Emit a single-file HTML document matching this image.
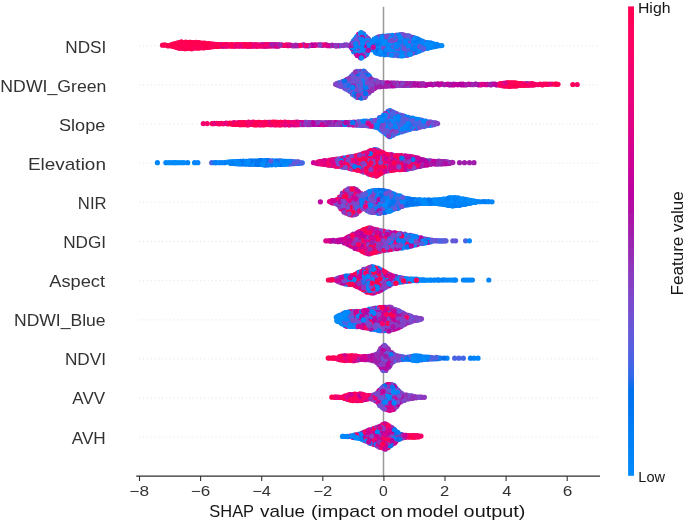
<!DOCTYPE html>
<html><head><meta charset="utf-8"><title>SHAP summary</title>
<style>
html,body{margin:0;padding:0;background:#fff;}
svg{display:block;will-change:transform;}
text{font-family:"Liberation Sans",sans-serif;}
circle{r:2.6px;}
.c0{fill:#008bfb}.c1{fill:#0086fa}.c2{fill:#0084f9}.c3{fill:#007ff7}.c4{fill:#007cf5}.c5{fill:#0077f2}.c6{fill:#0074f0}.c7{fill:#006fed}.c8{fill:#266cea}.c9{fill:#4066e6}.c10{fill:#4c63e3}.c11{fill:#5b5ddd}.c12{fill:#6459da}.c13{fill:#6f52d4}.c14{fill:#794cce}.c15{fill:#7f47c9}.c16{fill:#883fc2}.c17{fill:#8d39be}.c18{fill:#9430b6}.c19{fill:#9829b1}.c20{fill:#a01fab}.c21{fill:#a71aa9}.c22{fill:#b00fa5}.c23{fill:#b604a2}.c24{fill:#bf009d}.c25{fill:#c5009a}.c26{fill:#cd0095}.c27{fill:#d40090}.c28{fill:#d9008c}.c29{fill:#df0086}.c30{fill:#e30082}.c31{fill:#e9007c}.c32{fill:#ec0078}.c33{fill:#f10072}.c34{fill:#f4006e}.c35{fill:#f80067}.c36{fill:#fb0063}.c37{fill:#fe005c}.c38{fill:#ff0058}.c39{fill:#ff0051}
</style></head><body>
<svg width="685" height="523" viewBox="0 0 685 523">
<rect width="685" height="523" fill="#fff"/>
<defs><linearGradient id="cb" x1="0" y1="1" x2="0" y2="0"><stop offset="0.000" stop-color="#008bfb"/><stop offset="0.030" stop-color="#0086fa"/><stop offset="0.061" stop-color="#0082f8"/><stop offset="0.091" stop-color="#007ef6"/><stop offset="0.121" stop-color="#0079f3"/><stop offset="0.152" stop-color="#0074f0"/><stop offset="0.182" stop-color="#006fed"/><stop offset="0.212" stop-color="#306ae9"/><stop offset="0.242" stop-color="#4664e4"/><stop offset="0.273" stop-color="#575fdf"/><stop offset="0.303" stop-color="#6459da"/><stop offset="0.333" stop-color="#6f52d4"/><stop offset="0.364" stop-color="#794cce"/><stop offset="0.394" stop-color="#8244c7"/><stop offset="0.424" stop-color="#8a3cc0"/><stop offset="0.455" stop-color="#9233b9"/><stop offset="0.485" stop-color="#9829b1"/><stop offset="0.515" stop-color="#a01fab"/><stop offset="0.545" stop-color="#aa17a7"/><stop offset="0.576" stop-color="#b30aa3"/><stop offset="0.606" stop-color="#bc009f"/><stop offset="0.636" stop-color="#c5009a"/><stop offset="0.667" stop-color="#cd0095"/><stop offset="0.697" stop-color="#d40090"/><stop offset="0.727" stop-color="#db008a"/><stop offset="0.758" stop-color="#e10084"/><stop offset="0.788" stop-color="#e7007e"/><stop offset="0.818" stop-color="#ec0078"/><stop offset="0.848" stop-color="#f10072"/><stop offset="0.879" stop-color="#f6006c"/><stop offset="0.909" stop-color="#fa0065"/><stop offset="0.939" stop-color="#fd005f"/><stop offset="0.970" stop-color="#ff0058"/><stop offset="1.000" stop-color="#ff0051"/><stop offset="1" stop-color="#ff0051"/></linearGradient><filter id="soft" x="0" y="0" width="100%" height="100%" filterUnits="userSpaceOnUse"><feGaussianBlur stdDeviation="0.42"/></filter></defs>
<g filter="url(#soft)">
<line x1="136.5" x2="599.7" y1="45.9" y2="45.9" stroke="#ebebeb" stroke-width="1.3" stroke-dasharray="1.2 2.61" stroke-dashoffset="1.1"/>
<line x1="136.5" x2="599.7" y1="85.0" y2="85.0" stroke="#ebebeb" stroke-width="1.3" stroke-dasharray="1.2 2.61" stroke-dashoffset="1.1"/>
<line x1="136.5" x2="599.7" y1="124.1" y2="124.1" stroke="#ebebeb" stroke-width="1.3" stroke-dasharray="1.2 2.61" stroke-dashoffset="1.1"/>
<line x1="136.5" x2="599.7" y1="163.2" y2="163.2" stroke="#ebebeb" stroke-width="1.3" stroke-dasharray="1.2 2.61" stroke-dashoffset="1.1"/>
<line x1="136.5" x2="599.7" y1="202.4" y2="202.4" stroke="#ebebeb" stroke-width="1.3" stroke-dasharray="1.2 2.61" stroke-dashoffset="1.1"/>
<line x1="136.5" x2="599.7" y1="241.5" y2="241.5" stroke="#ebebeb" stroke-width="1.3" stroke-dasharray="1.2 2.61" stroke-dashoffset="1.1"/>
<line x1="136.5" x2="599.7" y1="280.6" y2="280.6" stroke="#ebebeb" stroke-width="1.3" stroke-dasharray="1.2 2.61" stroke-dashoffset="1.1"/>
<line x1="136.5" x2="599.7" y1="319.8" y2="319.8" stroke="#ebebeb" stroke-width="1.3" stroke-dasharray="1.2 2.61" stroke-dashoffset="1.1"/>
<line x1="136.5" x2="599.7" y1="358.9" y2="358.9" stroke="#ebebeb" stroke-width="1.3" stroke-dasharray="1.2 2.61" stroke-dashoffset="1.1"/>
<line x1="136.5" x2="599.7" y1="398.0" y2="398.0" stroke="#ebebeb" stroke-width="1.3" stroke-dasharray="1.2 2.61" stroke-dashoffset="1.1"/>
<line x1="136.5" x2="599.7" y1="437.2" y2="437.2" stroke="#ebebeb" stroke-width="1.3" stroke-dasharray="1.2 2.61" stroke-dashoffset="1.1"/>
<line x1="383.5" x2="383.5" y1="6.7" y2="476.0" stroke="#999999" stroke-width="1.5"/>
<g>
<circle class="c0" cx="401.6" cy="37.3" r="2.6"/><circle class="c1" cx="395.0" cy="44.1" r="2.6"/><circle class="c39" cx="200.0" cy="42.8" r="2.6"/><circle class="c0" cx="419.4" cy="41.8" r="2.6"/><circle class="c0" cx="375.5" cy="52.3" r="2.6"/><circle class="c1" cx="433.7" cy="46.6" r="2.6"/>
<circle class="c4" cx="393.0" cy="35.9" r="2.6"/><circle class="c2" cx="405.5" cy="51.0" r="2.6"/><circle class="c24" cx="354.9" cy="41.6" r="2.6"/><circle class="c0" cx="416.9" cy="38.5" r="2.6"/><circle class="c3" cx="427.3" cy="42.5" r="2.6"/><circle class="c14" cx="348.9" cy="45.6" r="2.6"/>
<circle class="c39" cx="189.7" cy="42.3" r="2.6"/><circle class="c0" cx="354.3" cy="48.9" r="2.6"/><circle class="c35" cx="208.4" cy="45.4" r="2.6"/><circle class="c12" cx="360.7" cy="43.9" r="2.6"/><circle class="c11" cx="409.5" cy="49.5" r="2.6"/><circle class="c13" cx="377.6" cy="46.4" r="2.6"/>
<circle class="c2" cx="420.7" cy="45.7" r="2.6"/><circle class="c1" cx="360.0" cy="35.4" r="2.6"/><circle class="c14" cx="403.3" cy="55.4" r="2.6"/><circle class="c38" cx="192.0" cy="44.4" r="2.6"/><circle class="c39" cx="198.7" cy="42.7" r="2.6"/><circle class="c32" cx="237.3" cy="44.8" r="2.6"/>
<circle class="c32" cx="232.1" cy="44.8" r="2.6"/><circle class="c4" cx="387.5" cy="43.2" r="2.6"/><circle class="c28" cx="316.8" cy="45.0" r="2.6"/><circle class="c21" cx="263.9" cy="46.2" r="2.6"/><circle class="c30" cx="274.2" cy="44.7" r="2.6"/><circle class="c0" cx="376.9" cy="39.7" r="2.6"/>
<circle class="c18" cx="330.1" cy="45.7" r="2.6"/><circle class="c24" cx="356.9" cy="46.4" r="2.6"/><circle class="c7" cx="391.5" cy="52.3" r="2.6"/><circle class="c39" cx="202.5" cy="47.3" r="2.6"/><circle class="c17" cx="327.0" cy="45.0" r="2.6"/><circle class="c8" cx="394.7" cy="41.7" r="2.6"/>
<circle class="c1" cx="415.5" cy="49.9" r="2.6"/><circle class="c0" cx="405.8" cy="35.6" r="2.6"/><circle class="c39" cx="199.0" cy="48.1" r="2.6"/><circle class="c39" cx="181.3" cy="48.1" r="2.6"/><circle class="c26" cx="374.3" cy="49.3" r="2.6"/><circle class="c5" cx="438.0" cy="45.6" r="2.6"/>
<circle class="c39" cx="219.5" cy="45.9" r="2.6"/><circle class="c1" cx="392.2" cy="48.0" r="2.6"/><circle class="c1" cx="405.2" cy="49.0" r="2.6"/><circle class="c0" cx="441.8" cy="45.5" r="2.6"/><circle class="c13" cx="383.3" cy="49.8" r="2.6"/><circle class="c11" cx="423.4" cy="47.0" r="2.6"/>
<circle class="c23" cx="315.0" cy="44.8" r="2.6"/><circle class="c0" cx="375.2" cy="40.9" r="2.6"/><circle class="c1" cx="431.1" cy="43.2" r="2.6"/><circle class="c29" cx="314.4" cy="45.4" r="2.6"/><circle class="c3" cx="424.8" cy="48.5" r="2.6"/><circle class="c17" cx="363.9" cy="49.0" r="2.6"/>
<circle class="c37" cx="185.8" cy="42.1" r="2.6"/><circle class="c39" cx="182.6" cy="44.4" r="2.6"/><circle class="c39" cx="208.5" cy="47.2" r="2.6"/><circle class="c2" cx="403.8" cy="44.4" r="2.6"/><circle class="c32" cx="236.1" cy="44.6" r="2.6"/><circle class="c10" cx="404.2" cy="39.3" r="2.6"/>
<circle class="c36" cx="232.2" cy="46.2" r="2.6"/><circle class="c35" cx="257.6" cy="46.1" r="2.6"/><circle class="c3" cx="408.6" cy="45.1" r="2.6"/><circle class="c39" cx="198.2" cy="45.5" r="2.6"/><circle class="c1" cx="406.0" cy="44.5" r="2.6"/><circle class="c0" cx="411.9" cy="50.8" r="2.6"/>
<circle class="c1" cx="401.2" cy="53.1" r="2.6"/><circle class="c13" cx="414.0" cy="37.8" r="2.6"/><circle class="c2" cx="361.4" cy="53.7" r="2.6"/><circle class="c39" cx="196.0" cy="42.3" r="2.6"/><circle class="c2" cx="413.6" cy="50.6" r="2.6"/><circle class="c6" cx="381.0" cy="39.2" r="2.6"/>
<circle class="c0" cx="408.5" cy="47.9" r="2.6"/><circle class="c8" cx="398.1" cy="50.6" r="2.6"/><circle class="c33" cx="209.6" cy="47.0" r="2.6"/><circle class="c2" cx="401.1" cy="46.3" r="2.6"/><circle class="c1" cx="354.8" cy="39.3" r="2.6"/><circle class="c7" cx="419.4" cy="44.3" r="2.6"/>
<circle class="c0" cx="425.1" cy="42.3" r="2.6"/><circle class="c1" cx="412.6" cy="41.7" r="2.6"/><circle class="c39" cx="238.1" cy="44.7" r="2.6"/><circle class="c0" cx="413.7" cy="48.7" r="2.6"/><circle class="c35" cx="251.3" cy="45.9" r="2.6"/><circle class="c12" cx="402.5" cy="53.8" r="2.6"/>
<circle class="c38" cx="190.6" cy="42.3" r="2.6"/><circle class="c13" cx="353.3" cy="45.3" r="2.6"/><circle class="c39" cx="185.4" cy="48.7" r="2.6"/><circle class="c1" cx="403.5" cy="37.4" r="2.6"/><circle class="c6" cx="435.6" cy="46.3" r="2.6"/><circle class="c1" cx="359.2" cy="51.8" r="2.6"/>
<circle class="c2" cx="357.7" cy="35.8" r="2.6"/><circle class="c31" cx="271.8" cy="45.9" r="2.6"/><circle class="c13" cx="362.9" cy="47.8" r="2.6"/><circle class="c2" cx="406.8" cy="42.1" r="2.6"/><circle class="c39" cx="200.7" cy="45.1" r="2.6"/><circle class="c25" cx="339.1" cy="45.6" r="2.6"/>
<circle class="c37" cx="201.9" cy="45.3" r="2.6"/><circle class="c9" cx="399.2" cy="48.5" r="2.6"/><circle class="c11" cx="345.0" cy="45.0" r="2.6"/><circle class="c36" cx="270.4" cy="45.9" r="2.6"/><circle class="c2" cx="386.8" cy="38.9" r="2.6"/><circle class="c23" cx="311.6" cy="45.5" r="2.6"/>
<circle class="c2" cx="385.0" cy="38.3" r="2.6"/><circle class="c2" cx="365.0" cy="44.4" r="2.6"/><circle class="c15" cx="363.3" cy="38.7" r="2.6"/><circle class="c11" cx="413.3" cy="44.2" r="2.6"/><circle class="c1" cx="420.2" cy="48.5" r="2.6"/><circle class="c33" cx="220.5" cy="46.2" r="2.6"/>
<circle class="c8" cx="413.8" cy="46.6" r="2.6"/><circle class="c16" cx="395.4" cy="35.5" r="2.6"/><circle class="c38" cx="195.6" cy="47.8" r="2.6"/><circle class="c38" cx="202.8" cy="43.2" r="2.6"/><circle class="c0" cx="365.7" cy="47.8" r="2.6"/><circle class="c13" cx="400.6" cy="34.7" r="2.6"/>
<circle class="c8" cx="386.0" cy="42.8" r="2.6"/><circle class="c0" cx="359.1" cy="54.0" r="2.6"/><circle class="c39" cx="180.8" cy="44.7" r="2.6"/><circle class="c35" cx="238.7" cy="46.1" r="2.6"/><circle class="c9" cx="398.1" cy="44.4" r="2.6"/><circle class="c15" cx="410.2" cy="47.2" r="2.6"/>
<circle class="c37" cx="248.4" cy="46.1" r="2.6"/><circle class="c0" cx="379.2" cy="48.6" r="2.6"/><circle class="c39" cx="210.2" cy="46.9" r="2.6"/><circle class="c1" cx="409.8" cy="38.4" r="2.6"/><circle class="c2" cx="405.7" cy="37.9" r="2.6"/><circle class="c39" cx="193.7" cy="44.0" r="2.6"/>
<circle class="c39" cx="179.5" cy="44.3" r="2.6"/><circle class="c39" cx="174.1" cy="43.9" r="2.6"/><circle class="c0" cx="387.1" cy="40.4" r="2.6"/><circle class="c1" cx="357.7" cy="39.8" r="2.6"/><circle class="c2" cx="353.7" cy="51.7" r="2.6"/><circle class="c8" cx="375.6" cy="47.4" r="2.6"/>
<circle class="c28" cx="260.1" cy="45.8" r="2.6"/><circle class="c5" cx="411.3" cy="37.2" r="2.6"/><circle class="c38" cx="175.8" cy="43.5" r="2.6"/><circle class="c37" cx="228.0" cy="44.7" r="2.6"/><circle class="c35" cx="243.8" cy="44.7" r="2.6"/><circle class="c17" cx="412.5" cy="37.5" r="2.6"/>
<circle class="c35" cx="262.6" cy="44.8" r="2.6"/><circle class="c39" cx="180.3" cy="46.3" r="2.6"/><circle class="c36" cx="269.0" cy="44.6" r="2.6"/><circle class="c13" cx="412.4" cy="39.9" r="2.6"/><circle class="c14" cx="359.4" cy="56.3" r="2.6"/><circle class="c26" cx="358.6" cy="34.4" r="2.6"/>
<circle class="c13" cx="354.8" cy="46.2" r="2.6"/><circle class="c3" cx="405.9" cy="50.5" r="2.6"/><circle class="c3" cx="413.4" cy="52.5" r="2.6"/><circle class="c25" cx="366.5" cy="50.1" r="2.6"/><circle class="c0" cx="383.3" cy="52.0" r="2.6"/><circle class="c38" cx="234.5" cy="44.8" r="2.6"/>
<circle class="c2" cx="422.5" cy="49.7" r="2.6"/><circle class="c3" cx="360.6" cy="50.8" r="2.6"/><circle class="c38" cx="252.3" cy="44.8" r="2.6"/><circle class="c13" cx="386.5" cy="54.3" r="2.6"/><circle class="c2" cx="408.0" cy="40.4" r="2.6"/><circle class="c39" cx="215.2" cy="46.4" r="2.6"/>
<circle class="c38" cx="187.2" cy="44.0" r="2.6"/><circle class="c11" cx="344.4" cy="45.0" r="2.6"/><circle class="c38" cx="176.7" cy="45.6" r="2.6"/><circle class="c39" cx="246.5" cy="44.5" r="2.6"/><circle class="c13" cx="385.2" cy="45.7" r="2.6"/><circle class="c10" cx="381.6" cy="40.8" r="2.6"/>
<circle class="c30" cx="258.1" cy="45.9" r="2.6"/><circle class="c17" cx="407.2" cy="54.9" r="2.6"/><circle class="c25" cx="303.7" cy="44.9" r="2.6"/><circle class="c0" cx="433.6" cy="44.1" r="2.6"/><circle class="c39" cx="222.3" cy="46.0" r="2.6"/><circle class="c7" cx="430.3" cy="43.0" r="2.6"/>
<circle class="c18" cx="332.0" cy="45.1" r="2.6"/><circle class="c2" cx="357.5" cy="50.7" r="2.6"/><circle class="c39" cx="179.9" cy="48.2" r="2.6"/><circle class="c21" cx="351.4" cy="47.6" r="2.6"/><circle class="c27" cx="284.9" cy="45.3" r="2.6"/><circle class="c0" cx="427.8" cy="42.5" r="2.6"/>
<circle class="c1" cx="403.7" cy="50.7" r="2.6"/><circle class="c4" cx="427.4" cy="48.2" r="2.6"/><circle class="c0" cx="440.3" cy="45.7" r="2.6"/><circle class="c0" cx="415.5" cy="45.3" r="2.6"/><circle class="c38" cx="260.8" cy="44.9" r="2.6"/><circle class="c8" cx="390.1" cy="40.9" r="2.6"/>
<circle class="c1" cx="361.3" cy="32.7" r="2.6"/><circle class="c13" cx="402.0" cy="34.6" r="2.6"/><circle class="c29" cx="256.8" cy="44.9" r="2.6"/><circle class="c8" cx="417.2" cy="43.2" r="2.6"/><circle class="c39" cx="203.5" cy="45.2" r="2.6"/><circle class="c10" cx="406.4" cy="53.0" r="2.6"/>
<circle class="c3" cx="377.0" cy="37.6" r="2.6"/><circle class="c25" cx="247.6" cy="46.2" r="2.6"/><circle class="c37" cx="190.6" cy="46.5" r="2.6"/><circle class="c0" cx="357.6" cy="48.9" r="2.6"/><circle class="c0" cx="437.2" cy="44.6" r="2.6"/><circle class="c0" cx="384.8" cy="36.3" r="2.6"/>
<circle class="c39" cx="165.3" cy="45.0" r="2.6"/><circle class="c26" cx="352.5" cy="49.0" r="2.6"/><circle class="c16" cx="363.9" cy="36.9" r="2.6"/><circle class="c1" cx="397.8" cy="37.4" r="2.6"/><circle class="c0" cx="421.2" cy="41.0" r="2.6"/><circle class="c20" cx="276.1" cy="45.8" r="2.6"/>
<circle class="c0" cx="401.4" cy="39.3" r="2.6"/><circle class="c1" cx="361.2" cy="35.0" r="2.6"/><circle class="c39" cx="168.0" cy="45.5" r="2.6"/><circle class="c14" cx="388.6" cy="42.9" r="2.6"/><circle class="c14" cx="406.3" cy="38.0" r="2.6"/><circle class="c3" cx="366.5" cy="52.3" r="2.6"/>
<circle class="c37" cx="186.6" cy="48.1" r="2.6"/><circle class="c34" cx="212.1" cy="46.7" r="2.6"/><circle class="c3" cx="394.0" cy="38.0" r="2.6"/><circle class="c36" cx="278.2" cy="44.9" r="2.6"/><circle class="c35" cx="290.0" cy="45.4" r="2.6"/><circle class="c4" cx="365.1" cy="39.2" r="2.6"/>
<circle class="c0" cx="392.4" cy="35.4" r="2.6"/><circle class="c20" cx="305.2" cy="45.8" r="2.6"/><circle class="c2" cx="367.5" cy="52.4" r="2.6"/><circle class="c10" cx="373.0" cy="49.6" r="2.6"/><circle class="c0" cx="388.9" cy="41.1" r="2.6"/><circle class="c39" cx="170.7" cy="45.1" r="2.6"/>
<circle class="c25" cx="360.8" cy="55.7" r="2.6"/><circle class="c24" cx="325.8" cy="44.9" r="2.6"/><circle class="c10" cx="411.5" cy="49.7" r="2.6"/><circle class="c6" cx="377.9" cy="48.6" r="2.6"/><circle class="c15" cx="358.6" cy="47.2" r="2.6"/><circle class="c35" cx="235.1" cy="46.2" r="2.6"/>
<circle class="c38" cx="194.8" cy="46.3" r="2.6"/><circle class="c1" cx="388.7" cy="38.1" r="2.6"/><circle class="c3" cx="361.1" cy="42.3" r="2.6"/><circle class="c16" cx="401.6" cy="41.7" r="2.6"/><circle class="c2" cx="374.4" cy="43.0" r="2.6"/><circle class="c15" cx="357.2" cy="44.6" r="2.6"/>
<circle class="c1" cx="393.2" cy="48.6" r="2.6"/><circle class="c14" cx="406.1" cy="48.3" r="2.6"/><circle class="c14" cx="396.6" cy="35.2" r="2.6"/><circle class="c36" cx="297.4" cy="45.6" r="2.6"/><circle class="c14" cx="403.5" cy="34.8" r="2.6"/><circle class="c8" cx="390.9" cy="47.6" r="2.6"/>
<circle class="c5" cx="416.4" cy="47.2" r="2.6"/><circle class="c8" cx="379.9" cy="43.3" r="2.6"/><circle class="c18" cx="331.2" cy="45.6" r="2.6"/><circle class="c25" cx="362.3" cy="44.3" r="2.6"/><circle class="c39" cx="209.2" cy="43.6" r="2.6"/><circle class="c11" cx="399.1" cy="50.8" r="2.6"/>
<circle class="c24" cx="321.3" cy="44.8" r="2.6"/><circle class="c39" cx="181.4" cy="44.4" r="2.6"/><circle class="c39" cx="206.5" cy="43.5" r="2.6"/><circle class="c1" cx="403.4" cy="42.0" r="2.6"/><circle class="c10" cx="408.6" cy="38.2" r="2.6"/><circle class="c37" cx="224.7" cy="46.2" r="2.6"/>
<circle class="c17" cx="273.8" cy="45.8" r="2.6"/><circle class="c13" cx="410.7" cy="45.3" r="2.6"/><circle class="c9" cx="405.0" cy="43.9" r="2.6"/><circle class="c1" cx="395.8" cy="50.5" r="2.6"/><circle class="c36" cx="220.1" cy="44.5" r="2.6"/><circle class="c10" cx="396.9" cy="53.3" r="2.6"/>
<circle class="c35" cx="268.6" cy="45.8" r="2.6"/><circle class="c38" cx="188.1" cy="46.1" r="2.6"/><circle class="c19" cx="278.6" cy="44.9" r="2.6"/><circle class="c2" cx="395.1" cy="49.0" r="2.6"/><circle class="c38" cx="190.6" cy="48.1" r="2.6"/><circle class="c1" cx="390.1" cy="35.9" r="2.6"/>
<circle class="c2" cx="355.4" cy="51.1" r="2.6"/><circle class="c3" cx="394.6" cy="50.7" r="2.6"/><circle class="c39" cx="203.7" cy="47.9" r="2.6"/><circle class="c10" cx="420.6" cy="50.2" r="2.6"/><circle class="c1" cx="363.2" cy="54.9" r="2.6"/><circle class="c2" cx="390.0" cy="49.9" r="2.6"/>
<circle class="c23" cx="311.9" cy="44.8" r="2.6"/><circle class="c39" cx="218.2" cy="44.5" r="2.6"/><circle class="c10" cx="398.6" cy="42.3" r="2.6"/><circle class="c1" cx="423.8" cy="43.9" r="2.6"/><circle class="c0" cx="358.9" cy="40.9" r="2.6"/><circle class="c0" cx="370.2" cy="45.5" r="2.6"/>
<circle class="c22" cx="251.4" cy="44.5" r="2.6"/><circle class="c8" cx="410.3" cy="38.8" r="2.6"/><circle class="c9" cx="389.0" cy="47.8" r="2.6"/><circle class="c39" cx="213.5" cy="46.6" r="2.6"/><circle class="c38" cx="215.5" cy="44.4" r="2.6"/><circle class="c27" cx="327.8" cy="45.7" r="2.6"/>
<circle class="c39" cx="172.9" cy="44.3" r="2.6"/><circle class="c10" cx="371.0" cy="43.1" r="2.6"/><circle class="c2" cx="393.0" cy="44.6" r="2.6"/><circle class="c36" cx="213.2" cy="44.2" r="2.6"/><circle class="c15" cx="396.0" cy="48.8" r="2.6"/><circle class="c7" cx="385.9" cy="52.3" r="2.6"/>
<circle class="c3" cx="391.0" cy="52.1" r="2.6"/><circle class="c0" cx="362.2" cy="48.7" r="2.6"/><circle class="c15" cx="393.3" cy="55.3" r="2.6"/><circle class="c14" cx="396.8" cy="37.4" r="2.6"/><circle class="c34" cx="211.9" cy="44.1" r="2.6"/><circle class="c4" cx="360.4" cy="41.9" r="2.6"/>
<circle class="c10" cx="339.7" cy="45.8" r="2.6"/><circle class="c18" cx="322.4" cy="45.5" r="2.6"/><circle class="c7" cx="381.6" cy="47.4" r="2.6"/><circle class="c3" cx="353.3" cy="41.1" r="2.6"/><circle class="c2" cx="369.7" cy="41.7" r="2.6"/><circle class="c32" cx="234.3" cy="45.9" r="2.6"/>
<circle class="c32" cx="263.6" cy="45.9" r="2.6"/><circle class="c15" cx="383.6" cy="40.8" r="2.6"/><circle class="c27" cx="278.6" cy="46.1" r="2.6"/><circle class="c37" cx="181.3" cy="46.3" r="2.6"/><circle class="c30" cx="225.9" cy="44.7" r="2.6"/><circle class="c11" cx="396.2" cy="40.1" r="2.6"/>
<circle class="c25" cx="356.2" cy="53.8" r="2.6"/><circle class="c26" cx="291.4" cy="45.4" r="2.6"/><circle class="c8" cx="391.0" cy="42.8" r="2.6"/><circle class="c0" cx="430.9" cy="45.4" r="2.6"/><circle class="c1" cx="418.6" cy="49.2" r="2.6"/><circle class="c39" cx="187.0" cy="48.1" r="2.6"/>
<circle class="c13" cx="381.9" cy="51.9" r="2.6"/><circle class="c39" cx="183.6" cy="46.7" r="2.6"/><circle class="c14" cx="399.4" cy="53.6" r="2.6"/><circle class="c28" cx="318.8" cy="44.9" r="2.6"/><circle class="c31" cx="240.9" cy="44.5" r="2.6"/><circle class="c2" cx="436.3" cy="44.4" r="2.6"/>
<circle class="c39" cx="176.3" cy="47.2" r="2.6"/><circle class="c39" cx="207.0" cy="45.5" r="2.6"/><circle class="c15" cx="365.9" cy="36.6" r="2.6"/><circle class="c38" cx="177.7" cy="42.8" r="2.6"/><circle class="c0" cx="394.7" cy="39.6" r="2.6"/><circle class="c7" cx="384.8" cy="54.7" r="2.6"/>
<circle class="c12" cx="377.7" cy="44.1" r="2.6"/><circle class="c2" cx="410.6" cy="51.6" r="2.6"/><circle class="c0" cx="366.6" cy="54.4" r="2.6"/><circle class="c27" cx="368.8" cy="46.6" r="2.6"/><circle class="c35" cx="226.2" cy="44.5" r="2.6"/><circle class="c26" cx="372.1" cy="42.9" r="2.6"/>
<circle class="c2" cx="392.4" cy="50.1" r="2.6"/><circle class="c31" cx="264.1" cy="44.7" r="2.6"/><circle class="c12" cx="388.3" cy="47.3" r="2.6"/><circle class="c1" cx="369.1" cy="39.8" r="2.6"/><circle class="c33" cx="249.6" cy="46.2" r="2.6"/><circle class="c15" cx="373.9" cy="45.1" r="2.6"/>
<circle class="c0" cx="403.8" cy="46.8" r="2.6"/><circle class="c1" cx="387.3" cy="35.8" r="2.6"/><circle class="c4" cx="350.6" cy="44.9" r="2.6"/><circle class="c13" cx="358.9" cy="38.3" r="2.6"/><circle class="c38" cx="178.6" cy="46.0" r="2.6"/><circle class="c2" cx="422.7" cy="47.3" r="2.6"/>
<circle class="c14" cx="408.9" cy="41.0" r="2.6"/><circle class="c15" cx="402.6" cy="48.9" r="2.6"/><circle class="c13" cx="408.6" cy="52.5" r="2.6"/><circle class="c0" cx="388.4" cy="54.6" r="2.6"/><circle class="c38" cx="182.8" cy="42.6" r="2.6"/><circle class="c1" cx="403.4" cy="53.0" r="2.6"/>
<circle class="c0" cx="393.2" cy="52.6" r="2.6"/><circle class="c23" cx="334.6" cy="45.6" r="2.6"/><circle class="c39" cx="197.6" cy="47.9" r="2.6"/><circle class="c0" cx="420.7" cy="42.8" r="2.6"/><circle class="c16" cx="343.3" cy="45.6" r="2.6"/><circle class="c0" cx="412.6" cy="44.2" r="2.6"/>
<circle class="c10" cx="399.0" cy="35.2" r="2.6"/><circle class="c0" cx="401.2" cy="48.9" r="2.6"/><circle class="c2" cx="391.7" cy="38.4" r="2.6"/><circle class="c39" cx="184.4" cy="46.0" r="2.6"/><circle class="c1" cx="357.5" cy="37.4" r="2.6"/><circle class="c39" cx="174.8" cy="46.8" r="2.6"/>
<circle class="c1" cx="372.2" cy="48.1" r="2.6"/><circle class="c39" cx="186.4" cy="46.0" r="2.6"/><circle class="c1" cx="359.9" cy="48.9" r="2.6"/><circle class="c5" cx="368.7" cy="42.3" r="2.6"/><circle class="c18" cx="408.8" cy="36.2" r="2.6"/><circle class="c38" cx="189.0" cy="46.2" r="2.6"/>
<circle class="c36" cx="256.4" cy="46.2" r="2.6"/><circle class="c25" cx="223.5" cy="46.1" r="2.6"/><circle class="c0" cx="379.7" cy="53.6" r="2.6"/><circle class="c0" cx="363.3" cy="40.8" r="2.6"/><circle class="c38" cx="243.3" cy="44.7" r="2.6"/><circle class="c1" cx="356.3" cy="49.0" r="2.6"/>
<circle class="c0" cx="362.8" cy="35.7" r="2.6"/><circle class="c0" cx="388.3" cy="52.1" r="2.6"/><circle class="c10" cx="380.2" cy="54.2" r="2.6"/><circle class="c1" cx="383.7" cy="45.6" r="2.6"/><circle class="c0" cx="378.5" cy="46.4" r="2.6"/><circle class="c24" cx="362.5" cy="45.1" r="2.6"/>
<circle class="c34" cx="288.1" cy="45.7" r="2.6"/><circle class="c25" cx="375.6" cy="45.4" r="2.6"/><circle class="c11" cx="410.3" cy="41.0" r="2.6"/><circle class="c15" cx="402.3" cy="46.3" r="2.6"/><circle class="c3" cx="426.7" cy="46.2" r="2.6"/><circle class="c2" cx="381.7" cy="49.3" r="2.6"/>
<circle class="c36" cx="286.4" cy="44.8" r="2.6"/><circle class="c0" cx="366.5" cy="43.5" r="2.6"/><circle class="c39" cx="178.0" cy="47.8" r="2.6"/><circle class="c38" cx="246.3" cy="46.1" r="2.6"/><circle class="c15" cx="400.3" cy="51.0" r="2.6"/><circle class="c14" cx="396.7" cy="44.5" r="2.6"/>
<circle class="c37" cx="229.1" cy="45.9" r="2.6"/><circle class="c1" cx="393.1" cy="50.6" r="2.6"/><circle class="c1" cx="423.2" cy="45.6" r="2.6"/><circle class="c17" cx="394.3" cy="46.1" r="2.6"/><circle class="c39" cx="196.9" cy="45.3" r="2.6"/><circle class="c15" cx="387.1" cy="49.8" r="2.6"/>
<circle class="c7" cx="393.5" cy="42.2" r="2.6"/><circle class="c0" cx="376.1" cy="42.7" r="2.6"/><circle class="c1" cx="414.7" cy="42.9" r="2.6"/><circle class="c3" cx="382.0" cy="45.3" r="2.6"/><circle class="c0" cx="396.9" cy="41.9" r="2.6"/><circle class="c3" cx="415.1" cy="52.6" r="2.6"/>
<circle class="c26" cx="360.5" cy="57.8" r="2.6"/><circle class="c31" cx="227.8" cy="45.9" r="2.6"/><circle class="c25" cx="367.1" cy="45.6" r="2.6"/><circle class="c12" cx="360.7" cy="53.0" r="2.6"/><circle class="c39" cx="164.5" cy="45.0" r="2.6"/><circle class="c15" cx="356.3" cy="41.6" r="2.6"/>
<circle class="c39" cx="185.4" cy="42.5" r="2.6"/><circle class="c3" cx="381.3" cy="53.8" r="2.6"/><circle class="c0" cx="418.1" cy="46.5" r="2.6"/><circle class="c0" cx="368.3" cy="48.3" r="2.6"/><circle class="c34" cx="267.8" cy="44.6" r="2.6"/><circle class="c35" cx="221.5" cy="44.5" r="2.6"/>
<circle class="c39" cx="196.9" cy="47.8" r="2.6"/><circle class="c1" cx="391.9" cy="45.2" r="2.6"/><circle class="c2" cx="367.5" cy="48.0" r="2.6"/><circle class="c3" cx="387.5" cy="45.4" r="2.6"/><circle class="c15" cx="398.0" cy="55.7" r="2.6"/><circle class="c9" cx="375.7" cy="50.0" r="2.6"/>
<circle class="c14" cx="390.1" cy="45.3" r="2.6"/><circle class="c39" cx="198.8" cy="45.0" r="2.6"/><circle class="c12" cx="387.3" cy="38.1" r="2.6"/><circle class="c38" cx="211.2" cy="44.0" r="2.6"/><circle class="c1" cx="433.0" cy="43.9" r="2.6"/><circle class="c29" cx="266.1" cy="46.2" r="2.6"/>
<circle class="c9" cx="399.5" cy="37.2" r="2.6"/><circle class="c0" cx="356.4" cy="37.2" r="2.6"/><circle class="c2" cx="418.0" cy="51.2" r="2.6"/><circle class="c20" cx="298.8" cy="45.7" r="2.6"/><circle class="c10" cx="401.2" cy="43.9" r="2.6"/><circle class="c15" cx="386.6" cy="41.1" r="2.6"/>
<circle class="c1" cx="428.3" cy="45.0" r="2.6"/><circle class="c17" cx="295.6" cy="45.0" r="2.6"/><circle class="c18" cx="302.8" cy="45.0" r="2.6"/><circle class="c0" cx="381.1" cy="41.5" r="2.6"/><circle class="c39" cx="193.8" cy="46.1" r="2.6"/><circle class="c1" cx="371.0" cy="47.7" r="2.6"/>
<circle class="c25" cx="377.3" cy="42.2" r="2.6"/><circle class="c24" cx="364.8" cy="46.6" r="2.6"/><circle class="c2" cx="397.8" cy="53.2" r="2.6"/><circle class="c8" cx="418.3" cy="39.4" r="2.6"/><circle class="c5" cx="366.4" cy="39.0" r="2.6"/><circle class="c37" cx="204.8" cy="43.2" r="2.6"/>
<circle class="c31" cx="255.1" cy="44.9" r="2.6"/><circle class="c38" cx="192.0" cy="46.3" r="2.6"/><circle class="c1" cx="374.2" cy="39.2" r="2.6"/><circle class="c2" cx="383.7" cy="39.1" r="2.6"/><circle class="c10" cx="385.5" cy="49.7" r="2.6"/><circle class="c30" cx="308.8" cy="45.6" r="2.6"/>
<circle class="c0" cx="385.4" cy="43.0" r="2.6"/><circle class="c9" cx="425.4" cy="46.3" r="2.6"/><circle class="c9" cx="388.7" cy="52.6" r="2.6"/><circle class="c10" cx="394.0" cy="46.6" r="2.6"/><circle class="c10" cx="402.0" cy="39.5" r="2.6"/><circle class="c15" cx="358.4" cy="49.7" r="2.6"/>
<circle class="c15" cx="398.8" cy="39.6" r="2.6"/><circle class="c10" cx="404.6" cy="53.3" r="2.6"/><circle class="c38" cx="231.2" cy="46.0" r="2.6"/><circle class="c37" cx="239.5" cy="44.6" r="2.6"/><circle class="c27" cx="275.2" cy="46.0" r="2.6"/><circle class="c15" cx="363.5" cy="33.9" r="2.6"/>
<circle class="c32" cx="272.8" cy="44.7" r="2.6"/><circle class="c34" cx="254.0" cy="45.9" r="2.6"/><circle class="c5" cx="360.7" cy="46.2" r="2.6"/><circle class="c1" cx="372.4" cy="45.6" r="2.6"/><circle class="c1" cx="385.3" cy="41.1" r="2.6"/><circle class="c17" cx="407.6" cy="55.1" r="2.6"/>
<circle class="c38" cx="178.8" cy="47.8" r="2.6"/><circle class="c39" cx="171.5" cy="44.8" r="2.6"/><circle class="c15" cx="380.3" cy="36.7" r="2.6"/><circle class="c14" cx="423.5" cy="41.8" r="2.6"/><circle class="c32" cx="237.0" cy="46.0" r="2.6"/><circle class="c38" cx="195.4" cy="42.9" r="2.6"/>
<circle class="c3" cx="364.2" cy="42.0" r="2.6"/><circle class="c18" cx="385.7" cy="47.7" r="2.6"/><circle class="c3" cx="405.3" cy="40.1" r="2.6"/><circle class="c2" cx="427.1" cy="44.0" r="2.6"/><circle class="c0" cx="357.0" cy="53.2" r="2.6"/><circle class="c1" cx="399.8" cy="43.9" r="2.6"/>
<circle class="c9" cx="405.3" cy="55.3" r="2.6"/><circle class="c27" cx="375.3" cy="45.2" r="2.6"/><circle class="c21" cx="275.8" cy="44.6" r="2.6"/><circle class="c19" cx="293.0" cy="45.9" r="2.6"/><circle class="c1" cx="405.1" cy="46.3" r="2.6"/><circle class="c37" cx="186.2" cy="44.6" r="2.6"/>
<circle class="c3" cx="409.8" cy="51.8" r="2.6"/><circle class="c16" cx="308.1" cy="45.9" r="2.6"/><circle class="c12" cx="418.2" cy="41.7" r="2.6"/><circle class="c6" cx="385.9" cy="45.1" r="2.6"/><circle class="c3" cx="359.9" cy="37.3" r="2.6"/><circle class="c15" cx="367.9" cy="38.3" r="2.6"/>
<circle class="c22" cx="350.7" cy="46.1" r="2.6"/><circle class="c15" cx="358.8" cy="36.0" r="2.6"/><circle class="c12" cx="378.6" cy="39.6" r="2.6"/><circle class="c31" cx="243.8" cy="46.2" r="2.6"/><circle class="c12" cx="408.8" cy="43.5" r="2.6"/><circle class="c39" cx="180.7" cy="42.7" r="2.6"/>
<circle class="c33" cx="258.1" cy="44.8" r="2.6"/><circle class="c13" cx="389.8" cy="54.6" r="2.6"/><circle class="c10" cx="380.0" cy="45.0" r="2.6"/><circle class="c39" cx="203.8" cy="43.5" r="2.6"/><circle class="c0" cx="426.1" cy="44.1" r="2.6"/><circle class="c32" cx="306.4" cy="45.5" r="2.6"/>
<circle class="c2" cx="422.2" cy="41.0" r="2.6"/><circle class="c14" cx="411.0" cy="43.3" r="2.6"/><circle class="c24" cx="336.6" cy="45.9" r="2.6"/><circle class="c1" cx="407.2" cy="40.0" r="2.6"/><circle class="c1" cx="410.8" cy="47.4" r="2.6"/><circle class="c15" cx="391.7" cy="54.5" r="2.6"/>
<circle class="c39" cx="217.3" cy="46.4" r="2.6"/><circle class="c36" cx="191.7" cy="48.8" r="2.6"/><circle class="c33" cx="239.8" cy="46.0" r="2.6"/><circle class="c14" cx="351.9" cy="43.3" r="2.6"/><circle class="c0" cx="395.6" cy="53.0" r="2.6"/><circle class="c9" cx="382.1" cy="43.5" r="2.6"/>
<circle class="c28" cx="289.1" cy="44.9" r="2.6"/><circle class="c4" cx="363.9" cy="53.5" r="2.6"/><circle class="c2" cx="413.5" cy="41.8" r="2.6"/><circle class="c10" cx="408.3" cy="49.8" r="2.6"/><circle class="c0" cx="357.2" cy="42.2" r="2.6"/><circle class="c31" cx="222.3" cy="44.6" r="2.6"/>
<circle class="c9" cx="383.2" cy="36.1" r="2.6"/><circle class="c12" cx="388.8" cy="36.2" r="2.6"/><circle class="c12" cx="364.8" cy="55.8" r="2.6"/><circle class="c2" cx="432.6" cy="47.0" r="2.6"/><circle class="c2" cx="422.1" cy="43.3" r="2.6"/><circle class="c2" cx="363.7" cy="52.4" r="2.6"/>
<circle class="c1" cx="359.4" cy="45.0" r="2.6"/><circle class="c3" cx="416.2" cy="49.3" r="2.6"/><circle class="c2" cx="402.4" cy="51.2" r="2.6"/><circle class="c2" cx="379.7" cy="51.5" r="2.6"/><circle class="c0" cx="362.0" cy="51.1" r="2.6"/><circle class="c39" cx="192.0" cy="42.5" r="2.6"/>
<circle class="c1" cx="364.0" cy="34.8" r="2.6"/><circle class="c29" cx="267.6" cy="46.0" r="2.6"/><circle class="c1" cx="414.3" cy="39.9" r="2.6"/><circle class="c9" cx="412.5" cy="46.6" r="2.6"/><circle class="c39" cx="194.6" cy="44.2" r="2.6"/><circle class="c10" cx="400.7" cy="41.7" r="2.6"/>
<circle class="c36" cx="300.5" cy="45.4" r="2.6"/><circle class="c39" cx="245.2" cy="44.7" r="2.6"/><circle class="c2" cx="370.9" cy="49.7" r="2.6"/><circle class="c39" cx="189.7" cy="48.5" r="2.6"/><circle class="c15" cx="397.8" cy="39.6" r="2.6"/><circle class="c21" cx="261.8" cy="44.8" r="2.6"/>
<circle class="c3" cx="366.5" cy="41.1" r="2.6"/><circle class="c0" cx="360.6" cy="33.2" r="2.6"/><circle class="c0" cx="375.3" cy="47.1" r="2.6"/><circle class="c0" cx="430.2" cy="47.2" r="2.6"/><circle class="c7" cx="378.5" cy="43.8" r="2.6"/><circle class="c39" cx="204.9" cy="47.0" r="2.6"/>
<circle class="c1" cx="416.1" cy="45.3" r="2.6"/><circle class="c15" cx="386.1" cy="36.6" r="2.6"/><circle class="c39" cx="181.4" cy="41.9" r="2.6"/><circle class="c22" cx="362.2" cy="37.3" r="2.6"/><circle class="c11" cx="416.6" cy="41.3" r="2.6"/><circle class="c1" cx="359.8" cy="39.5" r="2.6"/>
<circle class="c36" cx="270.4" cy="44.8" r="2.6"/><circle class="c1" cx="428.2" cy="47.9" r="2.6"/><circle class="c38" cx="188.8" cy="44.1" r="2.6"/><circle class="c1" cx="399.4" cy="46.8" r="2.6"/><circle class="c35" cx="282.0" cy="44.8" r="2.6"/><circle class="c37" cx="249.2" cy="44.5" r="2.6"/>
<circle class="c3" cx="437.4" cy="45.8" r="2.6"/><circle class="c39" cx="171.6" cy="46.1" r="2.6"/><circle class="c38" cx="242.6" cy="46.0" r="2.6"/><circle class="c9" cx="394.5" cy="54.9" r="2.6"/><circle class="c25" cx="366.3" cy="45.3" r="2.6"/><circle class="c37" cx="184.8" cy="44.1" r="2.6"/>
<circle class="c0" cx="391.5" cy="42.6" r="2.6"/><circle class="c33" cx="254.5" cy="44.9" r="2.6"/><circle class="c14" cx="399.7" cy="55.3" r="2.6"/><circle class="c26" cx="362.9" cy="56.5" r="2.6"/><circle class="c0" cx="390.8" cy="38.6" r="2.6"/><circle class="c15" cx="378.5" cy="36.8" r="2.6"/>
<circle class="c2" cx="406.6" cy="46.1" r="2.6"/><circle class="c37" cx="230.4" cy="44.8" r="2.6"/><circle class="c39" cx="192.9" cy="42.7" r="2.6"/><circle class="c39" cx="179.5" cy="42.6" r="2.6"/><circle class="c2" cx="375.9" cy="40.8" r="2.6"/><circle class="c2" cx="398.4" cy="35.4" r="2.6"/>
<circle class="c0" cx="397.9" cy="46.8" r="2.6"/><circle class="c37" cx="194.1" cy="48.1" r="2.6"/><circle class="c2" cx="400.3" cy="55.7" r="2.6"/><circle class="c3" cx="415.4" cy="47.6" r="2.6"/><circle class="c12" cx="423.5" cy="48.8" r="2.6"/><circle class="c2" cx="375.3" cy="52.0" r="2.6"/>
<circle class="c1" cx="361.6" cy="46.5" r="2.6"/><circle class="c25" cx="357.2" cy="55.4" r="2.6"/><circle class="c0" cx="388.9" cy="49.7" r="2.6"/><circle class="c1" cx="367.7" cy="40.7" r="2.6"/><circle class="c2" cx="409.5" cy="54.2" r="2.6"/><circle class="c38" cx="201.2" cy="47.7" r="2.6"/>
<circle class="c0" cx="384.9" cy="47.6" r="2.6"/><circle class="c2" cx="355.5" cy="46.8" r="2.6"/><circle class="c31" cx="240.6" cy="46.0" r="2.6"/><circle class="c1" cx="376.9" cy="53.3" r="2.6"/><circle class="c0" cx="400.2" cy="37.5" r="2.6"/><circle class="c14" cx="406.3" cy="35.9" r="2.6"/>
<circle class="c37" cx="217.3" cy="44.7" r="2.6"/><circle class="c4" cx="372.6" cy="43.4" r="2.6"/><circle class="c13" cx="356.2" cy="39.6" r="2.6"/><circle class="c15" cx="408.2" cy="43.2" r="2.6"/><circle class="c0" cx="391.2" cy="55.1" r="2.6"/><circle class="c2" cx="354.4" cy="44.3" r="2.6"/>
<circle class="c39" cx="217.6" cy="46.3" r="2.6"/><circle class="c21" cx="271.4" cy="44.7" r="2.6"/><circle class="c38" cx="162.5" cy="45.2" r="2.6"/><circle class="c39" cx="173.7" cy="46.4" r="2.6"/><circle class="c10" cx="401.9" cy="44.3" r="2.6"/><circle class="c0" cx="380.2" cy="49.7" r="2.6"/>
<circle class="c34" cx="261.1" cy="46.1" r="2.6"/><circle class="c35" cx="283.4" cy="45.5" r="2.6"/><circle class="c3" cx="399.7" cy="42.0" r="2.6"/><circle class="c15" cx="364.0" cy="51.4" r="2.6"/><circle class="c12" cx="397.5" cy="48.3" r="2.6"/><circle class="c1" cx="363.0" cy="49.8" r="2.6"/>
<circle class="c3" cx="419.5" cy="40.1" r="2.6"/><circle class="c2" cx="372.8" cy="41.1" r="2.6"/><circle class="c17" cx="335.6" cy="45.7" r="2.6"/><circle class="c33" cx="265.7" cy="44.5" r="2.6"/><circle class="c1" cx="375.9" cy="38.3" r="2.6"/><circle class="c31" cx="252.6" cy="46.2" r="2.6"/>
<circle class="c14" cx="367.8" cy="42.8" r="2.6"/><circle class="c8" cx="416.7" cy="52.0" r="2.6"/><circle class="c0" cx="381.0" cy="47.7" r="2.6"/><circle class="c28" cx="277.4" cy="46.1" r="2.6"/><circle class="c7" cx="378.1" cy="50.7" r="2.6"/><circle class="c39" cx="187.5" cy="42.7" r="2.6"/>
<circle class="c32" cx="324.0" cy="44.8" r="2.6"/><circle class="c38" cx="231.7" cy="44.7" r="2.6"/><circle class="c1" cx="352.4" cy="47.7" r="2.6"/><circle class="c13" cx="404.1" cy="48.6" r="2.6"/><circle class="c14" cx="383.5" cy="47.8" r="2.6"/><circle class="c1" cx="388.8" cy="45.2" r="2.6"/>
<circle class="c19" cx="280.1" cy="44.9" r="2.6"/><circle class="c15" cx="359.0" cy="42.9" r="2.6"/><circle class="c39" cx="208.1" cy="43.9" r="2.6"/><circle class="c1" cx="419.1" cy="50.9" r="2.6"/><circle class="c2" cx="362.1" cy="39.7" r="2.6"/><circle class="c39" cx="183.7" cy="48.4" r="2.6"/>
<circle class="c2" cx="417.9" cy="44.0" r="2.6"/><circle class="c14" cx="393.8" cy="40.3" r="2.6"/><circle class="c2" cx="382.0" cy="37.0" r="2.6"/><circle class="c26" cx="373.2" cy="47.2" r="2.6"/><circle class="c39" cx="205.1" cy="45.1" r="2.6"/><circle class="c16" cx="319.8" cy="44.9" r="2.6"/>
<circle class="c1" cx="405.5" cy="41.9" r="2.6"/><circle class="c2" cx="367.7" cy="49.8" r="2.6"/><circle class="c37" cx="249.8" cy="44.6" r="2.6"/><circle class="c1" cx="430.6" cy="47.3" r="2.6"/><circle class="c23" cx="361.3" cy="55.7" r="2.6"/><circle class="c6" cx="415.2" cy="40.4" r="2.6"/>
<circle class="c2" cx="383.5" cy="54.1" r="2.6"/><circle class="c6" cx="384.7" cy="51.8" r="2.6"/><circle class="c10" cx="395.2" cy="37.5" r="2.6"/><circle class="c39" cx="224.5" cy="44.5" r="2.6"/><circle class="c39" cx="177.0" cy="45.1" r="2.6"/><circle class="c0" cx="414.9" cy="38.2" r="2.6"/>
<circle class="c1" cx="396.4" cy="46.4" r="2.6"/><circle class="c0" cx="361.4" cy="57.9" r="2.6"/><circle class="c39" cx="168.2" cy="45.9" r="2.6"/><circle class="c1" cx="362.7" cy="43.2" r="2.6"/><circle class="c2" cx="386.6" cy="49.8" r="2.6"/><circle class="c15" cx="412.0" cy="53.6" r="2.6"/>
<circle class="c2" cx="368.9" cy="44.6" r="2.6"/><circle class="c16" cx="342.0" cy="45.5" r="2.6"/><circle class="c39" cx="206.7" cy="47.4" r="2.6"/><circle class="c0" cx="383.7" cy="43.3" r="2.6"/><circle class="c3" cx="379.1" cy="41.9" r="2.6"/><circle class="c22" cx="368.3" cy="50.3" r="2.6"/>
<circle class="c15" cx="419.8" cy="46.6" r="2.6"/><circle class="c1" cx="381.5" cy="38.9" r="2.6"/><circle class="c0" cx="380.2" cy="51.8" r="2.6"/><circle class="c39" cx="191.0" cy="43.9" r="2.6"/><circle class="c1" cx="408.9" cy="45.5" r="2.6"/><circle class="c9" cx="396.7" cy="55.1" r="2.6"/>
<circle class="c21" cx="351.2" cy="45.5" r="2.6"/><circle class="c11" cx="408.6" cy="35.8" r="2.6"/><circle class="c14" cx="391.7" cy="40.7" r="2.6"/><circle class="c0" cx="410.3" cy="54.2" r="2.6"/><circle class="c21" cx="295.9" cy="45.8" r="2.6"/><circle class="c15" cx="353.1" cy="43.6" r="2.6"/>
<circle class="c16" cx="346.5" cy="44.8" r="2.6"/><circle class="c2" cx="355.8" cy="43.9" r="2.6"/><circle class="c39" cx="197.7" cy="42.9" r="2.6"/><circle class="c33" cx="226.6" cy="46.1" r="2.6"/><circle class="c10" cx="421.3" cy="47.6" r="2.6"/><circle class="c0" cx="430.4" cy="45.0" r="2.6"/>
<circle class="c0" cx="402.3" cy="55.9" r="2.6"/><circle class="c4" cx="412.7" cy="48.8" r="2.6"/><circle class="c14" cx="362.7" cy="91.0" r="2.6"/><circle class="c8" cx="354.3" cy="80.3" r="2.6"/><circle class="c14" cx="368.8" cy="93.1" r="2.6"/><circle class="c7" cx="363.4" cy="73.5" r="2.6"/>
<circle class="c12" cx="364.3" cy="76.6" r="2.6"/><circle class="c4" cx="358.8" cy="80.5" r="2.6"/><circle class="c16" cx="341.9" cy="84.3" r="2.6"/><circle class="c37" cx="500.1" cy="83.7" r="2.6"/><circle class="c38" cx="509.5" cy="86.0" r="2.6"/><circle class="c12" cx="356.7" cy="85.9" r="2.6"/>
<circle class="c10" cx="352.6" cy="94.2" r="2.6"/><circle class="c11" cx="351.8" cy="88.4" r="2.6"/><circle class="c6" cx="356.8" cy="83.0" r="2.6"/><circle class="c19" cx="381.7" cy="86.5" r="2.6"/><circle class="c23" cx="455.5" cy="84.4" r="2.6"/><circle class="c20" cx="368.6" cy="88.1" r="2.6"/>
<circle class="c39" cx="507.2" cy="82.8" r="2.6"/><circle class="c2" cx="359.3" cy="73.9" r="2.6"/><circle class="c18" cx="391.7" cy="83.1" r="2.6"/><circle class="c19" cx="377.0" cy="86.8" r="2.6"/><circle class="c28" cx="480.8" cy="84.9" r="2.6"/><circle class="c1" cx="354.5" cy="95.3" r="2.6"/>
<circle class="c32" cx="525.9" cy="83.7" r="2.6"/><circle class="c8" cx="363.6" cy="97.1" r="2.6"/><circle class="c21" cx="490.8" cy="85.0" r="2.6"/><circle class="c13" cx="365.0" cy="90.3" r="2.6"/><circle class="c18" cx="369.1" cy="85.4" r="2.6"/><circle class="c3" cx="376.7" cy="85.5" r="2.6"/>
<circle class="c38" cx="516.5" cy="83.0" r="2.6"/><circle class="c18" cx="368.9" cy="90.4" r="2.6"/><circle class="c21" cx="351.8" cy="90.4" r="2.6"/><circle class="c21" cx="491.9" cy="84.1" r="2.6"/><circle class="c13" cx="362.2" cy="71.5" r="2.6"/><circle class="c39" cx="522.2" cy="83.8" r="2.6"/>
<circle class="c2" cx="364.5" cy="83.3" r="2.6"/><circle class="c35" cx="507.8" cy="84.8" r="2.6"/><circle class="c15" cx="376.5" cy="80.9" r="2.6"/><circle class="c23" cx="412.1" cy="84.9" r="2.6"/><circle class="c24" cx="450.9" cy="84.9" r="2.6"/><circle class="c38" cx="542.4" cy="85.0" r="2.6"/>
<circle class="c38" cx="500.8" cy="85.2" r="2.6"/><circle class="c21" cx="357.0" cy="94.5" r="2.6"/><circle class="c22" cx="385.2" cy="85.9" r="2.6"/><circle class="c0" cx="357.0" cy="97.2" r="2.6"/><circle class="c21" cx="387.4" cy="82.9" r="2.6"/><circle class="c27" cx="531.3" cy="84.9" r="2.6"/>
<circle class="c20" cx="363.6" cy="89.1" r="2.6"/><circle class="c11" cx="361.7" cy="91.1" r="2.6"/><circle class="c12" cx="361.7" cy="95.8" r="2.6"/><circle class="c15" cx="355.3" cy="74.7" r="2.6"/><circle class="c39" cx="532.4" cy="84.0" r="2.6"/><circle class="c13" cx="364.4" cy="71.7" r="2.6"/>
<circle class="c14" cx="351.8" cy="83.6" r="2.6"/><circle class="c8" cx="363.7" cy="71.2" r="2.6"/><circle class="c23" cx="448.8" cy="84.8" r="2.6"/><circle class="c18" cx="408.8" cy="85.1" r="2.6"/><circle class="c13" cx="359.5" cy="77.4" r="2.6"/><circle class="c22" cx="386.2" cy="83.0" r="2.6"/>
<circle class="c19" cx="399.0" cy="83.6" r="2.6"/><circle class="c23" cx="410.7" cy="85.2" r="2.6"/><circle class="c24" cx="483.9" cy="84.4" r="2.6"/><circle class="c36" cx="552.1" cy="84.2" r="2.6"/><circle class="c25" cx="478.1" cy="84.6" r="2.6"/><circle class="c39" cx="511.7" cy="85.9" r="2.6"/>
<circle class="c19" cx="352.3" cy="79.0" r="2.6"/><circle class="c13" cx="370.8" cy="82.1" r="2.6"/><circle class="c12" cx="352.9" cy="91.9" r="2.6"/><circle class="c11" cx="353.7" cy="75.7" r="2.6"/><circle class="c33" cx="526.1" cy="85.2" r="2.6"/><circle class="c20" cx="370.0" cy="77.6" r="2.6"/>
<circle class="c10" cx="355.2" cy="89.8" r="2.6"/><circle class="c39" cx="519.7" cy="85.2" r="2.6"/><circle class="c39" cx="528.1" cy="83.8" r="2.6"/><circle class="c32" cx="532.7" cy="84.9" r="2.6"/><circle class="c11" cx="362.7" cy="95.4" r="2.6"/><circle class="c17" cx="342.8" cy="84.1" r="2.6"/>
<circle class="c13" cx="372.9" cy="84.8" r="2.6"/><circle class="c23" cx="417.7" cy="83.9" r="2.6"/><circle class="c13" cx="358.7" cy="86.8" r="2.6"/><circle class="c21" cx="395.2" cy="85.7" r="2.6"/><circle class="c39" cx="505.6" cy="85.9" r="2.6"/><circle class="c30" cx="530.3" cy="83.9" r="2.6"/>
<circle class="c21" cx="390.9" cy="83.2" r="2.6"/><circle class="c35" cx="577.2" cy="84.5" r="2.6"/><circle class="c19" cx="414.0" cy="84.9" r="2.6"/><circle class="c15" cx="350.3" cy="84.6" r="2.6"/><circle class="c15" cx="338.0" cy="83.2" r="2.6"/><circle class="c12" cx="360.2" cy="71.4" r="2.6"/>
<circle class="c15" cx="337.4" cy="85.1" r="2.6"/><circle class="c39" cx="512.5" cy="82.8" r="2.6"/><circle class="c3" cx="362.4" cy="84.4" r="2.6"/><circle class="c13" cx="366.4" cy="77.6" r="2.6"/><circle class="c36" cx="503.7" cy="85.9" r="2.6"/><circle class="c11" cx="365.6" cy="72.9" r="2.6"/>
<circle class="c36" cx="518.7" cy="85.3" r="2.6"/><circle class="c37" cx="572.8" cy="84.5" r="2.6"/><circle class="c9" cx="361.7" cy="84.8" r="2.6"/><circle class="c37" cx="508.4" cy="86.3" r="2.6"/><circle class="c23" cx="388.7" cy="83.1" r="2.6"/><circle class="c3" cx="361.9" cy="98.1" r="2.6"/>
<circle class="c19" cx="355.0" cy="73.2" r="2.6"/><circle class="c15" cx="370.4" cy="79.5" r="2.6"/><circle class="c23" cx="424.6" cy="85.2" r="2.6"/><circle class="c21" cx="414.6" cy="83.7" r="2.6"/><circle class="c20" cx="363.6" cy="80.1" r="2.6"/><circle class="c24" cx="496.1" cy="84.8" r="2.6"/>
<circle class="c6" cx="351.1" cy="76.5" r="2.6"/><circle class="c34" cx="547.6" cy="84.4" r="2.6"/><circle class="c18" cx="453.4" cy="84.1" r="2.6"/><circle class="c35" cx="531.8" cy="83.7" r="2.6"/><circle class="c17" cx="342.6" cy="81.6" r="2.6"/><circle class="c15" cx="359.1" cy="75.8" r="2.6"/>
<circle class="c8" cx="366.4" cy="79.8" r="2.6"/><circle class="c13" cx="357.7" cy="74.1" r="2.6"/><circle class="c19" cx="355.1" cy="79.0" r="2.6"/><circle class="c24" cx="453.7" cy="84.9" r="2.6"/><circle class="c15" cx="372.8" cy="87.2" r="2.6"/><circle class="c7" cx="361.4" cy="80.0" r="2.6"/>
<circle class="c12" cx="351.2" cy="85.6" r="2.6"/><circle class="c24" cx="438.7" cy="84.1" r="2.6"/><circle class="c39" cx="521.7" cy="85.0" r="2.6"/><circle class="c7" cx="360.6" cy="73.4" r="2.6"/><circle class="c23" cx="383.3" cy="85.8" r="2.6"/><circle class="c34" cx="513.7" cy="86.1" r="2.6"/>
<circle class="c32" cx="549.5" cy="84.1" r="2.6"/><circle class="c22" cx="403.1" cy="85.4" r="2.6"/><circle class="c20" cx="399.2" cy="85.4" r="2.6"/><circle class="c38" cx="510.5" cy="86.3" r="2.6"/><circle class="c18" cx="497.5" cy="84.9" r="2.6"/><circle class="c2" cx="361.2" cy="93.7" r="2.6"/>
<circle class="c39" cx="509.5" cy="82.8" r="2.6"/><circle class="c23" cx="484.8" cy="84.6" r="2.6"/><circle class="c18" cx="416.4" cy="84.9" r="2.6"/><circle class="c21" cx="400.7" cy="83.4" r="2.6"/><circle class="c23" cx="439.3" cy="84.8" r="2.6"/><circle class="c20" cx="354.4" cy="91.0" r="2.6"/>
<circle class="c12" cx="359.5" cy="79.6" r="2.6"/><circle class="c20" cx="428.9" cy="84.4" r="2.6"/><circle class="c15" cx="344.4" cy="87.4" r="2.6"/><circle class="c29" cx="538.3" cy="84.6" r="2.6"/><circle class="c33" cx="556.2" cy="84.2" r="2.6"/><circle class="c10" cx="346.6" cy="82.4" r="2.6"/>
<circle class="c2" cx="358.9" cy="82.6" r="2.6"/><circle class="c4" cx="355.8" cy="92.0" r="2.6"/><circle class="c12" cx="362.1" cy="82.1" r="2.6"/><circle class="c34" cx="533.6" cy="84.0" r="2.6"/><circle class="c6" cx="364.8" cy="92.6" r="2.6"/><circle class="c37" cx="517.9" cy="83.5" r="2.6"/>
<circle class="c19" cx="392.3" cy="85.8" r="2.6"/><circle class="c12" cx="365.5" cy="88.8" r="2.6"/><circle class="c0" cx="353.0" cy="90.0" r="2.6"/><circle class="c25" cx="457.4" cy="84.6" r="2.6"/><circle class="c23" cx="413.3" cy="83.7" r="2.6"/><circle class="c4" cx="372.9" cy="80.0" r="2.6"/>
<circle class="c1" cx="360.6" cy="75.8" r="2.6"/><circle class="c26" cx="470.7" cy="84.6" r="2.6"/><circle class="c15" cx="345.4" cy="80.7" r="2.6"/><circle class="c22" cx="359.0" cy="84.2" r="2.6"/><circle class="c23" cx="409.9" cy="83.8" r="2.6"/><circle class="c18" cx="358.6" cy="71.5" r="2.6"/>
<circle class="c13" cx="362.7" cy="82.4" r="2.6"/><circle class="c12" cx="366.8" cy="94.0" r="2.6"/><circle class="c13" cx="357.0" cy="90.3" r="2.6"/><circle class="c1" cx="360.8" cy="84.3" r="2.6"/><circle class="c15" cx="364.3" cy="85.4" r="2.6"/><circle class="c24" cx="410.8" cy="83.8" r="2.6"/>
<circle class="c39" cx="515.1" cy="83.1" r="2.6"/><circle class="c15" cx="357.5" cy="88.1" r="2.6"/><circle class="c14" cx="358.5" cy="91.1" r="2.6"/><circle class="c21" cx="461.7" cy="85.0" r="2.6"/><circle class="c37" cx="558.0" cy="84.3" r="2.6"/><circle class="c20" cx="471.3" cy="84.3" r="2.6"/>
<circle class="c2" cx="365.6" cy="81.8" r="2.6"/><circle class="c21" cx="358.3" cy="97.4" r="2.6"/><circle class="c24" cx="421.8" cy="85.0" r="2.6"/><circle class="c22" cx="487.2" cy="84.4" r="2.6"/><circle class="c10" cx="359.9" cy="95.3" r="2.6"/><circle class="c13" cx="354.5" cy="87.1" r="2.6"/>
<circle class="c39" cx="506.9" cy="84.4" r="2.6"/><circle class="c19" cx="346.6" cy="79.5" r="2.6"/><circle class="c19" cx="370.1" cy="84.4" r="2.6"/><circle class="c16" cx="367.2" cy="80.9" r="2.6"/><circle class="c19" cx="370.3" cy="89.0" r="2.6"/><circle class="c21" cx="420.1" cy="83.9" r="2.6"/>
<circle class="c15" cx="346.1" cy="83.1" r="2.6"/><circle class="c38" cx="516.8" cy="85.9" r="2.6"/><circle class="c13" cx="351.4" cy="80.8" r="2.6"/><circle class="c23" cx="379.9" cy="82.3" r="2.6"/><circle class="c8" cx="358.1" cy="93.2" r="2.6"/><circle class="c23" cx="429.2" cy="84.5" r="2.6"/>
<circle class="c25" cx="464.4" cy="84.9" r="2.6"/><circle class="c12" cx="347.9" cy="80.9" r="2.6"/><circle class="c37" cx="540.2" cy="84.0" r="2.6"/><circle class="c14" cx="351.2" cy="78.4" r="2.6"/><circle class="c19" cx="381.1" cy="84.4" r="2.6"/><circle class="c10" cx="361.4" cy="73.5" r="2.6"/>
<circle class="c24" cx="384.4" cy="83.0" r="2.6"/><circle class="c20" cx="395.8" cy="85.5" r="2.6"/><circle class="c21" cx="442.3" cy="84.0" r="2.6"/><circle class="c23" cx="426.4" cy="84.9" r="2.6"/><circle class="c14" cx="347.1" cy="89.1" r="2.6"/><circle class="c6" cx="357.9" cy="75.9" r="2.6"/>
<circle class="c5" cx="374.1" cy="84.5" r="2.6"/><circle class="c32" cx="503.3" cy="83.3" r="2.6"/><circle class="c16" cx="398.3" cy="85.4" r="2.6"/><circle class="c19" cx="406.6" cy="85.3" r="2.6"/><circle class="c17" cx="372.9" cy="81.9" r="2.6"/><circle class="c25" cx="441.4" cy="83.9" r="2.6"/>
<circle class="c13" cx="348.0" cy="90.1" r="2.6"/><circle class="c16" cx="367.6" cy="85.2" r="2.6"/><circle class="c6" cx="339.5" cy="82.9" r="2.6"/><circle class="c14" cx="369.5" cy="78.7" r="2.6"/><circle class="c20" cx="434.8" cy="84.3" r="2.6"/><circle class="c20" cx="493.2" cy="84.2" r="2.6"/>
<circle class="c13" cx="350.3" cy="91.5" r="2.6"/><circle class="c9" cx="359.3" cy="77.6" r="2.6"/><circle class="c18" cx="406.5" cy="83.7" r="2.6"/><circle class="c19" cx="349.7" cy="82.1" r="2.6"/><circle class="c24" cx="468.8" cy="84.0" r="2.6"/><circle class="c24" cx="423.5" cy="83.9" r="2.6"/>
<circle class="c22" cx="364.0" cy="95.0" r="2.6"/><circle class="c0" cx="354.9" cy="88.9" r="2.6"/><circle class="c19" cx="393.6" cy="83.1" r="2.6"/><circle class="c7" cx="356.2" cy="76.9" r="2.6"/><circle class="c13" cx="360.2" cy="90.9" r="2.6"/><circle class="c15" cx="364.8" cy="73.9" r="2.6"/>
<circle class="c0" cx="367.6" cy="87.8" r="2.6"/><circle class="c19" cx="379.7" cy="86.7" r="2.6"/><circle class="c4" cx="349.4" cy="88.9" r="2.6"/><circle class="c14" cx="367.6" cy="91.7" r="2.6"/><circle class="c11" cx="358.8" cy="89.1" r="2.6"/><circle class="c5" cx="367.8" cy="90.3" r="2.6"/>
<circle class="c9" cx="369.5" cy="83.3" r="2.6"/><circle class="c10" cx="356.8" cy="71.3" r="2.6"/><circle class="c12" cx="353.0" cy="74.6" r="2.6"/><circle class="c35" cx="520.9" cy="83.7" r="2.6"/><circle class="c38" cx="498.8" cy="84.8" r="2.6"/><circle class="c20" cx="421.6" cy="84.0" r="2.6"/>
<circle class="c17" cx="374.4" cy="86.3" r="2.6"/><circle class="c15" cx="377.9" cy="84.6" r="2.6"/><circle class="c37" cx="522.0" cy="85.2" r="2.6"/><circle class="c3" cx="366.5" cy="86.4" r="2.6"/><circle class="c9" cx="360.5" cy="86.9" r="2.6"/><circle class="c24" cx="478.5" cy="84.8" r="2.6"/>
<circle class="c12" cx="351.9" cy="92.4" r="2.6"/><circle class="c39" cx="523.9" cy="85.3" r="2.6"/><circle class="c22" cx="431.0" cy="84.1" r="2.6"/><circle class="c12" cx="346.8" cy="87.2" r="2.6"/><circle class="c2" cx="354.8" cy="93.3" r="2.6"/><circle class="c19" cx="375.7" cy="87.5" r="2.6"/>
<circle class="c22" cx="389.3" cy="86.0" r="2.6"/><circle class="c18" cx="381.9" cy="84.4" r="2.6"/><circle class="c39" cx="534.0" cy="85.0" r="2.6"/><circle class="c23" cx="419.5" cy="84.9" r="2.6"/><circle class="c19" cx="387.1" cy="86.0" r="2.6"/><circle class="c7" cx="360.7" cy="97.8" r="2.6"/>
<circle class="c28" cx="486.8" cy="84.7" r="2.6"/><circle class="c23" cx="432.8" cy="84.8" r="2.6"/><circle class="c12" cx="360.7" cy="82.1" r="2.6"/><circle class="c13" cx="354.4" cy="82.6" r="2.6"/><circle class="c18" cx="401.2" cy="85.3" r="2.6"/><circle class="c11" cx="355.1" cy="83.1" r="2.6"/>
<circle class="c16" cx="407.9" cy="85.3" r="2.6"/><circle class="c19" cx="475.3" cy="84.1" r="2.6"/><circle class="c38" cx="519.8" cy="83.7" r="2.6"/><circle class="c12" cx="345.4" cy="88.7" r="2.6"/><circle class="c25" cx="466.9" cy="84.5" r="2.6"/><circle class="c18" cx="355.4" cy="72.1" r="2.6"/>
<circle class="c14" cx="372.3" cy="83.6" r="2.6"/><circle class="c13" cx="355.5" cy="96.1" r="2.6"/><circle class="c11" cx="350.2" cy="87.0" r="2.6"/><circle class="c14" cx="367.1" cy="76.5" r="2.6"/><circle class="c14" cx="367.6" cy="74.5" r="2.6"/><circle class="c17" cx="350.4" cy="77.9" r="2.6"/>
<circle class="c14" cx="374.3" cy="80.3" r="2.6"/><circle class="c17" cx="335.6" cy="84.3" r="2.6"/><circle class="c13" cx="357.3" cy="78.6" r="2.6"/><circle class="c12" cx="354.2" cy="84.6" r="2.6"/><circle class="c21" cx="489.7" cy="84.4" r="2.6"/><circle class="c35" cx="529.4" cy="85.2" r="2.6"/>
<circle class="c4" cx="362.7" cy="86.7" r="2.6"/><circle class="c20" cx="446.0" cy="84.5" r="2.6"/><circle class="c12" cx="341.6" cy="86.5" r="2.6"/><circle class="c15" cx="370.7" cy="86.5" r="2.6"/><circle class="c12" cx="364.6" cy="78.3" r="2.6"/><circle class="c14" cx="356.8" cy="92.4" r="2.6"/>
<circle class="c21" cx="385.9" cy="86.1" r="2.6"/><circle class="c7" cx="356.2" cy="94.7" r="2.6"/><circle class="c4" cx="369.1" cy="75.9" r="2.6"/><circle class="c18" cx="372.0" cy="90.4" r="2.6"/><circle class="c19" cx="411.9" cy="83.9" r="2.6"/><circle class="c18" cx="382.8" cy="82.8" r="2.6"/>
<circle class="c34" cx="502.7" cy="83.5" r="2.6"/><circle class="c16" cx="352.3" cy="83.5" r="2.6"/><circle class="c15" cx="355.4" cy="80.8" r="2.6"/><circle class="c11" cx="365.5" cy="96.3" r="2.6"/><circle class="c21" cx="417.4" cy="84.0" r="2.6"/><circle class="c9" cx="360.4" cy="93.5" r="2.6"/>
<circle class="c14" cx="372.2" cy="85.2" r="2.6"/><circle class="c12" cx="362.1" cy="77.4" r="2.6"/><circle class="c2" cx="363.6" cy="78.0" r="2.6"/><circle class="c13" cx="356.6" cy="80.7" r="2.6"/><circle class="c15" cx="343.6" cy="85.7" r="2.6"/><circle class="c13" cx="362.2" cy="86.3" r="2.6"/>
<circle class="c12" cx="347.9" cy="87.8" r="2.6"/><circle class="c16" cx="365.6" cy="91.3" r="2.6"/><circle class="c15" cx="355.6" cy="88.0" r="2.6"/><circle class="c12" cx="341.9" cy="82.2" r="2.6"/><circle class="c1" cx="365.0" cy="80.9" r="2.6"/><circle class="c38" cx="506.0" cy="85.8" r="2.6"/>
<circle class="c24" cx="418.6" cy="85.2" r="2.6"/><circle class="c39" cx="507.6" cy="82.9" r="2.6"/><circle class="c22" cx="397.4" cy="83.1" r="2.6"/><circle class="c12" cx="355.8" cy="85.3" r="2.6"/><circle class="c17" cx="527.1" cy="83.7" r="2.6"/><circle class="c23" cx="425.9" cy="85.0" r="2.6"/>
<circle class="c19" cx="390.6" cy="85.6" r="2.6"/><circle class="c35" cx="543.8" cy="84.1" r="2.6"/><circle class="c14" cx="344.7" cy="83.7" r="2.6"/><circle class="c20" cx="434.9" cy="84.1" r="2.6"/><circle class="c1" cx="375.2" cy="82.3" r="2.6"/><circle class="c23" cx="437.7" cy="83.9" r="2.6"/>
<circle class="c12" cx="362.2" cy="75.9" r="2.6"/><circle class="c18" cx="422.5" cy="83.9" r="2.6"/><circle class="c7" cx="365.4" cy="75.0" r="2.6"/><circle class="c13" cx="366.9" cy="79.1" r="2.6"/><circle class="c16" cx="348.5" cy="78.7" r="2.6"/><circle class="c19" cx="473.1" cy="84.7" r="2.6"/>
<circle class="c23" cx="462.8" cy="84.2" r="2.6"/><circle class="c34" cx="523.3" cy="83.9" r="2.6"/><circle class="c3" cx="364.8" cy="87.8" r="2.6"/><circle class="c39" cx="514.3" cy="82.9" r="2.6"/><circle class="c39" cx="526.8" cy="85.0" r="2.6"/><circle class="c23" cx="392.9" cy="85.7" r="2.6"/>
<circle class="c20" cx="444.5" cy="84.7" r="2.6"/><circle class="c13" cx="369.1" cy="80.8" r="2.6"/><circle class="c7" cx="362.2" cy="88.9" r="2.6"/><circle class="c16" cx="396.5" cy="83.4" r="2.6"/><circle class="c15" cx="336.7" cy="83.5" r="2.6"/><circle class="c15" cx="363.4" cy="93.6" r="2.6"/>
<circle class="c24" cx="458.1" cy="84.7" r="2.6"/><circle class="c28" cx="505.1" cy="83.0" r="2.6"/><circle class="c3" cx="378.4" cy="82.6" r="2.6"/><circle class="c37" cx="546.0" cy="84.2" r="2.6"/><circle class="c14" cx="347.5" cy="84.8" r="2.6"/><circle class="c13" cx="364.7" cy="97.4" r="2.6"/>
<circle class="c19" cx="394.4" cy="83.0" r="2.6"/><circle class="c38" cx="511.0" cy="82.8" r="2.6"/><circle class="c11" cx="354.1" cy="77.7" r="2.6"/><circle class="c14" cx="343.3" cy="87.0" r="2.6"/><circle class="c23" cx="460.5" cy="84.2" r="2.6"/><circle class="c39" cx="555.2" cy="84.1" r="2.6"/>
<circle class="c14" cx="381.2" cy="83.0" r="2.6"/><circle class="c20" cx="405.3" cy="83.8" r="2.6"/><circle class="c20" cx="353.5" cy="85.9" r="2.6"/><circle class="c34" cx="501.9" cy="85.6" r="2.6"/><circle class="c22" cx="374.3" cy="88.4" r="2.6"/><circle class="c35" cx="528.4" cy="84.9" r="2.6"/>
<circle class="c17" cx="402.3" cy="85.5" r="2.6"/><circle class="c3" cx="352.7" cy="87.3" r="2.6"/><circle class="c19" cx="371.1" cy="79.2" r="2.6"/><circle class="c22" cx="414.9" cy="84.9" r="2.6"/><circle class="c21" cx="420.9" cy="85.1" r="2.6"/><circle class="c19" cx="404.5" cy="85.3" r="2.6"/>
<circle class="c17" cx="350.4" cy="79.6" r="2.6"/><circle class="c20" cx="475.9" cy="84.2" r="2.6"/><circle class="c19" cx="376.5" cy="83.3" r="2.6"/><circle class="c12" cx="363.6" cy="76.0" r="2.6"/><circle class="c29" cx="481.9" cy="84.4" r="2.6"/><circle class="c15" cx="372.3" cy="87.9" r="2.6"/>
<circle class="c36" cx="535.2" cy="84.4" r="2.6"/><circle class="c2" cx="365.3" cy="84.7" r="2.6"/><circle class="c25" cx="447.8" cy="84.1" r="2.6"/><circle class="c16" cx="372.1" cy="81.4" r="2.6"/><circle class="c22" cx="450.1" cy="84.4" r="2.6"/><circle class="c13" cx="353.0" cy="81.0" r="2.6"/>
<circle class="c19" cx="370.0" cy="91.3" r="2.6"/><circle class="c21" cx="404.0" cy="83.7" r="2.6"/><circle class="c39" cx="515.7" cy="86.0" r="2.6"/><circle class="c16" cx="402.7" cy="83.3" r="2.6"/><circle class="c19" cx="379.0" cy="84.6" r="2.6"/><circle class="c12" cx="348.2" cy="83.3" r="2.6"/>
<circle class="c13" cx="353.6" cy="77.2" r="2.6"/><circle class="c7" cx="344.5" cy="81.2" r="2.6"/><circle class="c13" cx="339.8" cy="86.1" r="2.6"/><circle class="c15" cx="367.3" cy="83.2" r="2.6"/><circle class="c11" cx="360.7" cy="88.5" r="2.6"/><circle class="c18" cx="358.3" cy="95.1" r="2.6"/>
<circle class="c20" cx="380.3" cy="86.6" r="2.6"/><circle class="c21" cx="466.5" cy="84.8" r="2.6"/><circle class="c9" cx="345.4" cy="85.4" r="2.6"/><circle class="c7" cx="365.5" cy="93.4" r="2.6"/><circle class="c14" cx="339.0" cy="85.5" r="2.6"/><circle class="c21" cx="407.7" cy="83.5" r="2.6"/>
<circle class="c24" cx="495.1" cy="84.0" r="2.6"/><circle class="c8" cx="348.7" cy="85.4" r="2.6"/><circle class="c18" cx="372.6" cy="89.0" r="2.6"/><circle class="c16" cx="377.7" cy="82.1" r="2.6"/><circle class="c1" cx="391.0" cy="113.5" r="2.6"/><circle class="c13" cx="375.4" cy="124.5" r="2.6"/>
<circle class="c24" cx="350.4" cy="122.5" r="2.6"/><circle class="c8" cx="403.7" cy="129.1" r="2.6"/><circle class="c2" cx="384.7" cy="116.8" r="2.6"/><circle class="c2" cx="404.8" cy="130.8" r="2.6"/><circle class="c37" cx="232.3" cy="123.0" r="2.6"/><circle class="c1" cx="404.6" cy="116.3" r="2.6"/>
<circle class="c9" cx="391.5" cy="133.3" r="2.6"/><circle class="c16" cx="329.6" cy="124.5" r="2.6"/><circle class="c15" cx="388.5" cy="133.4" r="2.6"/><circle class="c35" cx="303.2" cy="122.6" r="2.6"/><circle class="c25" cx="307.4" cy="124.6" r="2.6"/><circle class="c10" cx="416.8" cy="128.1" r="2.6"/>
<circle class="c27" cx="325.5" cy="124.5" r="2.6"/><circle class="c10" cx="415.8" cy="125.8" r="2.6"/><circle class="c28" cx="268.1" cy="122.4" r="2.6"/><circle class="c10" cx="379.5" cy="117.7" r="2.6"/><circle class="c36" cx="281.0" cy="124.7" r="2.6"/><circle class="c11" cx="395.0" cy="130.3" r="2.6"/>
<circle class="c2" cx="400.3" cy="115.1" r="2.6"/><circle class="c21" cx="315.9" cy="124.2" r="2.6"/><circle class="c16" cx="389.5" cy="119.6" r="2.6"/><circle class="c16" cx="385.5" cy="127.0" r="2.6"/><circle class="c15" cx="415.2" cy="125.8" r="2.6"/><circle class="c37" cx="240.3" cy="122.5" r="2.6"/>
<circle class="c1" cx="422.1" cy="122.9" r="2.6"/><circle class="c15" cx="411.0" cy="127.0" r="2.6"/><circle class="c3" cx="363.3" cy="123.2" r="2.6"/><circle class="c1" cx="409.4" cy="125.0" r="2.6"/><circle class="c38" cx="231.8" cy="124.0" r="2.6"/><circle class="c39" cx="235.8" cy="123.0" r="2.6"/>
<circle class="c30" cx="287.4" cy="124.5" r="2.6"/><circle class="c39" cx="240.1" cy="124.7" r="2.6"/><circle class="c34" cx="226.4" cy="123.1" r="2.6"/><circle class="c13" cx="404.5" cy="121.6" r="2.6"/><circle class="c0" cx="389.0" cy="120.0" r="2.6"/><circle class="c21" cx="299.1" cy="124.5" r="2.6"/>
<circle class="c14" cx="370.2" cy="121.4" r="2.6"/><circle class="c27" cx="295.4" cy="122.3" r="2.6"/><circle class="c9" cx="417.2" cy="125.8" r="2.6"/><circle class="c0" cx="431.8" cy="122.4" r="2.6"/><circle class="c10" cx="421.8" cy="126.3" r="2.6"/><circle class="c28" cx="366.5" cy="125.6" r="2.6"/>
<circle class="c13" cx="341.5" cy="124.4" r="2.6"/><circle class="c10" cx="391.3" cy="118.4" r="2.6"/><circle class="c20" cx="310.5" cy="122.7" r="2.6"/><circle class="c11" cx="419.9" cy="122.7" r="2.6"/><circle class="c2" cx="348.4" cy="124.6" r="2.6"/><circle class="c23" cx="337.9" cy="122.8" r="2.6"/>
<circle class="c11" cx="394.0" cy="112.7" r="2.6"/><circle class="c39" cx="257.3" cy="124.6" r="2.6"/><circle class="c39" cx="238.5" cy="122.5" r="2.6"/><circle class="c22" cx="317.9" cy="124.5" r="2.6"/><circle class="c37" cx="270.5" cy="124.7" r="2.6"/><circle class="c12" cx="383.8" cy="118.7" r="2.6"/>
<circle class="c1" cx="381.5" cy="123.5" r="2.6"/><circle class="c35" cx="285.1" cy="122.2" r="2.6"/><circle class="c3" cx="406.4" cy="121.1" r="2.6"/><circle class="c13" cx="359.1" cy="121.8" r="2.6"/><circle class="c37" cx="268.6" cy="124.6" r="2.6"/><circle class="c0" cx="411.5" cy="128.3" r="2.6"/>
<circle class="c25" cx="335.2" cy="122.7" r="2.6"/><circle class="c1" cx="360.2" cy="125.3" r="2.6"/><circle class="c0" cx="419.3" cy="125.2" r="2.6"/><circle class="c39" cx="280.3" cy="122.4" r="2.6"/><circle class="c3" cx="397.8" cy="121.5" r="2.6"/><circle class="c2" cx="390.2" cy="110.7" r="2.6"/>
<circle class="c38" cx="258.9" cy="124.7" r="2.6"/><circle class="c10" cx="397.7" cy="133.0" r="2.6"/><circle class="c13" cx="366.0" cy="123.8" r="2.6"/><circle class="c0" cx="366.4" cy="123.9" r="2.6"/><circle class="c22" cx="297.1" cy="122.2" r="2.6"/><circle class="c26" cx="374.5" cy="120.5" r="2.6"/>
<circle class="c0" cx="393.4" cy="125.5" r="2.6"/><circle class="c39" cx="263.2" cy="122.5" r="2.6"/><circle class="c23" cx="332.4" cy="124.2" r="2.6"/><circle class="c26" cx="334.1" cy="122.9" r="2.6"/><circle class="c1" cx="399.1" cy="127.7" r="2.6"/><circle class="c9" cx="378.9" cy="123.5" r="2.6"/>
<circle class="c1" cx="415.2" cy="119.2" r="2.6"/><circle class="c36" cx="258.1" cy="122.3" r="2.6"/><circle class="c14" cx="397.8" cy="126.1" r="2.6"/><circle class="c13" cx="417.5" cy="127.8" r="2.6"/><circle class="c10" cx="418.3" cy="119.7" r="2.6"/><circle class="c19" cx="328.5" cy="124.2" r="2.6"/>
<circle class="c15" cx="392.0" cy="111.7" r="2.6"/><circle class="c3" cx="415.2" cy="128.2" r="2.6"/><circle class="c16" cx="381.1" cy="119.1" r="2.6"/><circle class="c14" cx="390.8" cy="132.4" r="2.6"/><circle class="c37" cx="212.0" cy="123.6" r="2.6"/><circle class="c19" cx="325.5" cy="122.6" r="2.6"/>
<circle class="c7" cx="379.1" cy="125.5" r="2.6"/><circle class="c2" cx="371.4" cy="120.6" r="2.6"/><circle class="c15" cx="396.8" cy="123.2" r="2.6"/><circle class="c17" cx="413.5" cy="128.1" r="2.6"/><circle class="c20" cx="300.0" cy="122.6" r="2.6"/><circle class="c15" cx="360.9" cy="124.9" r="2.6"/>
<circle class="c26" cx="352.5" cy="124.8" r="2.6"/><circle class="c0" cx="410.8" cy="120.3" r="2.6"/><circle class="c14" cx="390.2" cy="116.7" r="2.6"/><circle class="c10" cx="393.7" cy="123.4" r="2.6"/><circle class="c16" cx="434.3" cy="122.8" r="2.6"/><circle class="c15" cx="430.4" cy="122.0" r="2.6"/>
<circle class="c25" cx="299.8" cy="124.6" r="2.6"/><circle class="c24" cx="350.5" cy="124.5" r="2.6"/><circle class="c17" cx="349.6" cy="124.7" r="2.6"/><circle class="c3" cx="386.4" cy="131.5" r="2.6"/><circle class="c13" cx="398.5" cy="130.1" r="2.6"/><circle class="c31" cx="235.1" cy="124.3" r="2.6"/>
<circle class="c3" cx="383.7" cy="128.3" r="2.6"/><circle class="c3" cx="420.8" cy="120.4" r="2.6"/><circle class="c39" cx="233.9" cy="122.9" r="2.6"/><circle class="c11" cx="388.2" cy="111.2" r="2.6"/><circle class="c13" cx="396.6" cy="113.6" r="2.6"/><circle class="c1" cx="416.7" cy="121.2" r="2.6"/>
<circle class="c0" cx="386.7" cy="128.2" r="2.6"/><circle class="c2" cx="372.4" cy="126.3" r="2.6"/><circle class="c1" cx="391.1" cy="122.8" r="2.6"/><circle class="c10" cx="413.2" cy="118.8" r="2.6"/><circle class="c9" cx="384.8" cy="130.4" r="2.6"/><circle class="c39" cx="254.6" cy="122.6" r="2.6"/>
<circle class="c15" cx="421.4" cy="124.5" r="2.6"/><circle class="c34" cx="260.6" cy="124.8" r="2.6"/><circle class="c24" cx="356.0" cy="122.4" r="2.6"/><circle class="c2" cx="363.8" cy="123.3" r="2.6"/><circle class="c39" cx="266.1" cy="124.6" r="2.6"/><circle class="c0" cx="379.4" cy="124.7" r="2.6"/>
<circle class="c11" cx="423.9" cy="126.6" r="2.6"/><circle class="c15" cx="408.4" cy="117.4" r="2.6"/><circle class="c2" cx="414.2" cy="121.3" r="2.6"/><circle class="c28" cx="369.3" cy="123.3" r="2.6"/><circle class="c11" cx="421.7" cy="120.2" r="2.6"/><circle class="c0" cx="394.6" cy="117.3" r="2.6"/>
<circle class="c2" cx="382.6" cy="131.2" r="2.6"/><circle class="c11" cx="373.1" cy="121.1" r="2.6"/><circle class="c38" cx="253.0" cy="124.5" r="2.6"/><circle class="c21" cx="291.6" cy="122.5" r="2.6"/><circle class="c11" cx="392.6" cy="127.9" r="2.6"/><circle class="c38" cx="288.3" cy="124.8" r="2.6"/>
<circle class="c1" cx="408.1" cy="121.6" r="2.6"/><circle class="c2" cx="400.7" cy="122.1" r="2.6"/><circle class="c2" cx="394.1" cy="121.7" r="2.6"/><circle class="c4" cx="408.4" cy="122.1" r="2.6"/><circle class="c39" cx="227.8" cy="123.9" r="2.6"/><circle class="c1" cx="385.4" cy="129.1" r="2.6"/>
<circle class="c14" cx="330.8" cy="124.3" r="2.6"/><circle class="c15" cx="408.1" cy="125.9" r="2.6"/><circle class="c0" cx="389.0" cy="117.7" r="2.6"/><circle class="c12" cx="391.9" cy="135.6" r="2.6"/><circle class="c15" cx="357.7" cy="125.1" r="2.6"/><circle class="c38" cx="275.7" cy="124.5" r="2.6"/>
<circle class="c39" cx="231.0" cy="123.7" r="2.6"/><circle class="c33" cx="282.9" cy="122.5" r="2.6"/><circle class="c15" cx="403.7" cy="120.7" r="2.6"/><circle class="c14" cx="386.6" cy="120.9" r="2.6"/><circle class="c16" cx="343.1" cy="124.3" r="2.6"/><circle class="c7" cx="384.5" cy="114.5" r="2.6"/>
<circle class="c34" cx="289.7" cy="124.9" r="2.6"/><circle class="c8" cx="387.2" cy="125.5" r="2.6"/><circle class="c0" cx="387.5" cy="117.1" r="2.6"/><circle class="c1" cx="388.4" cy="113.2" r="2.6"/><circle class="c19" cx="305.0" cy="122.4" r="2.6"/><circle class="c35" cx="253.0" cy="122.2" r="2.6"/>
<circle class="c10" cx="407.4" cy="119.5" r="2.6"/><circle class="c7" cx="396.6" cy="122.6" r="2.6"/><circle class="c19" cx="390.4" cy="112.5" r="2.6"/><circle class="c1" cx="362.7" cy="121.8" r="2.6"/><circle class="c28" cx="311.2" cy="124.5" r="2.6"/><circle class="c1" cx="375.0" cy="127.0" r="2.6"/>
<circle class="c0" cx="431.6" cy="124.8" r="2.6"/><circle class="c11" cx="397.3" cy="118.9" r="2.6"/><circle class="c35" cx="207.2" cy="123.6" r="2.6"/><circle class="c14" cx="368.6" cy="125.7" r="2.6"/><circle class="c10" cx="390.3" cy="129.8" r="2.6"/><circle class="c18" cx="386.8" cy="114.6" r="2.6"/>
<circle class="c1" cx="380.0" cy="120.3" r="2.6"/><circle class="c16" cx="390.0" cy="128.2" r="2.6"/><circle class="c32" cx="298.2" cy="122.3" r="2.6"/><circle class="c0" cx="413.4" cy="126.1" r="2.6"/><circle class="c1" cx="386.1" cy="118.2" r="2.6"/><circle class="c25" cx="336.9" cy="124.2" r="2.6"/>
<circle class="c1" cx="412.3" cy="122.8" r="2.6"/><circle class="c12" cx="428.0" cy="122.0" r="2.6"/><circle class="c20" cx="317.9" cy="122.6" r="2.6"/><circle class="c2" cx="366.1" cy="121.2" r="2.6"/><circle class="c15" cx="377.3" cy="122.8" r="2.6"/><circle class="c0" cx="382.4" cy="127.0" r="2.6"/>
<circle class="c16" cx="325.7" cy="122.9" r="2.6"/><circle class="c17" cx="404.7" cy="128.1" r="2.6"/><circle class="c35" cx="247.1" cy="122.6" r="2.6"/><circle class="c11" cx="404.3" cy="126.1" r="2.6"/><circle class="c11" cx="373.1" cy="123.9" r="2.6"/><circle class="c39" cx="254.5" cy="122.3" r="2.6"/>
<circle class="c38" cx="247.9" cy="124.8" r="2.6"/><circle class="c1" cx="399.7" cy="124.6" r="2.6"/><circle class="c10" cx="386.8" cy="119.0" r="2.6"/><circle class="c1" cx="400.4" cy="129.9" r="2.6"/><circle class="c11" cx="393.2" cy="135.0" r="2.6"/><circle class="c38" cx="233.1" cy="124.3" r="2.6"/>
<circle class="c37" cx="221.6" cy="123.4" r="2.6"/><circle class="c3" cx="387.7" cy="112.3" r="2.6"/><circle class="c0" cx="391.5" cy="126.8" r="2.6"/><circle class="c1" cx="388.0" cy="124.7" r="2.6"/><circle class="c3" cx="424.8" cy="123.6" r="2.6"/><circle class="c33" cx="275.5" cy="122.2" r="2.6"/>
<circle class="c35" cx="237.5" cy="124.2" r="2.6"/><circle class="c12" cx="382.1" cy="125.6" r="2.6"/><circle class="c18" cx="339.4" cy="122.8" r="2.6"/><circle class="c16" cx="412.7" cy="121.0" r="2.6"/><circle class="c14" cx="403.8" cy="125.0" r="2.6"/><circle class="c10" cx="419.4" cy="126.9" r="2.6"/>
<circle class="c9" cx="403.7" cy="118.5" r="2.6"/><circle class="c39" cx="249.3" cy="122.6" r="2.6"/><circle class="c0" cx="412.3" cy="127.0" r="2.6"/><circle class="c34" cx="239.1" cy="122.6" r="2.6"/><circle class="c16" cx="314.5" cy="122.8" r="2.6"/><circle class="c32" cx="264.6" cy="122.4" r="2.6"/>
<circle class="c2" cx="406.8" cy="123.6" r="2.6"/><circle class="c38" cx="248.8" cy="124.7" r="2.6"/><circle class="c25" cx="309.3" cy="122.9" r="2.6"/><circle class="c0" cx="342.5" cy="122.7" r="2.6"/><circle class="c15" cx="334.7" cy="124.2" r="2.6"/><circle class="c15" cx="375.1" cy="122.4" r="2.6"/>
<circle class="c2" cx="407.6" cy="127.5" r="2.6"/><circle class="c0" cx="409.9" cy="129.2" r="2.6"/><circle class="c3" cx="361.0" cy="121.9" r="2.6"/><circle class="c31" cx="271.8" cy="124.7" r="2.6"/><circle class="c14" cx="362.1" cy="125.5" r="2.6"/><circle class="c1" cx="404.0" cy="123.2" r="2.6"/>
<circle class="c14" cx="403.4" cy="116.1" r="2.6"/><circle class="c16" cx="310.7" cy="124.6" r="2.6"/><circle class="c12" cx="384.2" cy="123.8" r="2.6"/><circle class="c9" cx="393.0" cy="121.4" r="2.6"/><circle class="c33" cx="251.2" cy="124.5" r="2.6"/><circle class="c34" cx="289.5" cy="122.6" r="2.6"/>
<circle class="c38" cx="216.6" cy="123.4" r="2.6"/><circle class="c16" cx="400.5" cy="131.7" r="2.6"/><circle class="c1" cx="395.4" cy="133.6" r="2.6"/><circle class="c16" cx="393.2" cy="119.2" r="2.6"/><circle class="c37" cx="277.6" cy="122.4" r="2.6"/><circle class="c0" cx="417.8" cy="121.2" r="2.6"/>
<circle class="c37" cx="280.0" cy="124.9" r="2.6"/><circle class="c12" cx="358.0" cy="122.2" r="2.6"/><circle class="c17" cx="431.3" cy="124.9" r="2.6"/><circle class="c13" cx="402.2" cy="115.7" r="2.6"/><circle class="c0" cx="403.2" cy="126.7" r="2.6"/><circle class="c35" cx="284.6" cy="124.8" r="2.6"/>
<circle class="c15" cx="398.6" cy="115.1" r="2.6"/><circle class="c1" cx="391.1" cy="124.8" r="2.6"/><circle class="c17" cx="393.7" cy="130.4" r="2.6"/><circle class="c22" cx="326.0" cy="124.4" r="2.6"/><circle class="c11" cx="357.5" cy="122.0" r="2.6"/><circle class="c10" cx="393.4" cy="112.3" r="2.6"/>
<circle class="c37" cx="280.9" cy="122.3" r="2.6"/><circle class="c38" cx="242.1" cy="124.7" r="2.6"/><circle class="c10" cx="394.6" cy="125.6" r="2.6"/><circle class="c39" cx="242.7" cy="122.5" r="2.6"/><circle class="c14" cx="363.4" cy="125.4" r="2.6"/><circle class="c13" cx="369.3" cy="126.1" r="2.6"/>
<circle class="c25" cx="320.3" cy="124.3" r="2.6"/><circle class="c15" cx="339.5" cy="124.3" r="2.6"/><circle class="c14" cx="420.1" cy="127.1" r="2.6"/><circle class="c38" cx="278.0" cy="122.6" r="2.6"/><circle class="c0" cx="418.6" cy="119.7" r="2.6"/><circle class="c0" cx="391.2" cy="129.4" r="2.6"/>
<circle class="c32" cx="274.8" cy="124.9" r="2.6"/><circle class="c22" cx="307.5" cy="122.5" r="2.6"/><circle class="c9" cx="427.3" cy="125.1" r="2.6"/><circle class="c10" cx="384.1" cy="121.3" r="2.6"/><circle class="c3" cx="366.8" cy="121.4" r="2.6"/><circle class="c34" cx="247.0" cy="124.8" r="2.6"/>
<circle class="c14" cx="399.2" cy="125.6" r="2.6"/><circle class="c29" cx="234.7" cy="122.9" r="2.6"/><circle class="c13" cx="434.6" cy="124.3" r="2.6"/><circle class="c38" cx="213.4" cy="123.7" r="2.6"/><circle class="c17" cx="382.1" cy="117.3" r="2.6"/><circle class="c9" cx="388.9" cy="129.3" r="2.6"/>
<circle class="c15" cx="306.3" cy="122.4" r="2.6"/><circle class="c36" cx="283.9" cy="122.3" r="2.6"/><circle class="c0" cx="429.5" cy="125.3" r="2.6"/><circle class="c20" cx="321.8" cy="122.9" r="2.6"/><circle class="c22" cx="313.4" cy="124.5" r="2.6"/><circle class="c9" cx="409.5" cy="129.1" r="2.6"/>
<circle class="c0" cx="390.2" cy="114.7" r="2.6"/><circle class="c38" cx="274.1" cy="122.3" r="2.6"/><circle class="c36" cx="223.2" cy="123.8" r="2.6"/><circle class="c17" cx="401.3" cy="126.7" r="2.6"/><circle class="c13" cx="365.7" cy="125.5" r="2.6"/><circle class="c39" cx="255.8" cy="124.9" r="2.6"/>
<circle class="c5" cx="387.8" cy="132.5" r="2.6"/><circle class="c16" cx="394.1" cy="132.1" r="2.6"/><circle class="c0" cx="425.7" cy="123.6" r="2.6"/><circle class="c24" cx="330.8" cy="122.7" r="2.6"/><circle class="c18" cx="385.6" cy="113.4" r="2.6"/><circle class="c9" cx="386.2" cy="120.0" r="2.6"/>
<circle class="c0" cx="394.8" cy="123.2" r="2.6"/><circle class="c0" cx="385.4" cy="122.1" r="2.6"/><circle class="c12" cx="360.7" cy="123.9" r="2.6"/><circle class="c0" cx="396.4" cy="129.4" r="2.6"/><circle class="c14" cx="373.9" cy="126.6" r="2.6"/><circle class="c15" cx="402.5" cy="131.1" r="2.6"/>
<circle class="c14" cx="430.0" cy="122.0" r="2.6"/><circle class="c1" cx="399.4" cy="121.2" r="2.6"/><circle class="c3" cx="424.2" cy="123.4" r="2.6"/><circle class="c3" cx="396.3" cy="124.9" r="2.6"/><circle class="c14" cx="378.2" cy="128.0" r="2.6"/><circle class="c9" cx="410.8" cy="118.4" r="2.6"/>
<circle class="c39" cx="278.9" cy="124.7" r="2.6"/><circle class="c26" cx="323.5" cy="124.6" r="2.6"/><circle class="c27" cx="285.7" cy="124.7" r="2.6"/><circle class="c14" cx="392.5" cy="132.2" r="2.6"/><circle class="c21" cx="296.0" cy="124.7" r="2.6"/><circle class="c26" cx="301.5" cy="122.6" r="2.6"/>
<circle class="c18" cx="331.7" cy="122.7" r="2.6"/><circle class="c3" cx="363.7" cy="121.2" r="2.6"/><circle class="c36" cx="244.1" cy="124.6" r="2.6"/><circle class="c10" cx="410.5" cy="122.1" r="2.6"/><circle class="c1" cx="393.6" cy="116.6" r="2.6"/><circle class="c10" cx="425.6" cy="121.1" r="2.6"/>
<circle class="c14" cx="374.0" cy="124.5" r="2.6"/><circle class="c2" cx="394.2" cy="115.3" r="2.6"/><circle class="c17" cx="401.2" cy="120.2" r="2.6"/><circle class="c14" cx="413.6" cy="123.4" r="2.6"/><circle class="c0" cx="387.4" cy="123.2" r="2.6"/><circle class="c0" cx="398.5" cy="118.8" r="2.6"/>
<circle class="c9" cx="397.2" cy="128.0" r="2.6"/><circle class="c2" cx="396.6" cy="127.2" r="2.6"/><circle class="c21" cx="318.5" cy="122.6" r="2.6"/><circle class="c2" cx="376.9" cy="127.2" r="2.6"/><circle class="c23" cx="319.6" cy="124.5" r="2.6"/><circle class="c35" cx="262.8" cy="124.8" r="2.6"/>
<circle class="c0" cx="387.5" cy="134.9" r="2.6"/><circle class="c32" cx="217.7" cy="123.5" r="2.6"/><circle class="c39" cx="267.4" cy="124.5" r="2.6"/><circle class="c8" cx="379.5" cy="126.6" r="2.6"/><circle class="c1" cx="379.1" cy="118.9" r="2.6"/><circle class="c18" cx="329.9" cy="122.9" r="2.6"/>
<circle class="c14" cx="388.7" cy="115.5" r="2.6"/><circle class="c32" cx="251.2" cy="122.5" r="2.6"/><circle class="c14" cx="435.7" cy="122.9" r="2.6"/><circle class="c19" cx="302.6" cy="124.5" r="2.6"/><circle class="c28" cx="354.0" cy="124.9" r="2.6"/><circle class="c2" cx="390.7" cy="123.6" r="2.6"/>
<circle class="c9" cx="395.5" cy="120.4" r="2.6"/><circle class="c9" cx="409.2" cy="127.2" r="2.6"/><circle class="c15" cx="390.5" cy="134.7" r="2.6"/><circle class="c9" cx="384.5" cy="126.2" r="2.6"/><circle class="c2" cx="394.5" cy="119.3" r="2.6"/><circle class="c2" cx="397.2" cy="130.9" r="2.6"/>
<circle class="c2" cx="386.0" cy="133.8" r="2.6"/><circle class="c31" cx="244.6" cy="122.5" r="2.6"/><circle class="c17" cx="426.9" cy="125.3" r="2.6"/><circle class="c17" cx="323.8" cy="122.8" r="2.6"/><circle class="c1" cx="407.8" cy="129.7" r="2.6"/><circle class="c15" cx="350.0" cy="122.4" r="2.6"/>
<circle class="c24" cx="347.1" cy="124.5" r="2.6"/><circle class="c16" cx="383.1" cy="122.2" r="2.6"/><circle class="c13" cx="400.8" cy="127.5" r="2.6"/><circle class="c10" cx="389.2" cy="131.1" r="2.6"/><circle class="c20" cx="292.5" cy="124.6" r="2.6"/><circle class="c23" cx="314.2" cy="124.2" r="2.6"/>
<circle class="c0" cx="398.5" cy="132.6" r="2.6"/><circle class="c39" cx="243.1" cy="122.5" r="2.6"/><circle class="c33" cx="203.3" cy="123.6" r="2.6"/><circle class="c10" cx="374.6" cy="123.0" r="2.6"/><circle class="c9" cx="411.8" cy="124.8" r="2.6"/><circle class="c14" cx="391.1" cy="120.0" r="2.6"/>
<circle class="c32" cx="272.3" cy="124.5" r="2.6"/><circle class="c36" cx="260.8" cy="122.5" r="2.6"/><circle class="c0" cx="380.8" cy="129.9" r="2.6"/><circle class="c0" cx="400.8" cy="117.4" r="2.6"/><circle class="c31" cx="214.3" cy="123.4" r="2.6"/><circle class="c1" cx="395.0" cy="127.5" r="2.6"/>
<circle class="c8" cx="410.5" cy="124.4" r="2.6"/><circle class="c10" cx="406.6" cy="130.1" r="2.6"/><circle class="c0" cx="385.9" cy="125.0" r="2.6"/><circle class="c28" cx="294.3" cy="124.8" r="2.6"/><circle class="c15" cx="415.2" cy="123.9" r="2.6"/><circle class="c0" cx="390.8" cy="121.0" r="2.6"/>
<circle class="c12" cx="380.3" cy="122.8" r="2.6"/><circle class="c17" cx="391.8" cy="130.9" r="2.6"/><circle class="c18" cx="333.4" cy="124.4" r="2.6"/><circle class="c27" cx="291.6" cy="124.6" r="2.6"/><circle class="c17" cx="316.9" cy="122.7" r="2.6"/><circle class="c2" cx="416.6" cy="119.3" r="2.6"/>
<circle class="c32" cx="297.8" cy="124.7" r="2.6"/><circle class="c1" cx="377.1" cy="125.1" r="2.6"/><circle class="c37" cx="276.6" cy="124.8" r="2.6"/><circle class="c39" cx="229.6" cy="123.0" r="2.6"/><circle class="c2" cx="380.3" cy="128.7" r="2.6"/><circle class="c10" cx="402.1" cy="124.7" r="2.6"/>
<circle class="c9" cx="399.1" cy="123.6" r="2.6"/><circle class="c39" cx="245.0" cy="124.6" r="2.6"/><circle class="c39" cx="270.6" cy="122.3" r="2.6"/><circle class="c20" cx="328.4" cy="122.6" r="2.6"/><circle class="c37" cx="256.7" cy="122.5" r="2.6"/><circle class="c28" cx="269.4" cy="122.4" r="2.6"/>
<circle class="c16" cx="437.6" cy="123.6" r="2.6"/><circle class="c2" cx="389.3" cy="127.3" r="2.6"/><circle class="c3" cx="399.7" cy="120.3" r="2.6"/><circle class="c10" cx="421.1" cy="124.8" r="2.6"/><circle class="c13" cx="311.6" cy="122.6" r="2.6"/><circle class="c11" cx="377.8" cy="120.0" r="2.6"/>
<circle class="c32" cx="266.8" cy="122.5" r="2.6"/><circle class="c10" cx="425.6" cy="125.8" r="2.6"/><circle class="c17" cx="302.0" cy="124.6" r="2.6"/><circle class="c12" cx="433.7" cy="124.7" r="2.6"/><circle class="c17" cx="382.0" cy="127.9" r="2.6"/><circle class="c10" cx="401.9" cy="131.8" r="2.6"/>
<circle class="c38" cx="239.8" cy="124.6" r="2.6"/><circle class="c3" cx="406.6" cy="128.1" r="2.6"/><circle class="c0" cx="407.9" cy="117.6" r="2.6"/><circle class="c23" cx="313.1" cy="122.7" r="2.6"/><circle class="c17" cx="403.2" cy="122.6" r="2.6"/><circle class="c8" cx="388.8" cy="122.7" r="2.6"/>
<circle class="c11" cx="393.8" cy="133.9" r="2.6"/><circle class="c28" cx="294.2" cy="122.3" r="2.6"/><circle class="c39" cx="259.4" cy="122.3" r="2.6"/><circle class="c22" cx="342.0" cy="124.2" r="2.6"/><circle class="c15" cx="396.5" cy="115.7" r="2.6"/><circle class="c22" cx="336.2" cy="122.7" r="2.6"/>
<circle class="c39" cx="254.0" cy="124.8" r="2.6"/><circle class="c19" cx="308.8" cy="124.6" r="2.6"/><circle class="c31" cx="225.5" cy="123.4" r="2.6"/><circle class="c2" cx="344.4" cy="122.8" r="2.6"/><circle class="c11" cx="417.3" cy="123.5" r="2.6"/><circle class="c17" cx="346.4" cy="122.6" r="2.6"/>
<circle class="c16" cx="337.4" cy="124.3" r="2.6"/><circle class="c0" cx="426.2" cy="121.6" r="2.6"/><circle class="c1" cx="405.1" cy="119.1" r="2.6"/><circle class="c16" cx="320.2" cy="122.6" r="2.6"/><circle class="c2" cx="406.2" cy="117.2" r="2.6"/><circle class="c39" cx="272.8" cy="122.2" r="2.6"/>
<circle class="c27" cx="287.0" cy="122.5" r="2.6"/><circle class="c13" cx="356.7" cy="124.9" r="2.6"/><circle class="c15" cx="381.5" cy="121.1" r="2.6"/><circle class="c26" cx="322.1" cy="124.5" r="2.6"/><circle class="c16" cx="428.2" cy="123.2" r="2.6"/><circle class="c14" cx="375.4" cy="120.3" r="2.6"/>
<circle class="c39" cx="235.8" cy="124.4" r="2.6"/><circle class="c8" cx="392.1" cy="115.7" r="2.6"/><circle class="c33" cx="282.4" cy="124.6" r="2.6"/><circle class="c0" cx="389.7" cy="136.7" r="2.6"/><circle class="c11" cx="384.4" cy="132.6" r="2.6"/><circle class="c22" cx="353.7" cy="122.2" r="2.6"/>
<circle class="c10" cx="402.1" cy="122.5" r="2.6"/><circle class="c14" cx="397.0" cy="114.4" r="2.6"/><circle class="c15" cx="436.0" cy="123.4" r="2.6"/><circle class="c34" cx="248.7" cy="122.2" r="2.6"/><circle class="c15" cx="383.3" cy="124.9" r="2.6"/><circle class="c12" cx="387.2" cy="130.6" r="2.6"/>
<circle class="c12" cx="368.1" cy="121.6" r="2.6"/><circle class="c10" cx="402.0" cy="117.7" r="2.6"/><circle class="c10" cx="390.5" cy="125.3" r="2.6"/><circle class="c10" cx="392.6" cy="114.2" r="2.6"/><circle class="c2" cx="379.2" cy="121.3" r="2.6"/><circle class="c38" cx="264.1" cy="124.8" r="2.6"/>
<circle class="c1" cx="423.4" cy="121.0" r="2.6"/><circle class="c0" cx="395.6" cy="117.9" r="2.6"/><circle class="c34" cx="219.8" cy="123.8" r="2.6"/><circle class="c9" cx="409.4" cy="119.7" r="2.6"/><circle class="c25" cx="304.0" cy="124.6" r="2.6"/><circle class="c12" cx="370.9" cy="123.8" r="2.6"/>
<circle class="c37" cx="265.4" cy="122.4" r="2.6"/><circle class="c10" cx="419.4" cy="122.6" r="2.6"/><circle class="c2" cx="412.6" cy="118.2" r="2.6"/><circle class="c14" cx="382.2" cy="129.4" r="2.6"/><circle class="c17" cx="356.0" cy="124.8" r="2.6"/><circle class="c3" cx="382.4" cy="120.4" r="2.6"/>
<circle class="c18" cx="340.6" cy="122.8" r="2.6"/><circle class="c12" cx="405.4" cy="119.1" r="2.6"/><circle class="c17" cx="305.4" cy="124.3" r="2.6"/><circle class="c2" cx="408.1" cy="123.8" r="2.6"/><circle class="c35" cx="288.1" cy="122.3" r="2.6"/><circle class="c11" cx="412.5" cy="120.6" r="2.6"/>
<circle class="c15" cx="396.2" cy="131.6" r="2.6"/><circle class="c19" cx="348.1" cy="122.6" r="2.6"/><circle class="c9" cx="415.9" cy="123.5" r="2.6"/><circle class="c33" cx="293.6" cy="122.5" r="2.6"/><circle class="c3" cx="344.9" cy="124.4" r="2.6"/><circle class="c0" cx="382.3" cy="118.0" r="2.6"/>
<circle class="c0" cx="385.2" cy="115.4" r="2.6"/><circle class="c28" cx="368.2" cy="123.3" r="2.6"/><circle class="c4" cx="352.9" cy="122.5" r="2.6"/><circle class="c8" cx="397.5" cy="116.6" r="2.6"/><circle class="c36" cx="218.5" cy="123.7" r="2.6"/><circle class="c23" cx="345.7" cy="122.6" r="2.6"/>
<circle class="c30" cx="371.2" cy="126.1" r="2.6"/><circle class="c1" cx="402.3" cy="129.1" r="2.6"/><circle class="c4" cx="383.2" cy="115.6" r="2.6"/><circle class="c35" cx="260.2" cy="124.7" r="2.6"/><circle class="c17" cx="388.7" cy="135.9" r="2.6"/><circle class="c1" cx="405.8" cy="126.1" r="2.6"/>
<circle class="c2" cx="398.2" cy="116.7" r="2.6"/><circle class="c39" cx="369.1" cy="151.4" r="2.6"/><circle class="c26" cx="387.3" cy="163.6" r="2.6"/><circle class="c21" cx="430.3" cy="164.2" r="2.6"/><circle class="c36" cx="402.6" cy="164.6" r="2.6"/><circle class="c17" cx="366.4" cy="161.3" r="2.6"/>
<circle class="c39" cx="375.9" cy="151.3" r="2.6"/><circle class="c26" cx="387.2" cy="166.4" r="2.6"/><circle class="c28" cx="382.8" cy="164.9" r="2.6"/><circle class="c39" cx="390.0" cy="157.2" r="2.6"/><circle class="c36" cx="326.2" cy="161.1" r="2.6"/><circle class="c8" cx="289.6" cy="163.9" r="2.6"/>
<circle class="c36" cx="336.4" cy="166.1" r="2.6"/><circle class="c36" cx="384.4" cy="169.1" r="2.6"/><circle class="c37" cx="342.8" cy="158.2" r="2.6"/><circle class="c27" cx="349.5" cy="163.7" r="2.6"/><circle class="c39" cx="375.8" cy="171.6" r="2.6"/><circle class="c4" cx="234.7" cy="163.6" r="2.6"/>
<circle class="c16" cx="410.5" cy="168.5" r="2.6"/><circle class="c26" cx="388.7" cy="159.0" r="2.6"/><circle class="c31" cx="364.4" cy="169.8" r="2.6"/><circle class="c3" cx="287.7" cy="161.5" r="2.6"/><circle class="c3" cx="244.6" cy="161.5" r="2.6"/><circle class="c17" cx="409.4" cy="156.4" r="2.6"/>
<circle class="c16" cx="377.4" cy="173.1" r="2.6"/><circle class="c5" cx="340.4" cy="163.5" r="2.6"/><circle class="c39" cx="390.9" cy="164.1" r="2.6"/><circle class="c39" cx="375.6" cy="160.5" r="2.6"/><circle class="c25" cx="410.2" cy="161.4" r="2.6"/><circle class="c13" cx="250.4" cy="164.3" r="2.6"/>
<circle class="c36" cx="400.8" cy="160.4" r="2.6"/><circle class="c37" cx="352.1" cy="159.1" r="2.6"/><circle class="c0" cx="260.2" cy="164.5" r="2.6"/><circle class="c14" cx="379.5" cy="155.4" r="2.6"/><circle class="c37" cx="383.8" cy="160.5" r="2.6"/><circle class="c28" cx="357.9" cy="160.4" r="2.6"/>
<circle class="c16" cx="444.0" cy="163.7" r="2.6"/><circle class="c18" cx="412.5" cy="163.4" r="2.6"/><circle class="c3" cx="344.8" cy="160.8" r="2.6"/><circle class="c38" cx="371.7" cy="172.7" r="2.6"/><circle class="c36" cx="336.6" cy="161.7" r="2.6"/><circle class="c14" cx="326.4" cy="162.5" r="2.6"/>
<circle class="c1" cx="266.1" cy="162.6" r="2.6"/><circle class="c6" cx="273.8" cy="161.0" r="2.6"/><circle class="c37" cx="418.2" cy="158.1" r="2.6"/><circle class="c18" cx="409.7" cy="159.3" r="2.6"/><circle class="c35" cx="385.7" cy="168.5" r="2.6"/><circle class="c38" cx="365.4" cy="157.2" r="2.6"/>
<circle class="c39" cx="372.7" cy="168.5" r="2.6"/><circle class="c27" cx="388.6" cy="168.1" r="2.6"/><circle class="c17" cx="389.7" cy="163.8" r="2.6"/><circle class="c34" cx="403.6" cy="167.0" r="2.6"/><circle class="c16" cx="389.2" cy="170.6" r="2.6"/><circle class="c39" cx="316.4" cy="163.2" r="2.6"/>
<circle class="c37" cx="385.9" cy="166.6" r="2.6"/><circle class="c25" cx="395.2" cy="162.6" r="2.6"/><circle class="c1" cx="268.0" cy="162.4" r="2.6"/><circle class="c37" cx="359.1" cy="161.5" r="2.6"/><circle class="c19" cx="402.3" cy="160.4" r="2.6"/><circle class="c26" cx="402.4" cy="167.0" r="2.6"/>
<circle class="c37" cx="406.9" cy="168.7" r="2.6"/><circle class="c1" cx="171.5" cy="162.7" r="2.6"/><circle class="c3" cx="347.5" cy="167.7" r="2.6"/><circle class="c39" cx="361.4" cy="168.8" r="2.6"/><circle class="c28" cx="400.0" cy="169.7" r="2.6"/><circle class="c37" cx="357.0" cy="165.2" r="2.6"/>
<circle class="c7" cx="246.4" cy="161.3" r="2.6"/><circle class="c27" cx="381.4" cy="158.9" r="2.6"/><circle class="c13" cx="350.4" cy="166.1" r="2.6"/><circle class="c15" cx="363.0" cy="153.7" r="2.6"/><circle class="c26" cx="408.4" cy="166.7" r="2.6"/><circle class="c26" cx="385.7" cy="170.9" r="2.6"/>
<circle class="c0" cx="268.2" cy="160.5" r="2.6"/><circle class="c16" cx="416.5" cy="166.9" r="2.6"/><circle class="c9" cx="264.6" cy="162.8" r="2.6"/><circle class="c2" cx="259.8" cy="164.5" r="2.6"/><circle class="c16" cx="399.9" cy="155.7" r="2.6"/><circle class="c0" cx="174.2" cy="162.7" r="2.6"/>
<circle class="c23" cx="449.2" cy="163.4" r="2.6"/><circle class="c5" cx="235.7" cy="163.6" r="2.6"/><circle class="c36" cx="412.5" cy="156.9" r="2.6"/><circle class="c18" cx="422.3" cy="165.6" r="2.6"/><circle class="c39" cx="391.7" cy="157.2" r="2.6"/><circle class="c1" cx="165.9" cy="162.7" r="2.6"/>
<circle class="c1" cx="194.6" cy="162.7" r="2.6"/><circle class="c28" cx="414.6" cy="160.0" r="2.6"/><circle class="c39" cx="375.6" cy="162.7" r="2.6"/><circle class="c26" cx="384.4" cy="162.7" r="2.6"/><circle class="c39" cx="355.4" cy="157.9" r="2.6"/><circle class="c36" cx="344.0" cy="163.0" r="2.6"/>
<circle class="c14" cx="382.8" cy="172.4" r="2.6"/><circle class="c14" cx="346.8" cy="162.5" r="2.6"/><circle class="c0" cx="298.6" cy="163.3" r="2.6"/><circle class="c1" cx="294.1" cy="161.8" r="2.6"/><circle class="c25" cx="421.6" cy="164.0" r="2.6"/><circle class="c2" cx="248.8" cy="164.1" r="2.6"/>
<circle class="c16" cx="412.0" cy="168.2" r="2.6"/><circle class="c27" cx="339.7" cy="166.3" r="2.6"/><circle class="c23" cx="413.6" cy="164.0" r="2.6"/><circle class="c22" cx="430.3" cy="161.1" r="2.6"/><circle class="c37" cx="352.3" cy="169.2" r="2.6"/><circle class="c7" cx="401.8" cy="156.0" r="2.6"/>
<circle class="c39" cx="378.0" cy="163.7" r="2.6"/><circle class="c26" cx="342.9" cy="162.5" r="2.6"/><circle class="c27" cx="385.7" cy="163.7" r="2.6"/><circle class="c29" cx="379.8" cy="153.5" r="2.6"/><circle class="c17" cx="446.6" cy="161.8" r="2.6"/><circle class="c39" cx="372.8" cy="175.2" r="2.6"/>
<circle class="c32" cx="368.3" cy="171.5" r="2.6"/><circle class="c0" cx="269.0" cy="164.8" r="2.6"/><circle class="c38" cx="383.8" cy="162.3" r="2.6"/><circle class="c18" cx="438.9" cy="161.2" r="2.6"/><circle class="c25" cx="418.7" cy="162.6" r="2.6"/><circle class="c34" cx="387.7" cy="159.5" r="2.6"/>
<circle class="c38" cx="330.6" cy="165.3" r="2.6"/><circle class="c26" cx="320.7" cy="161.5" r="2.6"/><circle class="c2" cx="283.0" cy="164.3" r="2.6"/><circle class="c4" cx="378.8" cy="153.0" r="2.6"/><circle class="c14" cx="262.2" cy="160.7" r="2.6"/><circle class="c13" cx="368.6" cy="158.4" r="2.6"/>
<circle class="c1" cx="243.4" cy="161.2" r="2.6"/><circle class="c31" cx="361.5" cy="154.3" r="2.6"/><circle class="c35" cx="394.1" cy="167.3" r="2.6"/><circle class="c39" cx="382.2" cy="156.7" r="2.6"/><circle class="c38" cx="370.5" cy="165.2" r="2.6"/><circle class="c14" cx="387.5" cy="168.7" r="2.6"/>
<circle class="c39" cx="360.6" cy="170.8" r="2.6"/><circle class="c38" cx="345.8" cy="164.7" r="2.6"/><circle class="c19" cx="418.4" cy="160.9" r="2.6"/><circle class="c32" cx="336.9" cy="159.0" r="2.6"/><circle class="c30" cx="352.3" cy="167.1" r="2.6"/><circle class="c6" cx="265.3" cy="160.5" r="2.6"/>
<circle class="c27" cx="323.1" cy="161.2" r="2.6"/><circle class="c28" cx="350.1" cy="159.2" r="2.6"/><circle class="c14" cx="296.4" cy="163.4" r="2.6"/><circle class="c3" cx="219.3" cy="162.7" r="2.6"/><circle class="c22" cx="406.2" cy="160.8" r="2.6"/><circle class="c25" cx="410.8" cy="163.5" r="2.6"/>
<circle class="c0" cx="178.2" cy="162.7" r="2.6"/><circle class="c31" cx="354.2" cy="160.2" r="2.6"/><circle class="c21" cx="432.2" cy="161.4" r="2.6"/><circle class="c28" cx="344.5" cy="167.1" r="2.6"/><circle class="c25" cx="397.6" cy="169.3" r="2.6"/><circle class="c5" cx="358.2" cy="166.2" r="2.6"/>
<circle class="c14" cx="399.8" cy="160.2" r="2.6"/><circle class="c29" cx="365.6" cy="159.2" r="2.6"/><circle class="c39" cx="378.6" cy="169.9" r="2.6"/><circle class="c16" cx="382.4" cy="170.8" r="2.6"/><circle class="c38" cx="364.5" cy="167.1" r="2.6"/><circle class="c39" cx="368.1" cy="168.4" r="2.6"/>
<circle class="c14" cx="356.3" cy="164.7" r="2.6"/><circle class="c13" cx="292.2" cy="161.6" r="2.6"/><circle class="c30" cx="338.1" cy="161.9" r="2.6"/><circle class="c1" cx="370.7" cy="167.7" r="2.6"/><circle class="c9" cx="261.2" cy="162.8" r="2.6"/><circle class="c28" cx="383.8" cy="155.8" r="2.6"/>
<circle class="c30" cx="383.2" cy="152.8" r="2.6"/><circle class="c39" cx="374.7" cy="163.8" r="2.6"/><circle class="c37" cx="335.5" cy="159.3" r="2.6"/><circle class="c3" cx="299.9" cy="163.0" r="2.6"/><circle class="c27" cx="378.5" cy="151.2" r="2.6"/><circle class="c20" cx="430.9" cy="161.1" r="2.6"/>
<circle class="c1" cx="276.6" cy="161.1" r="2.6"/><circle class="c0" cx="275.0" cy="163.0" r="2.6"/><circle class="c39" cx="413.2" cy="165.9" r="2.6"/><circle class="c37" cx="396.5" cy="169.5" r="2.6"/><circle class="c14" cx="365.7" cy="165.8" r="2.6"/><circle class="c7" cx="407.6" cy="169.1" r="2.6"/>
<circle class="c1" cx="264.3" cy="164.9" r="2.6"/><circle class="c27" cx="410.5" cy="159.2" r="2.6"/><circle class="c27" cx="360.3" cy="166.0" r="2.6"/><circle class="c13" cx="339.6" cy="158.8" r="2.6"/><circle class="c21" cx="423.9" cy="160.1" r="2.6"/><circle class="c39" cx="334.0" cy="163.6" r="2.6"/>
<circle class="c28" cx="372.9" cy="165.8" r="2.6"/><circle class="c6" cx="273.9" cy="162.3" r="2.6"/><circle class="c18" cx="428.8" cy="160.9" r="2.6"/><circle class="c18" cx="411.8" cy="166.0" r="2.6"/><circle class="c34" cx="416.2" cy="160.4" r="2.6"/><circle class="c15" cx="343.0" cy="167.2" r="2.6"/>
<circle class="c38" cx="362.0" cy="166.3" r="2.6"/><circle class="c33" cx="379.1" cy="160.4" r="2.6"/><circle class="c17" cx="402.8" cy="162.4" r="2.6"/><circle class="c19" cx="422.8" cy="163.6" r="2.6"/><circle class="c21" cx="419.7" cy="166.4" r="2.6"/><circle class="c27" cx="398.2" cy="160.0" r="2.6"/>
<circle class="c34" cx="337.3" cy="163.7" r="2.6"/><circle class="c17" cx="364.1" cy="162.4" r="2.6"/><circle class="c32" cx="355.1" cy="160.3" r="2.6"/><circle class="c16" cx="372.6" cy="170.8" r="2.6"/><circle class="c15" cx="339.2" cy="161.6" r="2.6"/><circle class="c30" cx="369.3" cy="169.5" r="2.6"/>
<circle class="c39" cx="394.2" cy="170.0" r="2.6"/><circle class="c29" cx="354.9" cy="164.6" r="2.6"/><circle class="c2" cx="252.0" cy="161.2" r="2.6"/><circle class="c28" cx="401.0" cy="157.9" r="2.6"/><circle class="c5" cx="224.7" cy="162.7" r="2.6"/><circle class="c31" cx="348.9" cy="165.5" r="2.6"/>
<circle class="c19" cx="450.7" cy="162.7" r="2.6"/><circle class="c39" cx="371.8" cy="163.5" r="2.6"/><circle class="c39" cx="357.5" cy="162.8" r="2.6"/><circle class="c24" cx="419.2" cy="159.2" r="2.6"/><circle class="c14" cx="338.3" cy="159.4" r="2.6"/><circle class="c2" cx="293.2" cy="163.7" r="2.6"/>
<circle class="c13" cx="363.9" cy="171.9" r="2.6"/><circle class="c30" cx="347.4" cy="159.9" r="2.6"/><circle class="c12" cx="288.4" cy="163.9" r="2.6"/><circle class="c38" cx="369.5" cy="164.8" r="2.6"/><circle class="c1" cx="255.8" cy="161.2" r="2.6"/><circle class="c28" cx="334.3" cy="161.3" r="2.6"/>
<circle class="c16" cx="415.1" cy="165.3" r="2.6"/><circle class="c3" cx="376.9" cy="170.5" r="2.6"/><circle class="c39" cx="379.3" cy="174.1" r="2.6"/><circle class="c8" cx="270.3" cy="162.7" r="2.6"/><circle class="c37" cx="346.6" cy="165.4" r="2.6"/><circle class="c39" cx="375.1" cy="170.8" r="2.6"/>
<circle class="c1" cx="278.0" cy="161.0" r="2.6"/><circle class="c14" cx="378.7" cy="162.3" r="2.6"/><circle class="c5" cx="268.8" cy="160.7" r="2.6"/><circle class="c16" cx="385.8" cy="154.3" r="2.6"/><circle class="c3" cx="360.3" cy="163.6" r="2.6"/><circle class="c4" cx="252.6" cy="164.3" r="2.6"/>
<circle class="c20" cx="459.5" cy="162.7" r="2.6"/><circle class="c10" cx="291.6" cy="163.7" r="2.6"/><circle class="c27" cx="368.9" cy="162.4" r="2.6"/><circle class="c27" cx="335.8" cy="163.5" r="2.6"/><circle class="c37" cx="358.7" cy="155.2" r="2.6"/><circle class="c27" cx="395.6" cy="165.3" r="2.6"/>
<circle class="c39" cx="375.3" cy="154.5" r="2.6"/><circle class="c11" cx="255.6" cy="164.2" r="2.6"/><circle class="c18" cx="422.6" cy="162.0" r="2.6"/><circle class="c39" cx="371.5" cy="168.2" r="2.6"/><circle class="c30" cx="372.2" cy="153.0" r="2.6"/><circle class="c23" cx="406.3" cy="167.0" r="2.6"/>
<circle class="c22" cx="442.2" cy="163.7" r="2.6"/><circle class="c28" cx="344.5" cy="164.7" r="2.6"/><circle class="c13" cx="375.6" cy="165.2" r="2.6"/><circle class="c5" cx="375.2" cy="161.1" r="2.6"/><circle class="c36" cx="317.9" cy="162.0" r="2.6"/><circle class="c29" cx="364.8" cy="158.0" r="2.6"/>
<circle class="c36" cx="328.2" cy="162.5" r="2.6"/><circle class="c23" cx="410.3" cy="165.8" r="2.6"/><circle class="c17" cx="395.0" cy="160.6" r="2.6"/><circle class="c19" cx="424.9" cy="162.9" r="2.6"/><circle class="c25" cx="414.6" cy="167.3" r="2.6"/><circle class="c39" cx="376.6" cy="153.6" r="2.6"/>
<circle class="c38" cx="369.9" cy="155.9" r="2.6"/><circle class="c20" cx="418.5" cy="166.4" r="2.6"/><circle class="c39" cx="380.1" cy="160.1" r="2.6"/><circle class="c1" cx="253.3" cy="161.2" r="2.6"/><circle class="c26" cx="391.0" cy="154.7" r="2.6"/><circle class="c36" cx="325.3" cy="164.3" r="2.6"/>
<circle class="c29" cx="357.0" cy="167.2" r="2.6"/><circle class="c0" cx="294.9" cy="162.0" r="2.6"/><circle class="c29" cx="350.1" cy="168.6" r="2.6"/><circle class="c29" cx="329.7" cy="160.0" r="2.6"/><circle class="c38" cx="348.6" cy="167.6" r="2.6"/><circle class="c28" cx="390.0" cy="159.0" r="2.6"/>
<circle class="c0" cx="175.7" cy="162.7" r="2.6"/><circle class="c36" cx="351.9" cy="163.6" r="2.6"/><circle class="c27" cx="396.2" cy="160.6" r="2.6"/><circle class="c31" cx="373.2" cy="156.9" r="2.6"/><circle class="c4" cx="366.2" cy="153.0" r="2.6"/><circle class="c37" cx="367.0" cy="161.7" r="2.6"/>
<circle class="c39" cx="367.1" cy="166.3" r="2.6"/><circle class="c4" cx="374.3" cy="152.1" r="2.6"/><circle class="c38" cx="350.0" cy="161.6" r="2.6"/><circle class="c37" cx="373.3" cy="152.4" r="2.6"/><circle class="c25" cx="404.1" cy="156.3" r="2.6"/><circle class="c29" cx="360.8" cy="168.3" r="2.6"/>
<circle class="c1" cx="285.1" cy="164.2" r="2.6"/><circle class="c0" cx="240.4" cy="163.7" r="2.6"/><circle class="c33" cx="380.9" cy="155.8" r="2.6"/><circle class="c29" cx="328.4" cy="160.8" r="2.6"/><circle class="c30" cx="327.2" cy="164.8" r="2.6"/><circle class="c37" cx="408.3" cy="162.6" r="2.6"/>
<circle class="c0" cx="274.2" cy="164.2" r="2.6"/><circle class="c35" cx="374.1" cy="156.9" r="2.6"/><circle class="c20" cx="441.1" cy="163.9" r="2.6"/><circle class="c0" cx="183.9" cy="162.7" r="2.6"/><circle class="c6" cx="268.8" cy="162.6" r="2.6"/><circle class="c39" cx="372.0" cy="159.4" r="2.6"/>
<circle class="c38" cx="357.4" cy="157.9" r="2.6"/><circle class="c39" cx="382.7" cy="157.6" r="2.6"/><circle class="c35" cx="403.1" cy="165.2" r="2.6"/><circle class="c28" cx="366.6" cy="163.8" r="2.6"/><circle class="c1" cx="271.9" cy="164.8" r="2.6"/><circle class="c35" cx="346.2" cy="162.9" r="2.6"/>
<circle class="c38" cx="358.5" cy="163.9" r="2.6"/><circle class="c19" cx="443.5" cy="161.7" r="2.6"/><circle class="c1" cx="216.3" cy="162.7" r="2.6"/><circle class="c15" cx="298.4" cy="161.9" r="2.6"/><circle class="c14" cx="415.8" cy="162.3" r="2.6"/><circle class="c35" cx="363.0" cy="167.0" r="2.6"/>
<circle class="c31" cx="382.5" cy="154.5" r="2.6"/><circle class="c7" cx="426.5" cy="160.8" r="2.6"/><circle class="c1" cx="242.2" cy="161.5" r="2.6"/><circle class="c38" cx="349.0" cy="161.5" r="2.6"/><circle class="c28" cx="347.5" cy="157.4" r="2.6"/><circle class="c15" cx="373.6" cy="173.2" r="2.6"/>
<circle class="c2" cx="261.0" cy="160.5" r="2.6"/><circle class="c39" cx="379.4" cy="164.8" r="2.6"/><circle class="c20" cx="464.5" cy="162.7" r="2.6"/><circle class="c25" cx="403.6" cy="160.5" r="2.6"/><circle class="c14" cx="353.9" cy="162.6" r="2.6"/><circle class="c16" cx="395.5" cy="157.9" r="2.6"/>
<circle class="c16" cx="363.2" cy="164.6" r="2.6"/><circle class="c19" cx="420.0" cy="164.1" r="2.6"/><circle class="c19" cx="444.6" cy="161.7" r="2.6"/><circle class="c7" cx="238.8" cy="161.5" r="2.6"/><circle class="c24" cx="435.4" cy="161.6" r="2.6"/><circle class="c39" cx="377.2" cy="166.2" r="2.6"/>
<circle class="c1" cx="233.8" cy="161.6" r="2.6"/><circle class="c20" cx="421.1" cy="165.7" r="2.6"/><circle class="c30" cx="368.2" cy="153.7" r="2.6"/><circle class="c6" cx="275.9" cy="161.1" r="2.6"/><circle class="c3" cx="280.7" cy="161.2" r="2.6"/><circle class="c16" cx="374.5" cy="175.3" r="2.6"/>
<circle class="c14" cx="388.0" cy="170.8" r="2.6"/><circle class="c13" cx="349.6" cy="156.9" r="2.6"/><circle class="c16" cx="392.3" cy="167.9" r="2.6"/><circle class="c20" cx="432.1" cy="163.8" r="2.6"/><circle class="c36" cx="396.1" cy="157.9" r="2.6"/><circle class="c20" cx="428.2" cy="164.2" r="2.6"/>
<circle class="c0" cx="181.2" cy="162.7" r="2.6"/><circle class="c0" cx="168.7" cy="162.7" r="2.6"/><circle class="c15" cx="382.0" cy="163.7" r="2.6"/><circle class="c2" cx="385.1" cy="164.8" r="2.6"/><circle class="c39" cx="376.1" cy="155.8" r="2.6"/><circle class="c2" cx="187.7" cy="162.7" r="2.6"/>
<circle class="c25" cx="405.2" cy="155.9" r="2.6"/><circle class="c6" cx="240.3" cy="161.3" r="2.6"/><circle class="c4" cx="397.2" cy="158.2" r="2.6"/><circle class="c0" cx="266.2" cy="164.7" r="2.6"/><circle class="c28" cx="381.0" cy="164.5" r="2.6"/><circle class="c3" cx="243.6" cy="163.8" r="2.6"/>
<circle class="c0" cx="375.6" cy="149.7" r="2.6"/><circle class="c38" cx="388.9" cy="161.2" r="2.6"/><circle class="c1" cx="237.1" cy="163.7" r="2.6"/><circle class="c1" cx="260.0" cy="162.6" r="2.6"/><circle class="c33" cx="400.1" cy="162.5" r="2.6"/><circle class="c26" cx="427.2" cy="164.9" r="2.6"/>
<circle class="c6" cx="245.3" cy="164.0" r="2.6"/><circle class="c17" cx="379.5" cy="158.2" r="2.6"/><circle class="c8" cx="280.1" cy="164.4" r="2.6"/><circle class="c29" cx="369.4" cy="156.4" r="2.6"/><circle class="c29" cx="391.5" cy="159.1" r="2.6"/><circle class="c28" cx="399.9" cy="165.3" r="2.6"/>
<circle class="c30" cx="370.5" cy="150.7" r="2.6"/><circle class="c15" cx="401.4" cy="167.3" r="2.6"/><circle class="c18" cx="452.1" cy="162.3" r="2.6"/><circle class="c38" cx="391.8" cy="163.6" r="2.6"/><circle class="c14" cx="344.0" cy="158.2" r="2.6"/><circle class="c14" cx="360.0" cy="161.4" r="2.6"/>
<circle class="c28" cx="342.0" cy="158.8" r="2.6"/><circle class="c29" cx="352.6" cy="158.8" r="2.6"/><circle class="c8" cx="279.7" cy="160.9" r="2.6"/><circle class="c35" cx="387.9" cy="157.0" r="2.6"/><circle class="c34" cx="406.3" cy="165.1" r="2.6"/><circle class="c4" cx="254.9" cy="161.1" r="2.6"/>
<circle class="c15" cx="362.9" cy="171.8" r="2.6"/><circle class="c35" cx="361.7" cy="161.5" r="2.6"/><circle class="c14" cx="381.3" cy="168.0" r="2.6"/><circle class="c5" cx="241.3" cy="163.9" r="2.6"/><circle class="c0" cx="238.9" cy="163.9" r="2.6"/><circle class="c35" cx="404.7" cy="167.3" r="2.6"/>
<circle class="c14" cx="335.1" cy="162.0" r="2.6"/><circle class="c29" cx="364.3" cy="160.1" r="2.6"/><circle class="c37" cx="336.1" cy="166.0" r="2.6"/><circle class="c38" cx="361.5" cy="164.0" r="2.6"/><circle class="c28" cx="355.9" cy="162.3" r="2.6"/><circle class="c17" cx="398.1" cy="164.9" r="2.6"/>
<circle class="c38" cx="367.5" cy="164.1" r="2.6"/><circle class="c34" cx="395.9" cy="167.4" r="2.6"/><circle class="c3" cx="232.6" cy="163.5" r="2.6"/><circle class="c27" cx="390.6" cy="161.9" r="2.6"/><circle class="c27" cx="410.7" cy="156.8" r="2.6"/><circle class="c0" cx="253.0" cy="164.1" r="2.6"/>
<circle class="c16" cx="375.5" cy="158.3" r="2.6"/><circle class="c25" cx="403.0" cy="169.0" r="2.6"/><circle class="c1" cx="249.1" cy="161.2" r="2.6"/><circle class="c35" cx="389.0" cy="157.0" r="2.6"/><circle class="c38" cx="379.8" cy="151.4" r="2.6"/><circle class="c35" cx="382.5" cy="152.5" r="2.6"/>
<circle class="c8" cx="302.3" cy="162.8" r="2.6"/><circle class="c2" cx="272.6" cy="162.9" r="2.6"/><circle class="c16" cx="371.9" cy="165.8" r="2.6"/><circle class="c13" cx="355.0" cy="156.2" r="2.6"/><circle class="c0" cx="272.5" cy="160.9" r="2.6"/><circle class="c39" cx="342.4" cy="164.9" r="2.6"/>
<circle class="c7" cx="250.6" cy="161.0" r="2.6"/><circle class="c30" cx="378.1" cy="159.4" r="2.6"/><circle class="c39" cx="368.3" cy="160.5" r="2.6"/><circle class="c2" cx="296.1" cy="163.3" r="2.6"/><circle class="c0" cx="283.8" cy="161.3" r="2.6"/><circle class="c39" cx="381.1" cy="166.9" r="2.6"/>
<circle class="c39" cx="398.6" cy="157.7" r="2.6"/><circle class="c29" cx="377.4" cy="154.5" r="2.6"/><circle class="c10" cx="211.7" cy="162.7" r="2.6"/><circle class="c20" cx="439.7" cy="163.7" r="2.6"/><circle class="c38" cx="364.3" cy="153.1" r="2.6"/><circle class="c23" cx="426.5" cy="162.5" r="2.6"/>
<circle class="c39" cx="380.0" cy="171.2" r="2.6"/><circle class="c15" cx="351.7" cy="168.6" r="2.6"/><circle class="c28" cx="324.7" cy="160.6" r="2.6"/><circle class="c39" cx="378.7" cy="167.4" r="2.6"/><circle class="c36" cx="330.7" cy="160.4" r="2.6"/><circle class="c5" cx="257.7" cy="161.1" r="2.6"/>
<circle class="c20" cx="447.7" cy="163.3" r="2.6"/><circle class="c18" cx="354.0" cy="158.6" r="2.6"/><circle class="c27" cx="367.2" cy="156.8" r="2.6"/><circle class="c35" cx="417.9" cy="164.7" r="2.6"/><circle class="c36" cx="402.1" cy="169.3" r="2.6"/><circle class="c39" cx="371.3" cy="157.4" r="2.6"/>
<circle class="c36" cx="357.3" cy="170.2" r="2.6"/><circle class="c1" cx="286.5" cy="164.0" r="2.6"/><circle class="c15" cx="368.5" cy="174.1" r="2.6"/><circle class="c13" cx="363.7" cy="169.7" r="2.6"/><circle class="c20" cx="474.0" cy="162.7" r="2.6"/><circle class="c39" cx="367.6" cy="159.0" r="2.6"/>
<circle class="c28" cx="317.9" cy="163.6" r="2.6"/><circle class="c39" cx="398.0" cy="155.8" r="2.6"/><circle class="c4" cx="345.4" cy="158.2" r="2.6"/><circle class="c20" cx="422.6" cy="159.5" r="2.6"/><circle class="c39" cx="357.0" cy="155.9" r="2.6"/><circle class="c28" cx="342.4" cy="160.2" r="2.6"/>
<circle class="c36" cx="408.2" cy="164.7" r="2.6"/><circle class="c15" cx="377.8" cy="150.0" r="2.6"/><circle class="c19" cx="406.7" cy="162.7" r="2.6"/><circle class="c39" cx="370.0" cy="157.8" r="2.6"/><circle class="c38" cx="371.1" cy="170.7" r="2.6"/><circle class="c28" cx="384.2" cy="160.3" r="2.6"/>
<circle class="c14" cx="364.5" cy="164.8" r="2.6"/><circle class="c3" cx="262.8" cy="162.5" r="2.6"/><circle class="c17" cx="388.9" cy="155.1" r="2.6"/><circle class="c3" cx="270.3" cy="164.2" r="2.6"/><circle class="c27" cx="421.0" cy="161.2" r="2.6"/><circle class="c39" cx="360.0" cy="157.1" r="2.6"/>
<circle class="c14" cx="370.1" cy="160.6" r="2.6"/><circle class="c24" cx="412.6" cy="161.4" r="2.6"/><circle class="c3" cx="214.7" cy="162.7" r="2.6"/><circle class="c39" cx="352.7" cy="156.5" r="2.6"/><circle class="c21" cx="423.8" cy="165.3" r="2.6"/><circle class="c30" cx="361.0" cy="156.8" r="2.6"/>
<circle class="c14" cx="334.5" cy="160.1" r="2.6"/><circle class="c33" cx="407.2" cy="158.3" r="2.6"/><circle class="c2" cx="231.6" cy="161.9" r="2.6"/><circle class="c5" cx="266.0" cy="160.9" r="2.6"/><circle class="c39" cx="374.8" cy="168.7" r="2.6"/><circle class="c37" cx="324.6" cy="162.3" r="2.6"/>
<circle class="c38" cx="391.5" cy="165.7" r="2.6"/><circle class="c30" cx="345.7" cy="160.2" r="2.6"/><circle class="c38" cx="366.2" cy="168.5" r="2.6"/><circle class="c18" cx="448.1" cy="162.0" r="2.6"/><circle class="c0" cx="230.0" cy="161.8" r="2.6"/><circle class="c14" cx="388.5" cy="165.6" r="2.6"/>
<circle class="c37" cx="358.1" cy="157.1" r="2.6"/><circle class="c39" cx="373.5" cy="154.9" r="2.6"/><circle class="c2" cx="341.2" cy="160.7" r="2.6"/><circle class="c2" cx="237.7" cy="161.5" r="2.6"/><circle class="c28" cx="324.3" cy="161.1" r="2.6"/><circle class="c30" cx="359.0" cy="159.1" r="2.6"/>
<circle class="c39" cx="366.3" cy="172.2" r="2.6"/><circle class="c34" cx="385.9" cy="161.8" r="2.6"/><circle class="c24" cx="405.1" cy="169.4" r="2.6"/><circle class="c38" cx="348.6" cy="163.3" r="2.6"/><circle class="c21" cx="431.2" cy="163.8" r="2.6"/><circle class="c5" cx="280.5" cy="164.4" r="2.6"/>
<circle class="c1" cx="197.8" cy="162.7" r="2.6"/><circle class="c30" cx="324.0" cy="164.2" r="2.6"/><circle class="c4" cx="373.8" cy="149.8" r="2.6"/><circle class="c19" cx="414.4" cy="157.5" r="2.6"/><circle class="c37" cx="382.2" cy="161.6" r="2.6"/><circle class="c29" cx="319.6" cy="161.6" r="2.6"/>
<circle class="c34" cx="419.6" cy="161.3" r="2.6"/><circle class="c0" cx="263.1" cy="160.9" r="2.6"/><circle class="c17" cx="405.3" cy="158.4" r="2.6"/><circle class="c35" cx="396.8" cy="155.7" r="2.6"/><circle class="c2" cx="277.6" cy="164.4" r="2.6"/><circle class="c35" cx="394.2" cy="169.7" r="2.6"/>
<circle class="c37" cx="385.2" cy="154.2" r="2.6"/><circle class="c18" cx="445.7" cy="161.8" r="2.6"/><circle class="c2" cx="236.8" cy="161.7" r="2.6"/><circle class="c5" cx="403.2" cy="158.2" r="2.6"/><circle class="c26" cx="313.5" cy="162.7" r="2.6"/><circle class="c18" cx="437.3" cy="161.4" r="2.6"/>
<circle class="c39" cx="371.4" cy="150.9" r="2.6"/><circle class="c36" cx="414.9" cy="157.9" r="2.6"/><circle class="c36" cx="366.3" cy="170.7" r="2.6"/><circle class="c39" cx="363.1" cy="160.3" r="2.6"/><circle class="c1" cx="247.9" cy="163.9" r="2.6"/><circle class="c17" cx="414.3" cy="159.6" r="2.6"/>
<circle class="c29" cx="323.0" cy="163.9" r="2.6"/><circle class="c28" cx="352.7" cy="162.8" r="2.6"/><circle class="c25" cx="433.9" cy="161.3" r="2.6"/><circle class="c30" cx="355.4" cy="169.2" r="2.6"/><circle class="c13" cx="392.9" cy="155.2" r="2.6"/><circle class="c18" cx="424.1" cy="162.4" r="2.6"/>
<circle class="c31" cx="362.7" cy="156.0" r="2.6"/><circle class="c16" cx="398.7" cy="162.5" r="2.6"/><circle class="c30" cx="361.2" cy="170.6" r="2.6"/><circle class="c36" cx="413.4" cy="161.7" r="2.6"/><circle class="c15" cx="366.6" cy="154.6" r="2.6"/><circle class="c20" cx="469.5" cy="162.7" r="2.6"/>
<circle class="c27" cx="376.2" cy="173.9" r="2.6"/><circle class="c30" cx="392.8" cy="164.7" r="2.6"/><circle class="c16" cx="369.7" cy="171.9" r="2.6"/><circle class="c16" cx="393.1" cy="158.1" r="2.6"/><circle class="c28" cx="377.6" cy="175.2" r="2.6"/><circle class="c27" cx="391.6" cy="155.0" r="2.6"/>
<circle class="c16" cx="365.1" cy="155.3" r="2.6"/><circle class="c30" cx="388.1" cy="161.4" r="2.6"/><circle class="c24" cx="404.5" cy="163.0" r="2.6"/><circle class="c6" cx="259.4" cy="160.6" r="2.6"/><circle class="c30" cx="372.7" cy="159.1" r="2.6"/><circle class="c2" cx="267.4" cy="164.9" r="2.6"/>
<circle class="c10" cx="291.0" cy="161.4" r="2.6"/><circle class="c38" cx="352.1" cy="166.0" r="2.6"/><circle class="c22" cx="434.6" cy="163.8" r="2.6"/><circle class="c13" cx="385.8" cy="156.7" r="2.6"/><circle class="c24" cx="404.2" cy="162.6" r="2.6"/><circle class="c21" cx="441.9" cy="161.7" r="2.6"/>
<circle class="c32" cx="371.8" cy="161.4" r="2.6"/><circle class="c37" cx="355.5" cy="156.0" r="2.6"/><circle class="c0" cx="230.3" cy="163.3" r="2.6"/><circle class="c14" cx="379.9" cy="158.3" r="2.6"/><circle class="c16" cx="362.8" cy="162.8" r="2.6"/><circle class="c38" cx="396.9" cy="162.8" r="2.6"/>
<circle class="c26" cx="367.5" cy="154.6" r="2.6"/><circle class="c28" cx="392.2" cy="161.9" r="2.6"/><circle class="c36" cx="348.4" cy="157.3" r="2.6"/><circle class="c26" cx="384.7" cy="156.1" r="2.6"/><circle class="c1" cx="245.8" cy="164.0" r="2.6"/><circle class="c12" cx="294.5" cy="163.4" r="2.6"/>
<circle class="c29" cx="390.3" cy="166.0" r="2.6"/><circle class="c30" cx="367.6" cy="173.1" r="2.6"/><circle class="c39" cx="360.1" cy="159.0" r="2.6"/><circle class="c38" cx="401.0" cy="165.0" r="2.6"/><circle class="c0" cx="234.8" cy="161.8" r="2.6"/><circle class="c23" cx="417.3" cy="163.0" r="2.6"/>
<circle class="c38" cx="377.8" cy="152.2" r="2.6"/><circle class="c18" cx="409.5" cy="168.5" r="2.6"/><circle class="c35" cx="409.8" cy="163.8" r="2.6"/><circle class="c15" cx="351.7" cy="156.7" r="2.6"/><circle class="c16" cx="377.4" cy="168.1" r="2.6"/><circle class="c35" cx="417.0" cy="165.3" r="2.6"/>
<circle class="c38" cx="367.2" cy="170.8" r="2.6"/><circle class="c28" cx="332.7" cy="159.6" r="2.6"/><circle class="c24" cx="393.6" cy="160.0" r="2.6"/><circle class="c36" cx="376.4" cy="176.1" r="2.6"/><circle class="c23" cx="421.0" cy="159.8" r="2.6"/><circle class="c38" cx="384.6" cy="158.6" r="2.6"/>
<circle class="c22" cx="445.8" cy="163.7" r="2.6"/><circle class="c1" cx="157.4" cy="162.7" r="2.6"/><circle class="c29" cx="379.2" cy="172.4" r="2.6"/><circle class="c27" cx="356.4" cy="167.6" r="2.6"/><circle class="c2" cx="276.2" cy="164.4" r="2.6"/><circle class="c39" cx="371.9" cy="154.8" r="2.6"/>
<circle class="c28" cx="332.0" cy="165.4" r="2.6"/><circle class="c36" cx="338.7" cy="166.2" r="2.6"/><circle class="c26" cx="405.5" cy="164.8" r="2.6"/><circle class="c37" cx="381.4" cy="173.0" r="2.6"/><circle class="c25" cx="416.7" cy="157.9" r="2.6"/><circle class="c30" cx="374.7" cy="166.4" r="2.6"/>
<circle class="c30" cx="369.9" cy="174.1" r="2.6"/><circle class="c38" cx="401.2" cy="169.5" r="2.6"/><circle class="c36" cx="329.0" cy="162.5" r="2.6"/><circle class="c39" cx="361.5" cy="158.7" r="2.6"/><circle class="c37" cx="387.5" cy="154.5" r="2.6"/><circle class="c14" cx="341.7" cy="166.7" r="2.6"/>
<circle class="c39" cx="354.9" cy="169.0" r="2.6"/><circle class="c27" cx="395.4" cy="167.5" r="2.6"/><circle class="c19" cx="440.2" cy="161.5" r="2.6"/><circle class="c4" cx="358.9" cy="167.9" r="2.6"/><circle class="c37" cx="375.6" cy="169.4" r="2.6"/><circle class="c29" cx="377.8" cy="157.3" r="2.6"/>
<circle class="c29" cx="374.4" cy="159.5" r="2.6"/><circle class="c16" cx="373.3" cy="161.7" r="2.6"/><circle class="c16" cx="352.2" cy="164.8" r="2.6"/><circle class="c37" cx="374.0" cy="173.1" r="2.6"/><circle class="c0" cx="284.1" cy="164.1" r="2.6"/><circle class="c0" cx="275.8" cy="164.8" r="2.6"/>
<circle class="c8" cx="265.1" cy="164.8" r="2.6"/><circle class="c34" cx="407.4" cy="156.4" r="2.6"/><circle class="c0" cx="282.4" cy="161.1" r="2.6"/><circle class="c16" cx="351.1" cy="161.7" r="2.6"/><circle class="c4" cx="285.1" cy="161.3" r="2.6"/><circle class="c23" cx="425.6" cy="160.8" r="2.6"/>
<circle class="c12" cx="296.7" cy="161.9" r="2.6"/><circle class="c21" cx="452.8" cy="162.6" r="2.6"/><circle class="c3" cx="370.3" cy="153.6" r="2.6"/><circle class="c37" cx="371.2" cy="174.4" r="2.6"/><circle class="c5" cx="412.8" cy="159.6" r="2.6"/><circle class="c27" cx="395.8" cy="164.8" r="2.6"/>
<circle class="c15" cx="373.3" cy="163.6" r="2.6"/><circle class="c32" cx="352.6" cy="160.4" r="2.6"/><circle class="c26" cx="391.4" cy="169.8" r="2.6"/><circle class="c29" cx="381.0" cy="169.1" r="2.6"/><circle class="c24" cx="426.1" cy="164.9" r="2.6"/><circle class="c17" cx="359.6" cy="155.2" r="2.6"/>
<circle class="c22" cx="435.3" cy="163.8" r="2.6"/><circle class="c37" cx="363.6" cy="158.5" r="2.6"/><circle class="c15" cx="413.8" cy="167.8" r="2.6"/><circle class="c35" cx="398.2" cy="167.6" r="2.6"/><circle class="c4" cx="354.8" cy="166.7" r="2.6"/><circle class="c26" cx="406.8" cy="156.4" r="2.6"/>
<circle class="c39" cx="376.5" cy="166.9" r="2.6"/><circle class="c8" cx="256.9" cy="164.2" r="2.6"/><circle class="c29" cx="398.1" cy="162.8" r="2.6"/><circle class="c1" cx="221.9" cy="162.7" r="2.6"/><circle class="c14" cx="329.1" cy="165.1" r="2.6"/><circle class="c38" cx="391.2" cy="170.4" r="2.6"/>
<circle class="c39" cx="383.0" cy="169.8" r="2.6"/><circle class="c31" cx="334.6" cy="165.8" r="2.6"/><circle class="c27" cx="319.0" cy="163.7" r="2.6"/><circle class="c24" cx="437.2" cy="163.9" r="2.6"/><circle class="c37" cx="395.5" cy="155.8" r="2.6"/><circle class="c19" cx="437.9" cy="163.9" r="2.6"/>
<circle class="c26" cx="331.8" cy="162.6" r="2.6"/><circle class="c30" cx="367.1" cy="152.5" r="2.6"/><circle class="c35" cx="409.9" cy="166.3" r="2.6"/><circle class="c1" cx="289.3" cy="161.3" r="2.6"/><circle class="c38" cx="358.1" cy="170.0" r="2.6"/><circle class="c29" cx="382.7" cy="167.7" r="2.6"/>
<circle class="c39" cx="394.1" cy="162.9" r="2.6"/><circle class="c32" cx="321.2" cy="164.0" r="2.6"/><circle class="c12" cx="270.9" cy="161.0" r="2.6"/><circle class="c36" cx="407.5" cy="160.4" r="2.6"/><circle class="c0" cx="248.3" cy="161.3" r="2.6"/><circle class="c37" cx="340.9" cy="164.9" r="2.6"/>
<circle class="c3" cx="231.9" cy="163.3" r="2.6"/><circle class="c34" cx="401.4" cy="155.6" r="2.6"/><circle class="c28" cx="390.2" cy="168.4" r="2.6"/><circle class="c39" cx="379.9" cy="173.8" r="2.6"/><circle class="c13" cx="338.6" cy="163.7" r="2.6"/><circle class="c39" cx="384.7" cy="167.3" r="2.6"/>
<circle class="c6" cx="257.2" cy="164.4" r="2.6"/><circle class="c28" cx="332.9" cy="162.4" r="2.6"/><circle class="c26" cx="385.9" cy="158.7" r="2.6"/><circle class="c15" cx="398.9" cy="166.9" r="2.6"/><circle class="c18" cx="405.3" cy="160.8" r="2.6"/><circle class="c14" cx="345.5" cy="167.5" r="2.6"/>
<circle class="c26" cx="385.2" cy="171.1" r="2.6"/><circle class="c2" cx="264.0" cy="162.9" r="2.6"/><circle class="c38" cx="381.8" cy="165.9" r="2.6"/><circle class="c38" cx="369.1" cy="167.1" r="2.6"/><circle class="c1" cx="227.6" cy="162.1" r="2.6"/><circle class="c31" cx="374.3" cy="150.0" r="2.6"/>
<circle class="c10" cx="301.3" cy="163.0" r="2.6"/><circle class="c15" cx="348.2" cy="159.8" r="2.6"/><circle class="c39" cx="378.0" cy="161.7" r="2.6"/><circle class="c2" cx="286.9" cy="161.4" r="2.6"/><circle class="c35" cx="328.7" cy="164.9" r="2.6"/><circle class="c29" cx="341.4" cy="162.7" r="2.6"/>
<circle class="c6" cx="401.7" cy="158.0" r="2.6"/><circle class="c15" cx="380.5" cy="162.5" r="2.6"/><circle class="c24" cx="408.6" cy="158.2" r="2.6"/><circle class="c16" cx="370.9" cy="169.5" r="2.6"/><circle class="c38" cx="370.9" cy="163.0" r="2.6"/><circle class="c17" cx="409.0" cy="161.6" r="2.6"/>
<circle class="c0" cx="262.3" cy="164.6" r="2.6"/><circle class="c4" cx="394.3" cy="196.3" r="2.6"/><circle class="c39" cx="350.6" cy="191.2" r="2.6"/><circle class="c14" cx="361.3" cy="208.9" r="2.6"/><circle class="c33" cx="359.2" cy="199.1" r="2.6"/><circle class="c3" cx="469.4" cy="203.3" r="2.6"/>
<circle class="c18" cx="344.5" cy="209.7" r="2.6"/><circle class="c16" cx="353.8" cy="188.7" r="2.6"/><circle class="c1" cx="433.0" cy="200.0" r="2.6"/><circle class="c0" cx="391.0" cy="197.6" r="2.6"/><circle class="c12" cx="382.1" cy="203.6" r="2.6"/><circle class="c17" cx="352.7" cy="200.8" r="2.6"/>
<circle class="c8" cx="389.3" cy="208.6" r="2.6"/><circle class="c30" cx="329.5" cy="201.5" r="2.6"/><circle class="c5" cx="391.0" cy="208.6" r="2.6"/><circle class="c12" cx="390.0" cy="199.4" r="2.6"/><circle class="c9" cx="358.8" cy="206.7" r="2.6"/><circle class="c1" cx="364.9" cy="201.9" r="2.6"/>
<circle class="c29" cx="356.6" cy="209.2" r="2.6"/><circle class="c4" cx="465.7" cy="204.1" r="2.6"/><circle class="c12" cx="379.7" cy="203.8" r="2.6"/><circle class="c3" cx="467.1" cy="203.5" r="2.6"/><circle class="c19" cx="332.2" cy="200.8" r="2.6"/><circle class="c3" cx="474.4" cy="201.2" r="2.6"/>
<circle class="c14" cx="354.4" cy="195.9" r="2.6"/><circle class="c17" cx="356.4" cy="189.7" r="2.6"/><circle class="c0" cx="449.0" cy="200.5" r="2.6"/><circle class="c17" cx="346.4" cy="197.1" r="2.6"/><circle class="c26" cx="357.5" cy="210.1" r="2.6"/><circle class="c13" cx="371.0" cy="193.5" r="2.6"/>
<circle class="c14" cx="379.6" cy="192.5" r="2.6"/><circle class="c3" cx="451.1" cy="197.8" r="2.6"/><circle class="c9" cx="380.2" cy="199.2" r="2.6"/><circle class="c10" cx="391.8" cy="209.9" r="2.6"/><circle class="c2" cx="446.0" cy="200.4" r="2.6"/><circle class="c14" cx="373.6" cy="190.7" r="2.6"/>
<circle class="c26" cx="351.6" cy="214.8" r="2.6"/><circle class="c26" cx="351.6" cy="193.3" r="2.6"/><circle class="c1" cx="406.3" cy="198.4" r="2.6"/><circle class="c0" cx="460.2" cy="202.8" r="2.6"/><circle class="c2" cx="472.0" cy="202.6" r="2.6"/><circle class="c15" cx="386.4" cy="196.1" r="2.6"/>
<circle class="c0" cx="397.3" cy="197.1" r="2.6"/><circle class="c11" cx="401.2" cy="204.3" r="2.6"/><circle class="c14" cx="368.2" cy="209.0" r="2.6"/><circle class="c3" cx="456.1" cy="205.5" r="2.6"/><circle class="c10" cx="384.2" cy="210.0" r="2.6"/><circle class="c0" cx="414.0" cy="204.1" r="2.6"/>
<circle class="c15" cx="366.1" cy="196.1" r="2.6"/><circle class="c2" cx="453.9" cy="201.5" r="2.6"/><circle class="c26" cx="353.5" cy="193.3" r="2.6"/><circle class="c1" cx="453.2" cy="200.0" r="2.6"/><circle class="c0" cx="388.2" cy="204.7" r="2.6"/><circle class="c1" cx="452.6" cy="205.6" r="2.6"/>
<circle class="c39" cx="356.2" cy="211.0" r="2.6"/><circle class="c3" cx="384.6" cy="200.9" r="2.6"/><circle class="c10" cx="401.6" cy="201.7" r="2.6"/><circle class="c9" cx="370.7" cy="201.0" r="2.6"/><circle class="c15" cx="345.8" cy="213.0" r="2.6"/><circle class="c1" cx="453.0" cy="197.8" r="2.6"/>
<circle class="c0" cx="454.9" cy="203.4" r="2.6"/><circle class="c15" cx="372.3" cy="200.7" r="2.6"/><circle class="c39" cx="355.0" cy="200.3" r="2.6"/><circle class="c11" cx="364.3" cy="199.2" r="2.6"/><circle class="c14" cx="366.2" cy="203.1" r="2.6"/><circle class="c3" cx="448.6" cy="205.4" r="2.6"/>
<circle class="c17" cx="356.7" cy="192.5" r="2.6"/><circle class="c27" cx="351.8" cy="209.7" r="2.6"/><circle class="c0" cx="451.6" cy="203.8" r="2.6"/><circle class="c39" cx="354.2" cy="210.2" r="2.6"/><circle class="c1" cx="450.6" cy="204.1" r="2.6"/><circle class="c3" cx="436.7" cy="201.7" r="2.6"/>
<circle class="c16" cx="342.5" cy="198.4" r="2.6"/><circle class="c10" cx="387.2" cy="204.9" r="2.6"/><circle class="c27" cx="348.0" cy="209.2" r="2.6"/><circle class="c7" cx="377.6" cy="192.6" r="2.6"/><circle class="c27" cx="331.8" cy="200.7" r="2.6"/><circle class="c17" cx="353.3" cy="210.1" r="2.6"/>
<circle class="c2" cx="393.8" cy="209.2" r="2.6"/><circle class="c0" cx="446.6" cy="199.0" r="2.6"/><circle class="c11" cx="382.7" cy="212.4" r="2.6"/><circle class="c36" cx="341.0" cy="208.8" r="2.6"/><circle class="c3" cx="441.9" cy="204.1" r="2.6"/><circle class="c7" cx="387.9" cy="191.7" r="2.6"/>
<circle class="c6" cx="410.8" cy="204.2" r="2.6"/><circle class="c0" cx="472.0" cy="200.9" r="2.6"/><circle class="c16" cx="351.5" cy="203.0" r="2.6"/><circle class="c8" cx="367.5" cy="210.8" r="2.6"/><circle class="c28" cx="353.2" cy="204.9" r="2.6"/><circle class="c28" cx="355.5" cy="206.4" r="2.6"/>
<circle class="c9" cx="404.4" cy="202.7" r="2.6"/><circle class="c3" cx="357.6" cy="198.4" r="2.6"/><circle class="c1" cx="449.8" cy="202.0" r="2.6"/><circle class="c38" cx="350.1" cy="200.5" r="2.6"/><circle class="c8" cx="404.9" cy="202.7" r="2.6"/><circle class="c15" cx="373.3" cy="212.5" r="2.6"/>
<circle class="c13" cx="402.1" cy="203.9" r="2.6"/><circle class="c3" cx="470.2" cy="200.4" r="2.6"/><circle class="c8" cx="377.0" cy="212.8" r="2.6"/><circle class="c35" cx="361.4" cy="194.5" r="2.6"/><circle class="c14" cx="372.3" cy="193.9" r="2.6"/><circle class="c0" cx="462.0" cy="202.8" r="2.6"/>
<circle class="c17" cx="378.3" cy="208.4" r="2.6"/><circle class="c12" cx="381.5" cy="195.4" r="2.6"/><circle class="c19" cx="354.1" cy="193.5" r="2.6"/><circle class="c2" cx="458.2" cy="197.8" r="2.6"/><circle class="c1" cx="409.4" cy="204.4" r="2.6"/><circle class="c1" cx="440.2" cy="203.9" r="2.6"/>
<circle class="c16" cx="336.5" cy="199.9" r="2.6"/><circle class="c11" cx="384.6" cy="190.9" r="2.6"/><circle class="c11" cx="394.5" cy="207.1" r="2.6"/><circle class="c14" cx="339.9" cy="207.0" r="2.6"/><circle class="c16" cx="358.0" cy="202.5" r="2.6"/><circle class="c0" cx="411.1" cy="201.8" r="2.6"/>
<circle class="c14" cx="365.5" cy="197.2" r="2.6"/><circle class="c0" cx="452.5" cy="206.1" r="2.6"/><circle class="c27" cx="346.9" cy="198.4" r="2.6"/><circle class="c12" cx="373.1" cy="204.3" r="2.6"/><circle class="c0" cx="405.3" cy="200.9" r="2.6"/><circle class="c16" cx="344.8" cy="202.9" r="2.6"/>
<circle class="c13" cx="370.3" cy="191.6" r="2.6"/><circle class="c5" cx="399.9" cy="198.4" r="2.6"/><circle class="c13" cx="378.0" cy="201.6" r="2.6"/><circle class="c7" cx="391.4" cy="199.4" r="2.6"/><circle class="c3" cx="457.3" cy="200.8" r="2.6"/><circle class="c0" cx="391.0" cy="204.1" r="2.6"/>
<circle class="c1" cx="388.9" cy="210.8" r="2.6"/><circle class="c15" cx="375.5" cy="208.7" r="2.6"/><circle class="c38" cx="340.9" cy="204.4" r="2.6"/><circle class="c14" cx="354.4" cy="211.9" r="2.6"/><circle class="c0" cx="427.5" cy="200.1" r="2.6"/><circle class="c38" cx="347.4" cy="211.2" r="2.6"/>
<circle class="c39" cx="348.1" cy="194.1" r="2.6"/><circle class="c33" cx="361.1" cy="193.7" r="2.6"/><circle class="c14" cx="374.6" cy="212.5" r="2.6"/><circle class="c18" cx="353.9" cy="207.4" r="2.6"/><circle class="c15" cx="374.8" cy="197.6" r="2.6"/><circle class="c14" cx="362.6" cy="198.2" r="2.6"/>
<circle class="c1" cx="459.0" cy="198.7" r="2.6"/><circle class="c38" cx="345.4" cy="190.9" r="2.6"/><circle class="c2" cx="371.4" cy="191.1" r="2.6"/><circle class="c0" cx="473.7" cy="202.5" r="2.6"/><circle class="c8" cx="385.9" cy="212.1" r="2.6"/><circle class="c1" cx="454.6" cy="199.4" r="2.6"/>
<circle class="c0" cx="397.1" cy="206.0" r="2.6"/><circle class="c17" cx="342.4" cy="193.1" r="2.6"/><circle class="c19" cx="345.9" cy="210.9" r="2.6"/><circle class="c15" cx="376.5" cy="199.6" r="2.6"/><circle class="c17" cx="345.3" cy="199.7" r="2.6"/><circle class="c4" cx="446.1" cy="202.5" r="2.6"/>
<circle class="c17" cx="370.1" cy="196.4" r="2.6"/><circle class="c14" cx="387.7" cy="194.6" r="2.6"/><circle class="c1" cx="415.1" cy="199.8" r="2.6"/><circle class="c15" cx="373.4" cy="208.4" r="2.6"/><circle class="c17" cx="350.9" cy="209.7" r="2.6"/><circle class="c17" cx="354.8" cy="214.4" r="2.6"/>
<circle class="c35" cx="364.6" cy="208.8" r="2.6"/><circle class="c1" cx="492.0" cy="201.8" r="2.6"/><circle class="c12" cx="392.3" cy="205.6" r="2.6"/><circle class="c12" cx="384.7" cy="212.2" r="2.6"/><circle class="c3" cx="452.1" cy="199.3" r="2.6"/><circle class="c16" cx="363.7" cy="197.1" r="2.6"/>
<circle class="c12" cx="363.2" cy="206.8" r="2.6"/><circle class="c11" cx="396.1" cy="195.1" r="2.6"/><circle class="c13" cx="382.1" cy="192.6" r="2.6"/><circle class="c16" cx="355.2" cy="205.6" r="2.6"/><circle class="c17" cx="353.2" cy="214.9" r="2.6"/><circle class="c36" cx="354.0" cy="202.7" r="2.6"/>
<circle class="c14" cx="366.4" cy="204.9" r="2.6"/><circle class="c2" cx="440.1" cy="199.5" r="2.6"/><circle class="c11" cx="361.1" cy="207.2" r="2.6"/><circle class="c17" cx="350.2" cy="196.1" r="2.6"/><circle class="c36" cx="339.6" cy="204.2" r="2.6"/><circle class="c7" cx="384.5" cy="202.8" r="2.6"/>
<circle class="c0" cx="412.6" cy="201.8" r="2.6"/><circle class="c28" cx="352.2" cy="204.9" r="2.6"/><circle class="c3" cx="368.9" cy="200.6" r="2.6"/><circle class="c5" cx="383.0" cy="208.1" r="2.6"/><circle class="c10" cx="367.8" cy="195.2" r="2.6"/><circle class="c5" cx="467.0" cy="202.1" r="2.6"/>
<circle class="c4" cx="383.9" cy="194.9" r="2.6"/><circle class="c8" cx="388.5" cy="207.5" r="2.6"/><circle class="c12" cx="377.6" cy="204.4" r="2.6"/><circle class="c15" cx="365.8" cy="200.9" r="2.6"/><circle class="c1" cx="415.4" cy="201.9" r="2.6"/><circle class="c0" cx="445.7" cy="204.7" r="2.6"/>
<circle class="c0" cx="443.5" cy="199.1" r="2.6"/><circle class="c34" cx="338.7" cy="203.2" r="2.6"/><circle class="c39" cx="345.2" cy="200.6" r="2.6"/><circle class="c2" cx="449.1" cy="197.8" r="2.6"/><circle class="c2" cx="441.9" cy="202.1" r="2.6"/><circle class="c0" cx="456.1" cy="203.2" r="2.6"/>
<circle class="c39" cx="357.3" cy="212.3" r="2.6"/><circle class="c0" cx="422.7" cy="203.3" r="2.6"/><circle class="c3" cx="438.7" cy="203.7" r="2.6"/><circle class="c7" cx="382.3" cy="197.3" r="2.6"/><circle class="c0" cx="379.3" cy="195.2" r="2.6"/><circle class="c12" cx="403.7" cy="198.1" r="2.6"/>
<circle class="c5" cx="384.5" cy="209.8" r="2.6"/><circle class="c1" cx="467.3" cy="201.5" r="2.6"/><circle class="c27" cx="346.4" cy="208.7" r="2.6"/><circle class="c15" cx="374.7" cy="205.9" r="2.6"/><circle class="c1" cx="387.8" cy="203.1" r="2.6"/><circle class="c13" cx="335.7" cy="202.1" r="2.6"/>
<circle class="c1" cx="424.5" cy="203.3" r="2.6"/><circle class="c37" cx="348.2" cy="198.5" r="2.6"/><circle class="c28" cx="347.5" cy="191.8" r="2.6"/><circle class="c10" cx="374.6" cy="194.9" r="2.6"/><circle class="c10" cx="379.1" cy="208.3" r="2.6"/><circle class="c1" cx="408.0" cy="199.2" r="2.6"/>
<circle class="c0" cx="389.6" cy="195.1" r="2.6"/><circle class="c13" cx="379.2" cy="206.0" r="2.6"/><circle class="c12" cx="384.1" cy="205.7" r="2.6"/><circle class="c10" cx="383.7" cy="201.7" r="2.6"/><circle class="c0" cx="479.9" cy="201.8" r="2.6"/><circle class="c3" cx="392.0" cy="198.3" r="2.6"/>
<circle class="c5" cx="386.4" cy="191.6" r="2.6"/><circle class="c14" cx="362.5" cy="196.5" r="2.6"/><circle class="c4" cx="431.4" cy="200.3" r="2.6"/><circle class="c1" cx="444.8" cy="201.9" r="2.6"/><circle class="c0" cx="375.2" cy="190.7" r="2.6"/><circle class="c15" cx="344.7" cy="198.2" r="2.6"/>
<circle class="c0" cx="391.6" cy="206.3" r="2.6"/><circle class="c16" cx="349.7" cy="212.1" r="2.6"/><circle class="c28" cx="350.7" cy="188.9" r="2.6"/><circle class="c3" cx="419.2" cy="203.6" r="2.6"/><circle class="c17" cx="342.2" cy="201.4" r="2.6"/><circle class="c14" cx="379.3" cy="190.6" r="2.6"/>
<circle class="c7" cx="382.9" cy="210.5" r="2.6"/><circle class="c39" cx="347.1" cy="200.3" r="2.6"/><circle class="c14" cx="358.0" cy="193.9" r="2.6"/><circle class="c12" cx="390.7" cy="192.9" r="2.6"/><circle class="c0" cx="400.0" cy="195.9" r="2.6"/><circle class="c2" cx="463.0" cy="198.9" r="2.6"/>
<circle class="c12" cx="370.0" cy="207.8" r="2.6"/><circle class="c13" cx="375.6" cy="203.9" r="2.6"/><circle class="c17" cx="348.3" cy="207.9" r="2.6"/><circle class="c0" cx="395.8" cy="197.0" r="2.6"/><circle class="c14" cx="349.4" cy="195.9" r="2.6"/><circle class="c12" cx="379.5" cy="201.6" r="2.6"/>
<circle class="c19" cx="345.6" cy="206.5" r="2.6"/><circle class="c39" cx="348.3" cy="209.5" r="2.6"/><circle class="c11" cx="386.5" cy="207.3" r="2.6"/><circle class="c4" cx="459.1" cy="205.3" r="2.6"/><circle class="c15" cx="347.9" cy="204.8" r="2.6"/><circle class="c12" cx="359.8" cy="205.4" r="2.6"/>
<circle class="c11" cx="378.2" cy="212.8" r="2.6"/><circle class="c13" cx="392.0" cy="203.1" r="2.6"/><circle class="c31" cx="362.1" cy="207.4" r="2.6"/><circle class="c15" cx="373.2" cy="199.3" r="2.6"/><circle class="c12" cx="378.5" cy="206.2" r="2.6"/><circle class="c2" cx="470.6" cy="203.1" r="2.6"/>
<circle class="c10" cx="367.9" cy="199.6" r="2.6"/><circle class="c38" cx="350.9" cy="205.0" r="2.6"/><circle class="c0" cx="408.5" cy="204.8" r="2.6"/><circle class="c2" cx="419.0" cy="199.7" r="2.6"/><circle class="c0" cx="449.9" cy="199.9" r="2.6"/><circle class="c15" cx="353.8" cy="191.1" r="2.6"/>
<circle class="c14" cx="377.5" cy="210.7" r="2.6"/><circle class="c2" cx="441.2" cy="199.6" r="2.6"/><circle class="c2" cx="365.9" cy="198.6" r="2.6"/><circle class="c16" cx="341.9" cy="197.2" r="2.6"/><circle class="c39" cx="345.8" cy="195.0" r="2.6"/><circle class="c3" cx="384.5" cy="198.6" r="2.6"/>
<circle class="c39" cx="354.2" cy="191.5" r="2.6"/><circle class="c12" cx="391.8" cy="200.8" r="2.6"/><circle class="c16" cx="364.0" cy="201.6" r="2.6"/><circle class="c8" cx="371.5" cy="198.5" r="2.6"/><circle class="c17" cx="355.3" cy="207.3" r="2.6"/><circle class="c7" cx="401.1" cy="199.0" r="2.6"/>
<circle class="c14" cx="376.5" cy="197.3" r="2.6"/><circle class="c8" cx="376.0" cy="203.8" r="2.6"/><circle class="c15" cx="361.9" cy="202.8" r="2.6"/><circle class="c16" cx="358.8" cy="192.7" r="2.6"/><circle class="c12" cx="385.3" cy="207.7" r="2.6"/><circle class="c1" cx="456.5" cy="200.4" r="2.6"/>
<circle class="c5" cx="397.3" cy="208.6" r="2.6"/><circle class="c15" cx="351.7" cy="207.8" r="2.6"/><circle class="c16" cx="357.6" cy="200.7" r="2.6"/><circle class="c14" cx="383.6" cy="197.2" r="2.6"/><circle class="c0" cx="394.3" cy="205.1" r="2.6"/><circle class="c14" cx="372.5" cy="205.4" r="2.6"/>
<circle class="c12" cx="399.0" cy="207.6" r="2.6"/><circle class="c15" cx="348.6" cy="193.8" r="2.6"/><circle class="c4" cx="447.6" cy="202.7" r="2.6"/><circle class="c5" cx="399.9" cy="204.8" r="2.6"/><circle class="c12" cx="394.6" cy="194.8" r="2.6"/><circle class="c16" cx="380.2" cy="197.3" r="2.6"/>
<circle class="c36" cx="339.5" cy="197.1" r="2.6"/><circle class="c38" cx="345.1" cy="192.0" r="2.6"/><circle class="c26" cx="348.3" cy="205.5" r="2.6"/><circle class="c6" cx="383.7" cy="192.9" r="2.6"/><circle class="c2" cx="457.2" cy="205.0" r="2.6"/><circle class="c3" cx="398.8" cy="207.8" r="2.6"/>
<circle class="c1" cx="421.0" cy="200.3" r="2.6"/><circle class="c0" cx="422.0" cy="203.2" r="2.6"/><circle class="c2" cx="463.7" cy="204.4" r="2.6"/><circle class="c1" cx="375.4" cy="202.1" r="2.6"/><circle class="c7" cx="391.4" cy="201.5" r="2.6"/><circle class="c28" cx="351.1" cy="197.9" r="2.6"/>
<circle class="c11" cx="360.3" cy="195.8" r="2.6"/><circle class="c6" cx="393.3" cy="203.1" r="2.6"/><circle class="c22" cx="343.9" cy="207.2" r="2.6"/><circle class="c27" cx="355.7" cy="197.2" r="2.6"/><circle class="c1" cx="424.8" cy="200.1" r="2.6"/><circle class="c18" cx="356.6" cy="213.8" r="2.6"/>
<circle class="c16" cx="341.0" cy="199.5" r="2.6"/><circle class="c28" cx="348.7" cy="191.0" r="2.6"/><circle class="c39" cx="347.4" cy="196.2" r="2.6"/><circle class="c2" cx="395.0" cy="204.4" r="2.6"/><circle class="c2" cx="465.2" cy="201.5" r="2.6"/><circle class="c15" cx="351.3" cy="195.6" r="2.6"/>
<circle class="c39" cx="346.6" cy="193.0" r="2.6"/><circle class="c1" cx="399.0" cy="200.6" r="2.6"/><circle class="c1" cx="440.9" cy="201.8" r="2.6"/><circle class="c0" cx="448.5" cy="202.8" r="2.6"/><circle class="c0" cx="476.0" cy="201.5" r="2.6"/><circle class="c0" cx="399.7" cy="202.5" r="2.6"/>
<circle class="c2" cx="485.7" cy="201.7" r="2.6"/><circle class="c0" cx="369.9" cy="202.9" r="2.6"/><circle class="c7" cx="383.7" cy="212.3" r="2.6"/><circle class="c10" cx="363.3" cy="204.2" r="2.6"/><circle class="c4" cx="483.0" cy="201.6" r="2.6"/><circle class="c0" cx="475.5" cy="202.4" r="2.6"/>
<circle class="c14" cx="379.2" cy="197.6" r="2.6"/><circle class="c5" cx="397.6" cy="200.4" r="2.6"/><circle class="c0" cx="465.0" cy="199.4" r="2.6"/><circle class="c1" cx="369.9" cy="209.3" r="2.6"/><circle class="c1" cx="400.8" cy="196.6" r="2.6"/><circle class="c18" cx="364.6" cy="204.1" r="2.6"/>
<circle class="c2" cx="443.3" cy="204.2" r="2.6"/><circle class="c13" cx="367.3" cy="203.6" r="2.6"/><circle class="c6" cx="386.6" cy="209.7" r="2.6"/><circle class="c3" cx="388.6" cy="198.5" r="2.6"/><circle class="c14" cx="350.7" cy="198.3" r="2.6"/><circle class="c1" cx="456.5" cy="198.2" r="2.6"/>
<circle class="c10" cx="368.8" cy="196.0" r="2.6"/><circle class="c0" cx="473.1" cy="201.0" r="2.6"/><circle class="c35" cx="336.9" cy="202.1" r="2.6"/><circle class="c0" cx="428.3" cy="203.2" r="2.6"/><circle class="c1" cx="358.4" cy="208.9" r="2.6"/><circle class="c38" cx="335.0" cy="203.1" r="2.6"/>
<circle class="c4" cx="418.9" cy="203.4" r="2.6"/><circle class="c4" cx="369.3" cy="202.5" r="2.6"/><circle class="c34" cx="368.1" cy="201.7" r="2.6"/><circle class="c10" cx="362.7" cy="199.1" r="2.6"/><circle class="c3" cx="403.7" cy="200.7" r="2.6"/><circle class="c24" cx="320.4" cy="201.8" r="2.6"/>
<circle class="c39" cx="350.3" cy="207.2" r="2.6"/><circle class="c16" cx="360.3" cy="203.0" r="2.6"/><circle class="c7" cx="378.5" cy="190.3" r="2.6"/><circle class="c15" cx="351.4" cy="200.5" r="2.6"/><circle class="c8" cx="385.8" cy="193.4" r="2.6"/><circle class="c10" cx="396.6" cy="202.1" r="2.6"/>
<circle class="c0" cx="444.1" cy="199.1" r="2.6"/><circle class="c6" cx="416.4" cy="200.2" r="2.6"/><circle class="c10" cx="394.7" cy="199.5" r="2.6"/><circle class="c14" cx="374.5" cy="210.6" r="2.6"/><circle class="c37" cx="350.2" cy="214.7" r="2.6"/><circle class="c8" cx="390.1" cy="206.2" r="2.6"/>
<circle class="c1" cx="360.7" cy="200.6" r="2.6"/><circle class="c1" cx="468.9" cy="200.4" r="2.6"/><circle class="c14" cx="360.7" cy="198.4" r="2.6"/><circle class="c2" cx="380.4" cy="210.7" r="2.6"/><circle class="c2" cx="477.7" cy="201.5" r="2.6"/><circle class="c3" cx="369.4" cy="207.1" r="2.6"/>
<circle class="c1" cx="425.0" cy="200.2" r="2.6"/><circle class="c18" cx="348.5" cy="188.9" r="2.6"/><circle class="c37" cx="343.7" cy="207.9" r="2.6"/><circle class="c15" cx="366.6" cy="209.7" r="2.6"/><circle class="c3" cx="463.9" cy="201.8" r="2.6"/><circle class="c0" cx="427.4" cy="203.1" r="2.6"/>
<circle class="c10" cx="382.2" cy="190.7" r="2.6"/><circle class="c13" cx="378.3" cy="195.2" r="2.6"/><circle class="c15" cx="345.5" cy="203.9" r="2.6"/><circle class="c1" cx="397.0" cy="199.7" r="2.6"/><circle class="c1" cx="368.8" cy="198.9" r="2.6"/><circle class="c14" cx="367.5" cy="192.9" r="2.6"/>
<circle class="c5" cx="392.4" cy="195.5" r="2.6"/><circle class="c0" cx="447.1" cy="200.8" r="2.6"/><circle class="c7" cx="368.0" cy="197.5" r="2.6"/><circle class="c7" cx="369.5" cy="209.5" r="2.6"/><circle class="c1" cx="452.9" cy="204.1" r="2.6"/><circle class="c6" cx="402.7" cy="206.1" r="2.6"/>
<circle class="c2" cx="402.0" cy="199.5" r="2.6"/><circle class="c12" cx="372.9" cy="197.5" r="2.6"/><circle class="c10" cx="378.3" cy="197.1" r="2.6"/><circle class="c17" cx="356.5" cy="201.6" r="2.6"/><circle class="c0" cx="462.3" cy="199.3" r="2.6"/><circle class="c9" cx="377.4" cy="199.1" r="2.6"/>
<circle class="c15" cx="358.8" cy="194.5" r="2.6"/><circle class="c3" cx="393.5" cy="198.6" r="2.6"/><circle class="c38" cx="347.8" cy="213.4" r="2.6"/><circle class="c3" cx="455.2" cy="202.0" r="2.6"/><circle class="c11" cx="359.1" cy="197.0" r="2.6"/><circle class="c5" cx="411.0" cy="199.5" r="2.6"/>
<circle class="c9" cx="392.9" cy="207.3" r="2.6"/><circle class="c1" cx="420.5" cy="200.2" r="2.6"/><circle class="c4" cx="466.5" cy="199.7" r="2.6"/><circle class="c2" cx="418.9" cy="202.1" r="2.6"/><circle class="c11" cx="404.2" cy="205.3" r="2.6"/><circle class="c3" cx="398.5" cy="205.5" r="2.6"/>
<circle class="c10" cx="369.3" cy="204.7" r="2.6"/><circle class="c27" cx="354.0" cy="189.1" r="2.6"/><circle class="c25" cx="358.1" cy="191.3" r="2.6"/><circle class="c2" cx="380.8" cy="208.4" r="2.6"/><circle class="c3" cx="414.3" cy="199.6" r="2.6"/><circle class="c28" cx="353.3" cy="198.2" r="2.6"/>
<circle class="c0" cx="451.9" cy="202.0" r="2.6"/><circle class="c9" cx="395.0" cy="201.5" r="2.6"/><circle class="c0" cx="435.6" cy="203.2" r="2.6"/><circle class="c14" cx="358.9" cy="204.2" r="2.6"/><circle class="c28" cx="356.6" cy="199.7" r="2.6"/><circle class="c12" cx="397.8" cy="203.3" r="2.6"/>
<circle class="c8" cx="380.6" cy="206.6" r="2.6"/><circle class="c2" cx="407.9" cy="200.8" r="2.6"/><circle class="c27" cx="343.2" cy="210.1" r="2.6"/><circle class="c39" cx="348.2" cy="212.0" r="2.6"/><circle class="c12" cx="372.7" cy="202.7" r="2.6"/><circle class="c16" cx="365.9" cy="193.4" r="2.6"/>
<circle class="c13" cx="338.4" cy="200.5" r="2.6"/><circle class="c7" cx="380.2" cy="190.8" r="2.6"/><circle class="c12" cx="386.9" cy="198.5" r="2.6"/><circle class="c3" cx="461.3" cy="204.7" r="2.6"/><circle class="c6" cx="383.6" cy="203.6" r="2.6"/><circle class="c7" cx="383.0" cy="190.8" r="2.6"/>
<circle class="c10" cx="376.7" cy="205.9" r="2.6"/><circle class="c2" cx="398.7" cy="196.0" r="2.6"/><circle class="c2" cx="372.1" cy="207.7" r="2.6"/><circle class="c0" cx="388.6" cy="211.5" r="2.6"/><circle class="c0" cx="438.8" cy="200.2" r="2.6"/><circle class="c29" cx="350.0" cy="203.0" r="2.6"/>
<circle class="c16" cx="337.5" cy="204.6" r="2.6"/><circle class="c39" cx="345.8" cy="201.6" r="2.6"/><circle class="c26" cx="352.8" cy="196.0" r="2.6"/><circle class="c4" cx="395.5" cy="206.4" r="2.6"/><circle class="c5" cx="407.6" cy="202.9" r="2.6"/><circle class="c5" cx="392.9" cy="193.8" r="2.6"/>
<circle class="c23" cx="376.2" cy="201.6" r="2.6"/><circle class="c8" cx="375.3" cy="199.6" r="2.6"/><circle class="c2" cx="447.5" cy="205.1" r="2.6"/><circle class="c12" cx="376.4" cy="192.9" r="2.6"/><circle class="c15" cx="346.8" cy="202.8" r="2.6"/><circle class="c16" cx="353.1" cy="202.8" r="2.6"/>
<circle class="c2" cx="462.6" cy="201.1" r="2.6"/><circle class="c15" cx="346.8" cy="190.1" r="2.6"/><circle class="c9" cx="397.5" cy="198.5" r="2.6"/><circle class="c9" cx="396.7" cy="203.7" r="2.6"/><circle class="c11" cx="389.8" cy="197.4" r="2.6"/><circle class="c17" cx="343.9" cy="212.0" r="2.6"/>
<circle class="c8" cx="386.3" cy="200.5" r="2.6"/><circle class="c1" cx="387.6" cy="209.6" r="2.6"/><circle class="c14" cx="373.4" cy="205.8" r="2.6"/><circle class="c1" cx="438.1" cy="201.4" r="2.6"/><circle class="c2" cx="380.2" cy="201.8" r="2.6"/><circle class="c6" cx="389.6" cy="204.1" r="2.6"/>
<circle class="c0" cx="381.0" cy="203.7" r="2.6"/><circle class="c0" cx="390.3" cy="210.9" r="2.6"/><circle class="c39" cx="358.2" cy="205.0" r="2.6"/><circle class="c11" cx="365.8" cy="207.4" r="2.6"/><circle class="c3" cx="381.6" cy="206.5" r="2.6"/><circle class="c14" cx="355.7" cy="204.3" r="2.6"/>
<circle class="c13" cx="389.3" cy="192.2" r="2.6"/><circle class="c0" cx="460.3" cy="200.7" r="2.6"/><circle class="c10" cx="357.4" cy="207.6" r="2.6"/><circle class="c1" cx="406.0" cy="198.5" r="2.6"/><circle class="c38" cx="343.0" cy="195.8" r="2.6"/><circle class="c17" cx="339.4" cy="198.1" r="2.6"/>
<circle class="c16" cx="349.1" cy="202.7" r="2.6"/><circle class="c14" cx="373.5" cy="201.6" r="2.6"/><circle class="c13" cx="372.9" cy="195.4" r="2.6"/><circle class="c17" cx="339.4" cy="205.1" r="2.6"/><circle class="c37" cx="337.6" cy="199.5" r="2.6"/><circle class="c1" cx="437.7" cy="199.8" r="2.6"/>
<circle class="c2" cx="416.6" cy="202.1" r="2.6"/><circle class="c3" cx="459.9" cy="205.1" r="2.6"/><circle class="c0" cx="468.1" cy="200.0" r="2.6"/><circle class="c30" cx="349.1" cy="200.3" r="2.6"/><circle class="c39" cx="352.6" cy="212.1" r="2.6"/><circle class="c13" cx="367.8" cy="206.7" r="2.6"/>
<circle class="c16" cx="360.7" cy="209.6" r="2.6"/><circle class="c33" cx="359.4" cy="210.9" r="2.6"/><circle class="c2" cx="451.0" cy="205.3" r="2.6"/><circle class="c0" cx="460.3" cy="198.9" r="2.6"/><circle class="c4" cx="389.0" cy="201.9" r="2.6"/><circle class="c18" cx="350.1" cy="193.5" r="2.6"/>
<circle class="c12" cx="395.1" cy="208.5" r="2.6"/><circle class="c11" cx="373.1" cy="210.4" r="2.6"/><circle class="c0" cx="415.3" cy="203.7" r="2.6"/><circle class="c16" cx="371.8" cy="212.2" r="2.6"/><circle class="c3" cx="454.6" cy="205.6" r="2.6"/><circle class="c39" cx="344.5" cy="205.4" r="2.6"/>
<circle class="c2" cx="409.7" cy="201.8" r="2.6"/><circle class="c0" cx="387.5" cy="196.0" r="2.6"/><circle class="c16" cx="351.8" cy="191.3" r="2.6"/><circle class="c6" cx="393.4" cy="201.0" r="2.6"/><circle class="c13" cx="374.7" cy="192.5" r="2.6"/><circle class="c16" cx="358.9" cy="202.1" r="2.6"/>
<circle class="c22" cx="376.8" cy="210.5" r="2.6"/><circle class="c26" cx="332.6" cy="202.9" r="2.6"/><circle class="c0" cx="414.1" cy="201.6" r="2.6"/><circle class="c2" cx="458.2" cy="202.6" r="2.6"/><circle class="c13" cx="370.6" cy="212.0" r="2.6"/><circle class="c34" cx="356.4" cy="194.8" r="2.6"/>
<circle class="c1" cx="376.2" cy="194.9" r="2.6"/><circle class="c15" cx="343.5" cy="202.6" r="2.6"/><circle class="c2" cx="464.3" cy="204.4" r="2.6"/><circle class="c28" cx="331.4" cy="202.6" r="2.6"/><circle class="c2" cx="406.7" cy="202.7" r="2.6"/><circle class="c3" cx="384.0" cy="199.9" r="2.6"/>
<circle class="c28" cx="344.5" cy="194.1" r="2.6"/><circle class="c17" cx="342.0" cy="195.2" r="2.6"/><circle class="c13" cx="369.7" cy="211.7" r="2.6"/><circle class="c1" cx="436.8" cy="203.5" r="2.6"/><circle class="c6" cx="412.1" cy="203.9" r="2.6"/><circle class="c14" cx="374.0" cy="193.0" r="2.6"/>
<circle class="c1" cx="458.4" cy="200.3" r="2.6"/><circle class="c3" cx="406.7" cy="200.5" r="2.6"/><circle class="c1" cx="435.6" cy="201.6" r="2.6"/><circle class="c12" cx="402.7" cy="197.7" r="2.6"/><circle class="c39" cx="351.4" cy="212.4" r="2.6"/><circle class="c1" cx="369.5" cy="194.6" r="2.6"/>
<circle class="c5" cx="409.3" cy="198.9" r="2.6"/><circle class="c0" cx="432.9" cy="203.2" r="2.6"/><circle class="c15" cx="335.9" cy="203.4" r="2.6"/><circle class="c0" cx="434.9" cy="203.5" r="2.6"/><circle class="c39" cx="352.2" cy="189.2" r="2.6"/><circle class="c1" cx="405.3" cy="205.0" r="2.6"/>
<circle class="c13" cx="370.4" cy="198.3" r="2.6"/><circle class="c1" cx="458.5" cy="203.1" r="2.6"/><circle class="c27" cx="340.5" cy="199.6" r="2.6"/><circle class="c15" cx="362.8" cy="208.4" r="2.6"/><circle class="c2" cx="387.7" cy="200.3" r="2.6"/><circle class="c6" cx="412.1" cy="199.5" r="2.6"/>
<circle class="c0" cx="450.6" cy="198.1" r="2.6"/><circle class="c3" cx="376.4" cy="190.7" r="2.6"/><circle class="c24" cx="340.3" cy="201.9" r="2.6"/><circle class="c1" cx="385.9" cy="203.0" r="2.6"/><circle class="c24" cx="379.1" cy="199.6" r="2.6"/><circle class="c15" cx="343.4" cy="200.8" r="2.6"/>
<circle class="c15" cx="349.1" cy="214.2" r="2.6"/><circle class="c16" cx="372.4" cy="196.1" r="2.6"/><circle class="c16" cx="357.8" cy="196.1" r="2.6"/><circle class="c2" cx="435.5" cy="199.8" r="2.6"/><circle class="c0" cx="381.0" cy="193.1" r="2.6"/><circle class="c2" cx="370.8" cy="205.4" r="2.6"/>
<circle class="c0" cx="434.4" cy="200.2" r="2.6"/><circle class="c14" cx="382.4" cy="208.5" r="2.6"/><circle class="c12" cx="382.5" cy="201.4" r="2.6"/><circle class="c16" cx="341.6" cy="206.3" r="2.6"/><circle class="c15" cx="347.6" cy="207.3" r="2.6"/><circle class="c5" cx="417.0" cy="203.8" r="2.6"/>
<circle class="c2" cx="369.2" cy="191.7" r="2.6"/><circle class="c11" cx="363.3" cy="194.5" r="2.6"/><circle class="c7" cx="406.9" cy="204.8" r="2.6"/><circle class="c2" cx="488.6" cy="201.7" r="2.6"/><circle class="c6" cx="379.1" cy="213.2" r="2.6"/><circle class="c2" cx="375.9" cy="208.9" r="2.6"/>
<circle class="c22" cx="379.1" cy="210.5" r="2.6"/><circle class="c4" cx="361.8" cy="200.4" r="2.6"/><circle class="c1" cx="429.5" cy="203.5" r="2.6"/><circle class="c1" cx="428.7" cy="200.1" r="2.6"/><circle class="c0" cx="422.9" cy="200.1" r="2.6"/><circle class="c26" cx="334.4" cy="200.5" r="2.6"/>
<circle class="c4" cx="447.9" cy="198.7" r="2.6"/><circle class="c1" cx="402.6" cy="202.1" r="2.6"/><circle class="c0" cx="425.9" cy="203.1" r="2.6"/><circle class="c4" cx="430.9" cy="203.4" r="2.6"/><circle class="c14" cx="372.6" cy="210.3" r="2.6"/><circle class="c8" cx="382.5" cy="199.7" r="2.6"/>
<circle class="c11" cx="365.4" cy="194.2" r="2.6"/><circle class="c14" cx="380.2" cy="213.1" r="2.6"/><circle class="c3" cx="393.6" cy="194.0" r="2.6"/><circle class="c3" cx="361.8" cy="205.0" r="2.6"/><circle class="c13" cx="343.2" cy="205.5" r="2.6"/><circle class="c5" cx="429.4" cy="200.1" r="2.6"/>
<circle class="c3" cx="385.1" cy="195.8" r="2.6"/><circle class="c7" cx="381.3" cy="195.0" r="2.6"/><circle class="c2" cx="454.8" cy="197.7" r="2.6"/><circle class="c39" cx="344.4" cy="196.4" r="2.6"/><circle class="c31" cx="365.4" cy="206.3" r="2.6"/><circle class="c2" cx="444.6" cy="204.4" r="2.6"/>
<circle class="c11" cx="391.2" cy="195.3" r="2.6"/><circle class="c26" cx="355.3" cy="198.3" r="2.6"/><circle class="c1" cx="443.4" cy="202.0" r="2.6"/><circle class="c13" cx="386.0" cy="193.6" r="2.6"/><circle class="c0" cx="384.9" cy="205.2" r="2.6"/><circle class="c14" cx="401.7" cy="206.5" r="2.6"/>
<circle class="c26" cx="381.6" cy="231.0" r="2.6"/><circle class="c37" cx="361.4" cy="241.5" r="2.6"/><circle class="c27" cx="346.1" cy="240.9" r="2.6"/><circle class="c37" cx="356.5" cy="237.8" r="2.6"/><circle class="c0" cx="384.9" cy="236.5" r="2.6"/><circle class="c25" cx="391.2" cy="237.4" r="2.6"/>
<circle class="c30" cx="347.8" cy="237.1" r="2.6"/><circle class="c18" cx="369.3" cy="253.9" r="2.6"/><circle class="c25" cx="393.3" cy="233.1" r="2.6"/><circle class="c24" cx="389.4" cy="232.3" r="2.6"/><circle class="c26" cx="345.9" cy="238.7" r="2.6"/><circle class="c18" cx="373.7" cy="250.1" r="2.6"/>
<circle class="c16" cx="386.4" cy="243.4" r="2.6"/><circle class="c23" cx="359.6" cy="236.3" r="2.6"/><circle class="c36" cx="381.1" cy="250.8" r="2.6"/><circle class="c33" cx="393.2" cy="242.4" r="2.6"/><circle class="c39" cx="366.8" cy="235.1" r="2.6"/><circle class="c11" cx="409.3" cy="235.4" r="2.6"/>
<circle class="c1" cx="404.3" cy="239.0" r="2.6"/><circle class="c26" cx="369.3" cy="241.9" r="2.6"/><circle class="c39" cx="360.9" cy="231.4" r="2.6"/><circle class="c37" cx="385.6" cy="236.0" r="2.6"/><circle class="c26" cx="343.8" cy="242.1" r="2.6"/><circle class="c10" cx="465.6" cy="240.8" r="2.6"/>
<circle class="c0" cx="418.9" cy="238.0" r="2.6"/><circle class="c23" cx="347.9" cy="239.9" r="2.6"/><circle class="c22" cx="377.2" cy="249.6" r="2.6"/><circle class="c29" cx="371.3" cy="250.8" r="2.6"/><circle class="c1" cx="403.0" cy="243.4" r="2.6"/><circle class="c15" cx="377.1" cy="252.0" r="2.6"/>
<circle class="c23" cx="334.9" cy="241.2" r="2.6"/><circle class="c26" cx="413.7" cy="238.7" r="2.6"/><circle class="c18" cx="368.8" cy="235.1" r="2.6"/><circle class="c26" cx="356.9" cy="246.6" r="2.6"/><circle class="c18" cx="353.2" cy="234.0" r="2.6"/><circle class="c26" cx="339.8" cy="241.4" r="2.6"/>
<circle class="c14" cx="380.8" cy="241.9" r="2.6"/><circle class="c14" cx="396.7" cy="238.0" r="2.6"/><circle class="c1" cx="421.2" cy="238.2" r="2.6"/><circle class="c24" cx="389.2" cy="245.0" r="2.6"/><circle class="c38" cx="357.2" cy="244.4" r="2.6"/><circle class="c29" cx="364.1" cy="229.6" r="2.6"/>
<circle class="c13" cx="436.2" cy="240.7" r="2.6"/><circle class="c13" cx="406.2" cy="235.1" r="2.6"/><circle class="c29" cx="365.1" cy="243.4" r="2.6"/><circle class="c28" cx="359.5" cy="243.1" r="2.6"/><circle class="c15" cx="394.7" cy="246.4" r="2.6"/><circle class="c1" cx="396.2" cy="246.1" r="2.6"/>
<circle class="c37" cx="392.1" cy="246.4" r="2.6"/><circle class="c37" cx="349.2" cy="244.9" r="2.6"/><circle class="c13" cx="388.5" cy="238.8" r="2.6"/><circle class="c17" cx="378.7" cy="230.5" r="2.6"/><circle class="c34" cx="388.3" cy="243.3" r="2.6"/><circle class="c38" cx="379.6" cy="237.2" r="2.6"/>
<circle class="c36" cx="389.7" cy="237.1" r="2.6"/><circle class="c16" cx="380.3" cy="246.4" r="2.6"/><circle class="c39" cx="374.4" cy="247.8" r="2.6"/><circle class="c25" cx="382.2" cy="245.7" r="2.6"/><circle class="c39" cx="374.7" cy="231.4" r="2.6"/><circle class="c3" cx="380.7" cy="246.0" r="2.6"/>
<circle class="c25" cx="395.0" cy="235.4" r="2.6"/><circle class="c17" cx="387.7" cy="245.4" r="2.6"/><circle class="c37" cx="366.8" cy="228.8" r="2.6"/><circle class="c14" cx="396.4" cy="242.0" r="2.6"/><circle class="c37" cx="377.8" cy="237.1" r="2.6"/><circle class="c2" cx="385.6" cy="232.2" r="2.6"/>
<circle class="c25" cx="399.5" cy="243.1" r="2.6"/><circle class="c18" cx="376.6" cy="242.8" r="2.6"/><circle class="c39" cx="365.0" cy="233.9" r="2.6"/><circle class="c2" cx="402.8" cy="245.1" r="2.6"/><circle class="c28" cx="378.8" cy="242.4" r="2.6"/><circle class="c17" cx="373.7" cy="236.3" r="2.6"/>
<circle class="c27" cx="375.6" cy="247.9" r="2.6"/><circle class="c25" cx="373.1" cy="235.4" r="2.6"/><circle class="c26" cx="350.4" cy="236.0" r="2.6"/><circle class="c25" cx="338.3" cy="241.7" r="2.6"/><circle class="c0" cx="404.7" cy="240.5" r="2.6"/><circle class="c15" cx="393.6" cy="248.7" r="2.6"/>
<circle class="c17" cx="376.8" cy="247.0" r="2.6"/><circle class="c27" cx="371.6" cy="244.1" r="2.6"/><circle class="c14" cx="433.6" cy="240.6" r="2.6"/><circle class="c2" cx="414.4" cy="242.8" r="2.6"/><circle class="c2" cx="405.5" cy="237.6" r="2.6"/><circle class="c0" cx="422.3" cy="240.5" r="2.6"/>
<circle class="c27" cx="402.2" cy="238.7" r="2.6"/><circle class="c1" cx="401.7" cy="247.6" r="2.6"/><circle class="c36" cx="352.2" cy="237.1" r="2.6"/><circle class="c28" cx="363.4" cy="231.8" r="2.6"/><circle class="c10" cx="442.5" cy="240.9" r="2.6"/><circle class="c17" cx="383.6" cy="233.6" r="2.6"/>
<circle class="c29" cx="372.0" cy="237.2" r="2.6"/><circle class="c17" cx="362.9" cy="246.8" r="2.6"/><circle class="c13" cx="392.4" cy="244.6" r="2.6"/><circle class="c27" cx="375.3" cy="250.2" r="2.6"/><circle class="c14" cx="445.2" cy="240.8" r="2.6"/><circle class="c23" cx="416.9" cy="240.0" r="2.6"/>
<circle class="c3" cx="389.9" cy="235.2" r="2.6"/><circle class="c38" cx="364.9" cy="229.4" r="2.6"/><circle class="c14" cx="380.1" cy="239.9" r="2.6"/><circle class="c13" cx="434.6" cy="240.8" r="2.6"/><circle class="c15" cx="378.8" cy="251.6" r="2.6"/><circle class="c39" cx="373.2" cy="250.7" r="2.6"/>
<circle class="c3" cx="418.8" cy="243.6" r="2.6"/><circle class="c23" cx="333.3" cy="240.4" r="2.6"/><circle class="c22" cx="336.4" cy="240.9" r="2.6"/><circle class="c0" cx="408.5" cy="239.4" r="2.6"/><circle class="c14" cx="405.1" cy="236.9" r="2.6"/><circle class="c28" cx="362.1" cy="242.0" r="2.6"/>
<circle class="c18" cx="361.4" cy="250.4" r="2.6"/><circle class="c30" cx="350.4" cy="239.9" r="2.6"/><circle class="c27" cx="375.1" cy="234.1" r="2.6"/><circle class="c16" cx="382.2" cy="247.9" r="2.6"/><circle class="c34" cx="391.2" cy="242.4" r="2.6"/><circle class="c38" cx="376.1" cy="243.2" r="2.6"/>
<circle class="c13" cx="401.7" cy="241.2" r="2.6"/><circle class="c25" cx="344.4" cy="243.0" r="2.6"/><circle class="c15" cx="390.7" cy="246.7" r="2.6"/><circle class="c24" cx="417.0" cy="237.3" r="2.6"/><circle class="c10" cx="426.0" cy="239.3" r="2.6"/><circle class="c2" cx="400.8" cy="247.9" r="2.6"/>
<circle class="c25" cx="425.0" cy="240.5" r="2.6"/><circle class="c4" cx="381.5" cy="239.4" r="2.6"/><circle class="c0" cx="415.2" cy="241.2" r="2.6"/><circle class="c18" cx="354.4" cy="247.5" r="2.6"/><circle class="c26" cx="385.2" cy="247.8" r="2.6"/><circle class="c12" cx="385.2" cy="245.3" r="2.6"/>
<circle class="c27" cx="376.8" cy="244.9" r="2.6"/><circle class="c26" cx="360.8" cy="239.8" r="2.6"/><circle class="c27" cx="362.8" cy="237.4" r="2.6"/><circle class="c20" cx="347.7" cy="244.3" r="2.6"/><circle class="c38" cx="380.6" cy="233.2" r="2.6"/><circle class="c36" cx="380.1" cy="250.7" r="2.6"/>
<circle class="c4" cx="385.2" cy="250.1" r="2.6"/><circle class="c25" cx="342.8" cy="241.5" r="2.6"/><circle class="c12" cx="425.2" cy="239.3" r="2.6"/><circle class="c23" cx="352.8" cy="239.6" r="2.6"/><circle class="c26" cx="368.9" cy="241.9" r="2.6"/><circle class="c13" cx="437.8" cy="240.9" r="2.6"/>
<circle class="c2" cx="404.7" cy="246.7" r="2.6"/><circle class="c34" cx="394.3" cy="241.6" r="2.6"/><circle class="c16" cx="381.5" cy="244.1" r="2.6"/><circle class="c28" cx="407.6" cy="237.5" r="2.6"/><circle class="c22" cx="430.9" cy="240.2" r="2.6"/><circle class="c21" cx="331.5" cy="241.1" r="2.6"/>
<circle class="c28" cx="363.9" cy="242.8" r="2.6"/><circle class="c25" cx="349.5" cy="236.9" r="2.6"/><circle class="c23" cx="377.2" cy="238.8" r="2.6"/><circle class="c15" cx="381.3" cy="248.8" r="2.6"/><circle class="c24" cx="427.6" cy="239.5" r="2.6"/><circle class="c27" cx="366.7" cy="252.8" r="2.6"/>
<circle class="c4" cx="384.7" cy="240.8" r="2.6"/><circle class="c30" cx="363.4" cy="240.7" r="2.6"/><circle class="c11" cx="401.3" cy="243.4" r="2.6"/><circle class="c36" cx="360.6" cy="237.9" r="2.6"/><circle class="c19" cx="364.7" cy="238.8" r="2.6"/><circle class="c39" cx="367.7" cy="228.3" r="2.6"/>
<circle class="c16" cx="387.8" cy="250.0" r="2.6"/><circle class="c1" cx="393.7" cy="237.1" r="2.6"/><circle class="c13" cx="400.2" cy="238.7" r="2.6"/><circle class="c0" cx="398.9" cy="246.0" r="2.6"/><circle class="c3" cx="409.8" cy="238.6" r="2.6"/><circle class="c14" cx="402.7" cy="236.8" r="2.6"/>
<circle class="c22" cx="388.4" cy="232.2" r="2.6"/><circle class="c36" cx="357.6" cy="249.1" r="2.6"/><circle class="c3" cx="393.9" cy="248.5" r="2.6"/><circle class="c5" cx="384.4" cy="238.5" r="2.6"/><circle class="c12" cx="452.8" cy="240.8" r="2.6"/><circle class="c16" cx="375.4" cy="245.2" r="2.6"/>
<circle class="c3" cx="387.3" cy="240.7" r="2.6"/><circle class="c37" cx="388.8" cy="234.4" r="2.6"/><circle class="c23" cx="395.9" cy="237.5" r="2.6"/><circle class="c39" cx="350.6" cy="244.1" r="2.6"/><circle class="c15" cx="380.4" cy="235.6" r="2.6"/><circle class="c38" cx="373.7" cy="245.3" r="2.6"/>
<circle class="c0" cx="412.9" cy="245.6" r="2.6"/><circle class="c25" cx="343.4" cy="239.6" r="2.6"/><circle class="c26" cx="357.2" cy="242.0" r="2.6"/><circle class="c2" cx="395.7" cy="240.1" r="2.6"/><circle class="c14" cx="413.7" cy="236.2" r="2.6"/><circle class="c26" cx="339.5" cy="240.2" r="2.6"/>
<circle class="c39" cx="361.9" cy="244.2" r="2.6"/><circle class="c20" cx="364.5" cy="233.9" r="2.6"/><circle class="c39" cx="369.4" cy="237.6" r="2.6"/><circle class="c23" cx="395.4" cy="233.1" r="2.6"/><circle class="c10" cx="428.6" cy="242.0" r="2.6"/><circle class="c18" cx="351.4" cy="242.2" r="2.6"/>
<circle class="c27" cx="329.8" cy="240.8" r="2.6"/><circle class="c23" cx="382.3" cy="233.4" r="2.6"/><circle class="c24" cx="394.6" cy="232.9" r="2.6"/><circle class="c25" cx="365.6" cy="248.3" r="2.6"/><circle class="c39" cx="365.0" cy="252.8" r="2.6"/><circle class="c14" cx="418.4" cy="242.0" r="2.6"/>
<circle class="c13" cx="407.2" cy="242.3" r="2.6"/><circle class="c19" cx="350.5" cy="237.5" r="2.6"/><circle class="c28" cx="367.1" cy="244.3" r="2.6"/><circle class="c26" cx="417.7" cy="244.2" r="2.6"/><circle class="c38" cx="395.9" cy="248.4" r="2.6"/><circle class="c21" cx="372.4" cy="246.2" r="2.6"/>
<circle class="c15" cx="411.6" cy="238.8" r="2.6"/><circle class="c3" cx="404.0" cy="244.7" r="2.6"/><circle class="c36" cx="356.0" cy="235.3" r="2.6"/><circle class="c14" cx="376.1" cy="236.1" r="2.6"/><circle class="c0" cx="405.9" cy="244.4" r="2.6"/><circle class="c20" cx="371.3" cy="239.7" r="2.6"/>
<circle class="c0" cx="410.3" cy="243.6" r="2.6"/><circle class="c39" cx="371.1" cy="248.6" r="2.6"/><circle class="c26" cx="372.6" cy="248.6" r="2.6"/><circle class="c2" cx="425.0" cy="243.0" r="2.6"/><circle class="c37" cx="393.0" cy="240.1" r="2.6"/><circle class="c39" cx="374.9" cy="231.5" r="2.6"/>
<circle class="c19" cx="367.8" cy="239.3" r="2.6"/><circle class="c26" cx="372.5" cy="231.3" r="2.6"/><circle class="c28" cx="363.7" cy="251.7" r="2.6"/><circle class="c26" cx="373.7" cy="252.5" r="2.6"/><circle class="c20" cx="340.5" cy="241.4" r="2.6"/><circle class="c28" cx="365.8" cy="240.9" r="2.6"/>
<circle class="c11" cx="404.0" cy="242.9" r="2.6"/><circle class="c36" cx="359.4" cy="234.0" r="2.6"/><circle class="c12" cx="423.9" cy="238.9" r="2.6"/><circle class="c25" cx="378.5" cy="234.7" r="2.6"/><circle class="c26" cx="353.2" cy="236.5" r="2.6"/><circle class="c18" cx="368.7" cy="237.8" r="2.6"/>
<circle class="c35" cx="377.4" cy="229.8" r="2.6"/><circle class="c38" cx="402.9" cy="234.7" r="2.6"/><circle class="c38" cx="366.4" cy="232.9" r="2.6"/><circle class="c38" cx="375.6" cy="252.1" r="2.6"/><circle class="c19" cx="358.1" cy="242.4" r="2.6"/><circle class="c0" cx="395.5" cy="244.1" r="2.6"/>
<circle class="c36" cx="374.4" cy="240.5" r="2.6"/><circle class="c10" cx="383.8" cy="247.8" r="2.6"/><circle class="c36" cx="378.2" cy="248.7" r="2.6"/><circle class="c15" cx="382.3" cy="231.4" r="2.6"/><circle class="c35" cx="398.8" cy="243.4" r="2.6"/><circle class="c37" cx="358.9" cy="231.8" r="2.6"/>
<circle class="c2" cx="419.3" cy="239.8" r="2.6"/><circle class="c25" cx="389.2" cy="249.6" r="2.6"/><circle class="c11" cx="440.8" cy="240.9" r="2.6"/><circle class="c39" cx="362.7" cy="239.4" r="2.6"/><circle class="c26" cx="362.2" cy="234.7" r="2.6"/><circle class="c24" cx="351.1" cy="246.1" r="2.6"/>
<circle class="c39" cx="366.6" cy="230.8" r="2.6"/><circle class="c12" cx="391.8" cy="248.9" r="2.6"/><circle class="c25" cx="380.0" cy="242.0" r="2.6"/><circle class="c17" cx="412.4" cy="242.9" r="2.6"/><circle class="c21" cx="360.2" cy="245.7" r="2.6"/><circle class="c37" cx="397.7" cy="233.6" r="2.6"/>
<circle class="c16" cx="408.9" cy="242.0" r="2.6"/><circle class="c3" cx="397.4" cy="239.5" r="2.6"/><circle class="c37" cx="363.8" cy="247.7" r="2.6"/><circle class="c28" cx="325.8" cy="240.8" r="2.6"/><circle class="c36" cx="363.6" cy="238.9" r="2.6"/><circle class="c15" cx="385.6" cy="242.9" r="2.6"/>
<circle class="c39" cx="360.2" cy="238.7" r="2.6"/><circle class="c13" cx="406.2" cy="247.0" r="2.6"/><circle class="c23" cx="330.3" cy="240.8" r="2.6"/><circle class="c12" cx="378.3" cy="232.7" r="2.6"/><circle class="c18" cx="360.0" cy="247.4" r="2.6"/><circle class="c10" cx="412.7" cy="243.0" r="2.6"/>
<circle class="c26" cx="357.0" cy="248.5" r="2.6"/><circle class="c18" cx="367.2" cy="246.3" r="2.6"/><circle class="c4" cx="406.1" cy="239.3" r="2.6"/><circle class="c29" cx="368.7" cy="248.5" r="2.6"/><circle class="c14" cx="377.4" cy="240.5" r="2.6"/><circle class="c26" cx="368.9" cy="251.1" r="2.6"/>
<circle class="c0" cx="385.8" cy="234.4" r="2.6"/><circle class="c16" cx="367.2" cy="239.5" r="2.6"/><circle class="c4" cx="382.9" cy="238.6" r="2.6"/><circle class="c28" cx="369.5" cy="235.3" r="2.6"/><circle class="c15" cx="405.0" cy="234.2" r="2.6"/><circle class="c28" cx="328.1" cy="240.8" r="2.6"/>
<circle class="c33" cx="384.2" cy="231.3" r="2.6"/><circle class="c15" cx="382.1" cy="236.4" r="2.6"/><circle class="c12" cx="403.4" cy="239.0" r="2.6"/><circle class="c0" cx="383.3" cy="250.6" r="2.6"/><circle class="c3" cx="391.4" cy="244.6" r="2.6"/><circle class="c15" cx="430.8" cy="241.8" r="2.6"/>
<circle class="c27" cx="365.5" cy="250.1" r="2.6"/><circle class="c37" cx="354.7" cy="236.0" r="2.6"/><circle class="c39" cx="360.5" cy="244.1" r="2.6"/><circle class="c26" cx="346.6" cy="243.3" r="2.6"/><circle class="c18" cx="365.3" cy="236.3" r="2.6"/><circle class="c2" cx="428.5" cy="239.8" r="2.6"/>
<circle class="c15" cx="396.8" cy="244.4" r="2.6"/><circle class="c29" cx="374.7" cy="229.4" r="2.6"/><circle class="c37" cx="386.7" cy="236.3" r="2.6"/><circle class="c15" cx="363.4" cy="245.6" r="2.6"/><circle class="c15" cx="381.4" cy="235.7" r="2.6"/><circle class="c25" cx="342.1" cy="239.9" r="2.6"/>
<circle class="c39" cx="369.3" cy="239.3" r="2.6"/><circle class="c29" cx="369.0" cy="244.0" r="2.6"/><circle class="c38" cx="391.3" cy="235.1" r="2.6"/><circle class="c11" cx="446.0" cy="240.8" r="2.6"/><circle class="c37" cx="358.4" cy="246.7" r="2.6"/><circle class="c23" cx="395.5" cy="235.3" r="2.6"/>
<circle class="c23" cx="393.7" cy="239.9" r="2.6"/><circle class="c18" cx="370.2" cy="230.4" r="2.6"/><circle class="c16" cx="367.1" cy="237.5" r="2.6"/><circle class="c25" cx="416.2" cy="244.8" r="2.6"/><circle class="c23" cx="428.1" cy="242.3" r="2.6"/><circle class="c24" cx="390.9" cy="233.0" r="2.6"/>
<circle class="c20" cx="371.6" cy="235.0" r="2.6"/><circle class="c35" cx="383.7" cy="250.3" r="2.6"/><circle class="c14" cx="397.5" cy="235.6" r="2.6"/><circle class="c13" cx="387.7" cy="238.8" r="2.6"/><circle class="c37" cx="408.4" cy="246.2" r="2.6"/><circle class="c18" cx="368.0" cy="246.8" r="2.6"/>
<circle class="c19" cx="375.4" cy="229.8" r="2.6"/><circle class="c19" cx="355.8" cy="246.0" r="2.6"/><circle class="c12" cx="410.7" cy="235.4" r="2.6"/><circle class="c11" cx="421.1" cy="243.5" r="2.6"/><circle class="c3" cx="413.4" cy="241.1" r="2.6"/><circle class="c12" cx="455.6" cy="240.8" r="2.6"/>
<circle class="c25" cx="345.6" cy="240.5" r="2.6"/><circle class="c18" cx="379.6" cy="248.8" r="2.6"/><circle class="c4" cx="425.7" cy="242.2" r="2.6"/><circle class="c0" cx="410.4" cy="240.5" r="2.6"/><circle class="c15" cx="380.5" cy="230.8" r="2.6"/><circle class="c37" cx="373.7" cy="242.8" r="2.6"/>
<circle class="c2" cx="390.6" cy="244.4" r="2.6"/><circle class="c26" cx="357.7" cy="234.8" r="2.6"/><circle class="c39" cx="355.4" cy="241.2" r="2.6"/><circle class="c25" cx="420.9" cy="237.8" r="2.6"/><circle class="c26" cx="372.8" cy="233.0" r="2.6"/><circle class="c28" cx="366.5" cy="241.6" r="2.6"/>
<circle class="c14" cx="379.1" cy="244.3" r="2.6"/><circle class="c14" cx="385.6" cy="240.5" r="2.6"/><circle class="c11" cx="410.4" cy="246.3" r="2.6"/><circle class="c4" cx="392.9" cy="237.7" r="2.6"/><circle class="c16" cx="388.1" cy="236.8" r="2.6"/><circle class="c3" cx="399.0" cy="235.9" r="2.6"/>
<circle class="c24" cx="353.0" cy="246.4" r="2.6"/><circle class="c39" cx="353.9" cy="245.5" r="2.6"/><circle class="c30" cx="373.0" cy="239.7" r="2.6"/><circle class="c39" cx="369.4" cy="227.8" r="2.6"/><circle class="c38" cx="364.9" cy="245.8" r="2.6"/><circle class="c27" cx="368.5" cy="230.3" r="2.6"/>
<circle class="c39" cx="367.1" cy="251.2" r="2.6"/><circle class="c0" cx="423.2" cy="243.2" r="2.6"/><circle class="c4" cx="416.0" cy="239.3" r="2.6"/><circle class="c19" cx="358.2" cy="239.5" r="2.6"/><circle class="c1" cx="402.6" cy="247.8" r="2.6"/><circle class="c38" cx="371.3" cy="241.9" r="2.6"/>
<circle class="c37" cx="385.0" cy="238.7" r="2.6"/><circle class="c19" cx="370.7" cy="233.1" r="2.6"/><circle class="c27" cx="372.6" cy="244.5" r="2.6"/><circle class="c0" cx="414.8" cy="244.7" r="2.6"/><circle class="c25" cx="340.7" cy="240.0" r="2.6"/><circle class="c35" cx="388.0" cy="247.1" r="2.6"/>
<circle class="c39" cx="364.9" cy="231.8" r="2.6"/><circle class="c4" cx="416.4" cy="236.8" r="2.6"/><circle class="c28" cx="397.4" cy="241.6" r="2.6"/><circle class="c18" cx="358.9" cy="241.0" r="2.6"/><circle class="c38" cx="368.8" cy="232.5" r="2.6"/><circle class="c4" cx="401.1" cy="233.9" r="2.6"/>
<circle class="c36" cx="370.5" cy="253.2" r="2.6"/><circle class="c11" cx="443.3" cy="240.9" r="2.6"/><circle class="c20" cx="352.0" cy="241.9" r="2.6"/><circle class="c17" cx="353.9" cy="238.7" r="2.6"/><circle class="c27" cx="399.2" cy="247.8" r="2.6"/><circle class="c34" cx="377.0" cy="234.2" r="2.6"/>
<circle class="c14" cx="398.0" cy="238.3" r="2.6"/><circle class="c25" cx="349.0" cy="242.8" r="2.6"/><circle class="c13" cx="418.1" cy="242.1" r="2.6"/><circle class="c2" cx="407.0" cy="235.5" r="2.6"/><circle class="c19" cx="349.1" cy="238.4" r="2.6"/><circle class="c4" cx="400.4" cy="235.8" r="2.6"/>
<circle class="c18" cx="370.9" cy="228.1" r="2.6"/><circle class="c24" cx="379.4" cy="233.4" r="2.6"/><circle class="c26" cx="420.9" cy="240.6" r="2.6"/><circle class="c34" cx="395.0" cy="244.5" r="2.6"/><circle class="c17" cx="364.6" cy="249.8" r="2.6"/><circle class="c2" cx="422.9" cy="240.8" r="2.6"/>
<circle class="c27" cx="370.4" cy="246.7" r="2.6"/><circle class="c24" cx="360.4" cy="248.2" r="2.6"/><circle class="c36" cx="352.0" cy="244.2" r="2.6"/><circle class="c29" cx="366.9" cy="248.5" r="2.6"/><circle class="c39" cx="401.5" cy="235.9" r="2.6"/><circle class="c21" cx="358.6" cy="232.5" r="2.6"/>
<circle class="c25" cx="358.4" cy="237.2" r="2.6"/><circle class="c3" cx="389.5" cy="239.6" r="2.6"/><circle class="c13" cx="391.8" cy="240.0" r="2.6"/><circle class="c27" cx="408.0" cy="244.2" r="2.6"/><circle class="c36" cx="360.1" cy="249.7" r="2.6"/><circle class="c16" cx="375.3" cy="240.5" r="2.6"/>
<circle class="c2" cx="390.6" cy="242.4" r="2.6"/><circle class="c10" cx="415.2" cy="239.0" r="2.6"/><circle class="c25" cx="348.3" cy="241.6" r="2.6"/><circle class="c28" cx="372.2" cy="228.9" r="2.6"/><circle class="c19" cx="355.6" cy="243.0" r="2.6"/><circle class="c18" cx="373.4" cy="233.9" r="2.6"/>
<circle class="c34" cx="353.1" cy="240.8" r="2.6"/><circle class="c28" cx="367.8" cy="253.6" r="2.6"/><circle class="c27" cx="345.0" cy="239.2" r="2.6"/><circle class="c26" cx="409.4" cy="244.4" r="2.6"/><circle class="c37" cx="355.1" cy="238.7" r="2.6"/><circle class="c23" cx="361.7" cy="246.1" r="2.6"/>
<circle class="c33" cx="390.6" cy="249.4" r="2.6"/><circle class="c2" cx="431.5" cy="241.3" r="2.6"/><circle class="c28" cx="371.4" cy="230.9" r="2.6"/><circle class="c36" cx="358.4" cy="244.5" r="2.6"/><circle class="c25" cx="380.9" cy="237.6" r="2.6"/><circle class="c27" cx="362.1" cy="249.3" r="2.6"/>
<circle class="c18" cx="353.3" cy="243.2" r="2.6"/><circle class="c24" cx="361.6" cy="235.6" r="2.6"/><circle class="c28" cx="369.1" cy="251.7" r="2.6"/><circle class="c17" cx="368.4" cy="244.7" r="2.6"/><circle class="c2" cx="414.4" cy="236.5" r="2.6"/><circle class="c39" cx="362.8" cy="230.2" r="2.6"/>
<circle class="c24" cx="338.2" cy="240.3" r="2.6"/><circle class="c1" cx="469.4" cy="240.8" r="2.6"/><circle class="c38" cx="406.6" cy="241.8" r="2.6"/><circle class="c38" cx="363.0" cy="232.9" r="2.6"/><circle class="c38" cx="372.2" cy="253.0" r="2.6"/><circle class="c1" cx="401.6" cy="245.5" r="2.6"/>
<circle class="c15" cx="393.4" cy="235.2" r="2.6"/><circle class="c5" cx="407.7" cy="246.9" r="2.6"/><circle class="c13" cx="407.9" cy="239.5" r="2.6"/><circle class="c12" cx="383.6" cy="243.6" r="2.6"/><circle class="c17" cx="356.1" cy="239.4" r="2.6"/><circle class="c39" cx="371.2" cy="246.9" r="2.6"/>
<circle class="c23" cx="361.2" cy="233.3" r="2.6"/><circle class="c10" cx="439.4" cy="240.9" r="2.6"/><circle class="c11" cx="399.5" cy="240.5" r="2.6"/><circle class="c1" cx="411.9" cy="236.0" r="2.6"/><circle class="c26" cx="400.3" cy="233.9" r="2.6"/><circle class="c27" cx="382.1" cy="243.3" r="2.6"/>
<circle class="c37" cx="369.5" cy="232.6" r="2.6"/><circle class="c16" cx="375.1" cy="238.9" r="2.6"/><circle class="c24" cx="411.3" cy="245.7" r="2.6"/><circle class="c13" cx="388.8" cy="240.6" r="2.6"/><circle class="c39" cx="376.5" cy="236.4" r="2.6"/><circle class="c10" cx="409.0" cy="237.7" r="2.6"/>
<circle class="c27" cx="377.2" cy="232.4" r="2.6"/><circle class="c10" cx="422.0" cy="243.5" r="2.6"/><circle class="c26" cx="371.1" cy="237.5" r="2.6"/><circle class="c26" cx="357.3" cy="232.9" r="2.6"/><circle class="c19" cx="370.0" cy="249.1" r="2.6"/><circle class="c3" cx="398.6" cy="240.5" r="2.6"/>
<circle class="c15" cx="383.3" cy="240.6" r="2.6"/><circle class="c13" cx="392.5" cy="246.2" r="2.6"/><circle class="c24" cx="355.1" cy="248.4" r="2.6"/><circle class="c37" cx="378.3" cy="239.6" r="2.6"/><circle class="c24" cx="364.4" cy="236.1" r="2.6"/><circle class="c16" cx="379.2" cy="244.0" r="2.6"/>
<circle class="c17" cx="378.5" cy="246.7" r="2.6"/><circle class="c14" cx="400.5" cy="245.2" r="2.6"/><circle class="c28" cx="373.4" cy="238.7" r="2.6"/><circle class="c12" cx="399.1" cy="234.0" r="2.6"/><circle class="c4" cx="403.3" cy="241.2" r="2.6"/><circle class="c25" cx="396.9" cy="248.7" r="2.6"/>
<circle class="c14" cx="397.5" cy="246.0" r="2.6"/><circle class="c14" cx="387.3" cy="232.3" r="2.6"/><circle class="c15" cx="416.2" cy="242.2" r="2.6"/><circle class="c12" cx="432.5" cy="240.4" r="2.6"/><circle class="c25" cx="355.6" cy="234.0" r="2.6"/><circle class="c14" cx="384.6" cy="245.5" r="2.6"/>
<circle class="c24" cx="387.1" cy="234.3" r="2.6"/><circle class="c26" cx="349.9" cy="240.5" r="2.6"/><circle class="c20" cx="372.2" cy="242.3" r="2.6"/><circle class="c0" cx="411.1" cy="240.9" r="2.6"/><circle class="c37" cx="352.3" cy="235.4" r="2.6"/><circle class="c37" cx="362.5" cy="251.5" r="2.6"/>
<circle class="c13" cx="387.0" cy="247.4" r="2.6"/><circle class="c8" cx="355.2" cy="285.4" r="2.6"/><circle class="c0" cx="330.1" cy="280.0" r="2.6"/><circle class="c1" cx="410.6" cy="280.7" r="2.6"/><circle class="c38" cx="398.0" cy="280.3" r="2.6"/><circle class="c2" cx="365.5" cy="286.6" r="2.6"/>
<circle class="c2" cx="382.6" cy="288.9" r="2.6"/><circle class="c0" cx="359.3" cy="285.2" r="2.6"/><circle class="c39" cx="370.4" cy="276.1" r="2.6"/><circle class="c17" cx="363.7" cy="269.4" r="2.6"/><circle class="c17" cx="402.5" cy="282.0" r="2.6"/><circle class="c8" cx="384.8" cy="281.4" r="2.6"/>
<circle class="c38" cx="365.6" cy="290.8" r="2.6"/><circle class="c0" cx="345.3" cy="284.0" r="2.6"/><circle class="c28" cx="373.2" cy="276.1" r="2.6"/><circle class="c3" cx="382.9" cy="279.8" r="2.6"/><circle class="c19" cx="377.8" cy="291.4" r="2.6"/><circle class="c3" cx="407.1" cy="281.2" r="2.6"/>
<circle class="c1" cx="387.1" cy="286.0" r="2.6"/><circle class="c16" cx="373.4" cy="285.5" r="2.6"/><circle class="c1" cx="403.5" cy="281.4" r="2.6"/><circle class="c0" cx="387.7" cy="284.0" r="2.6"/><circle class="c39" cx="386.6" cy="273.0" r="2.6"/><circle class="c1" cx="470.2" cy="280.0" r="2.6"/>
<circle class="c1" cx="378.2" cy="288.5" r="2.6"/><circle class="c25" cx="359.2" cy="280.8" r="2.6"/><circle class="c15" cx="369.9" cy="283.2" r="2.6"/><circle class="c2" cx="372.1" cy="269.3" r="2.6"/><circle class="c27" cx="347.9" cy="284.1" r="2.6"/><circle class="c24" cx="396.0" cy="276.7" r="2.6"/>
<circle class="c14" cx="364.9" cy="285.5" r="2.6"/><circle class="c0" cx="353.2" cy="280.3" r="2.6"/><circle class="c18" cx="376.5" cy="287.5" r="2.6"/><circle class="c2" cx="371.7" cy="282.4" r="2.6"/><circle class="c2" cx="386.9" cy="279.7" r="2.6"/><circle class="c18" cx="366.2" cy="288.6" r="2.6"/>
<circle class="c2" cx="356.5" cy="278.2" r="2.6"/><circle class="c2" cx="453.5" cy="280.0" r="2.6"/><circle class="c1" cx="334.7" cy="279.6" r="2.6"/><circle class="c27" cx="375.2" cy="290.1" r="2.6"/><circle class="c37" cx="400.7" cy="280.2" r="2.6"/><circle class="c25" cx="397.6" cy="277.7" r="2.6"/>
<circle class="c15" cx="349.1" cy="281.8" r="2.6"/><circle class="c38" cx="337.2" cy="278.8" r="2.6"/><circle class="c39" cx="358.6" cy="277.7" r="2.6"/><circle class="c0" cx="406.2" cy="281.3" r="2.6"/><circle class="c0" cx="429.8" cy="280.0" r="2.6"/><circle class="c39" cx="392.1" cy="282.1" r="2.6"/>
<circle class="c8" cx="387.8" cy="282.3" r="2.6"/><circle class="c0" cx="404.6" cy="278.6" r="2.6"/><circle class="c39" cx="350.4" cy="275.9" r="2.6"/><circle class="c16" cx="382.0" cy="287.2" r="2.6"/><circle class="c24" cx="362.8" cy="287.2" r="2.6"/><circle class="c15" cx="379.1" cy="269.2" r="2.6"/>
<circle class="c0" cx="384.5" cy="274.5" r="2.6"/><circle class="c0" cx="442.2" cy="280.0" r="2.6"/><circle class="c23" cx="376.0" cy="270.0" r="2.6"/><circle class="c34" cx="374.2" cy="290.5" r="2.6"/><circle class="c2" cx="370.0" cy="278.5" r="2.6"/><circle class="c0" cx="374.6" cy="278.6" r="2.6"/>
<circle class="c8" cx="369.0" cy="274.6" r="2.6"/><circle class="c17" cx="385.1" cy="278.8" r="2.6"/><circle class="c35" cx="374.5" cy="288.1" r="2.6"/><circle class="c0" cx="435.1" cy="280.0" r="2.6"/><circle class="c0" cx="419.5" cy="279.8" r="2.6"/><circle class="c38" cx="366.9" cy="270.5" r="2.6"/>
<circle class="c15" cx="374.3" cy="292.7" r="2.6"/><circle class="c25" cx="355.5" cy="274.3" r="2.6"/><circle class="c26" cx="389.1" cy="285.7" r="2.6"/><circle class="c1" cx="383.5" cy="271.5" r="2.6"/><circle class="c4" cx="417.0" cy="280.6" r="2.6"/><circle class="c3" cx="412.2" cy="280.5" r="2.6"/>
<circle class="c1" cx="347.2" cy="280.9" r="2.6"/><circle class="c0" cx="424.5" cy="280.3" r="2.6"/><circle class="c28" cx="379.8" cy="285.3" r="2.6"/><circle class="c2" cx="374.1" cy="281.0" r="2.6"/><circle class="c39" cx="354.8" cy="285.3" r="2.6"/><circle class="c39" cx="409.8" cy="281.0" r="2.6"/>
<circle class="c26" cx="370.1" cy="271.6" r="2.6"/><circle class="c39" cx="391.2" cy="280.1" r="2.6"/><circle class="c39" cx="382.3" cy="270.3" r="2.6"/><circle class="c16" cx="355.3" cy="278.7" r="2.6"/><circle class="c17" cx="365.2" cy="282.2" r="2.6"/><circle class="c28" cx="371.5" cy="266.8" r="2.6"/>
<circle class="c26" cx="366.8" cy="289.0" r="2.6"/><circle class="c9" cx="383.9" cy="288.2" r="2.6"/><circle class="c1" cx="374.1" cy="267.2" r="2.6"/><circle class="c24" cx="352.3" cy="282.2" r="2.6"/><circle class="c16" cx="400.5" cy="277.9" r="2.6"/><circle class="c38" cx="374.8" cy="276.5" r="2.6"/>
<circle class="c16" cx="355.6" cy="283.4" r="2.6"/><circle class="c1" cx="417.2" cy="279.4" r="2.6"/><circle class="c14" cx="369.1" cy="278.5" r="2.6"/><circle class="c26" cx="361.3" cy="277.8" r="2.6"/><circle class="c6" cx="379.6" cy="269.3" r="2.6"/><circle class="c24" cx="356.8" cy="286.4" r="2.6"/>
<circle class="c25" cx="371.6" cy="292.9" r="2.6"/><circle class="c0" cx="355.5" cy="280.8" r="2.6"/><circle class="c13" cx="359.5" cy="287.3" r="2.6"/><circle class="c1" cx="358.8" cy="284.5" r="2.6"/><circle class="c36" cx="388.3" cy="274.1" r="2.6"/><circle class="c25" cx="357.9" cy="272.8" r="2.6"/>
<circle class="c16" cx="333.8" cy="279.7" r="2.6"/><circle class="c26" cx="370.2" cy="285.4" r="2.6"/><circle class="c1" cx="488.8" cy="280.0" r="2.6"/><circle class="c1" cx="472.4" cy="280.0" r="2.6"/><circle class="c17" cx="395.8" cy="280.6" r="2.6"/><circle class="c27" cx="380.0" cy="274.4" r="2.6"/>
<circle class="c2" cx="345.6" cy="278.4" r="2.6"/><circle class="c0" cx="451.2" cy="280.0" r="2.6"/><circle class="c16" cx="360.8" cy="283.9" r="2.6"/><circle class="c17" cx="361.6" cy="286.7" r="2.6"/><circle class="c0" cx="413.4" cy="280.6" r="2.6"/><circle class="c14" cx="380.2" cy="290.0" r="2.6"/>
<circle class="c3" cx="399.6" cy="277.7" r="2.6"/><circle class="c38" cx="341.3" cy="282.8" r="2.6"/><circle class="c1" cx="377.9" cy="268.2" r="2.6"/><circle class="c38" cx="380.0" cy="276.4" r="2.6"/><circle class="c36" cx="368.9" cy="292.0" r="2.6"/><circle class="c9" cx="393.5" cy="280.9" r="2.6"/>
<circle class="c26" cx="363.8" cy="278.9" r="2.6"/><circle class="c11" cx="384.3" cy="285.3" r="2.6"/><circle class="c19" cx="383.9" cy="276.3" r="2.6"/><circle class="c25" cx="391.2" cy="284.1" r="2.6"/><circle class="c38" cx="379.0" cy="286.4" r="2.6"/><circle class="c3" cx="443.9" cy="279.9" r="2.6"/>
<circle class="c24" cx="358.1" cy="282.0" r="2.6"/><circle class="c17" cx="362.7" cy="284.6" r="2.6"/><circle class="c15" cx="370.9" cy="288.7" r="2.6"/><circle class="c35" cx="357.4" cy="273.6" r="2.6"/><circle class="c37" cx="375.4" cy="291.9" r="2.6"/><circle class="c37" cx="342.5" cy="280.7" r="2.6"/>
<circle class="c1" cx="355.5" cy="276.7" r="2.6"/><circle class="c15" cx="382.4" cy="282.2" r="2.6"/><circle class="c0" cx="424.0" cy="279.9" r="2.6"/><circle class="c15" cx="371.6" cy="291.1" r="2.6"/><circle class="c17" cx="354.7" cy="282.5" r="2.6"/><circle class="c11" cx="371.5" cy="277.5" r="2.6"/>
<circle class="c39" cx="366.8" cy="292.1" r="2.6"/><circle class="c0" cx="380.4" cy="281.1" r="2.6"/><circle class="c0" cx="386.5" cy="277.2" r="2.6"/><circle class="c1" cx="361.2" cy="280.0" r="2.6"/><circle class="c10" cx="364.6" cy="273.8" r="2.6"/><circle class="c39" cx="367.4" cy="280.1" r="2.6"/>
<circle class="c8" cx="363.2" cy="270.7" r="2.6"/><circle class="c3" cx="377.1" cy="284.8" r="2.6"/><circle class="c25" cx="377.3" cy="277.3" r="2.6"/><circle class="c15" cx="346.6" cy="276.2" r="2.6"/><circle class="c10" cx="377.6" cy="275.5" r="2.6"/><circle class="c3" cx="439.1" cy="280.2" r="2.6"/>
<circle class="c3" cx="379.2" cy="284.0" r="2.6"/><circle class="c15" cx="389.5" cy="276.3" r="2.6"/><circle class="c15" cx="351.1" cy="282.5" r="2.6"/><circle class="c24" cx="381.0" cy="290.0" r="2.6"/><circle class="c24" cx="365.3" cy="284.0" r="2.6"/><circle class="c26" cx="379.0" cy="291.0" r="2.6"/>
<circle class="c38" cx="354.5" cy="274.8" r="2.6"/><circle class="c16" cx="368.3" cy="271.9" r="2.6"/><circle class="c15" cx="365.4" cy="269.3" r="2.6"/><circle class="c38" cx="351.8" cy="277.4" r="2.6"/><circle class="c15" cx="393.7" cy="278.4" r="2.6"/><circle class="c23" cx="367.2" cy="284.5" r="2.6"/>
<circle class="c1" cx="434.0" cy="280.1" r="2.6"/><circle class="c15" cx="390.6" cy="282.3" r="2.6"/><circle class="c0" cx="364.4" cy="281.4" r="2.6"/><circle class="c18" cx="358.9" cy="275.7" r="2.6"/><circle class="c8" cx="390.2" cy="284.5" r="2.6"/><circle class="c1" cx="348.5" cy="276.2" r="2.6"/>
<circle class="c16" cx="364.5" cy="283.0" r="2.6"/><circle class="c14" cx="371.6" cy="273.4" r="2.6"/><circle class="c16" cx="367.2" cy="268.5" r="2.6"/><circle class="c17" cx="377.3" cy="270.4" r="2.6"/><circle class="c39" cx="391.1" cy="275.4" r="2.6"/><circle class="c1" cx="375.5" cy="274.4" r="2.6"/>
<circle class="c10" cx="373.4" cy="271.5" r="2.6"/><circle class="c3" cx="381.8" cy="278.8" r="2.6"/><circle class="c18" cx="396.3" cy="279.1" r="2.6"/><circle class="c37" cx="357.5" cy="276.0" r="2.6"/><circle class="c15" cx="379.6" cy="287.7" r="2.6"/><circle class="c36" cx="363.0" cy="277.8" r="2.6"/>
<circle class="c27" cx="382.8" cy="273.5" r="2.6"/><circle class="c25" cx="360.9" cy="282.3" r="2.6"/><circle class="c39" cx="375.9" cy="281.4" r="2.6"/><circle class="c37" cx="394.6" cy="282.9" r="2.6"/><circle class="c14" cx="394.7" cy="278.9" r="2.6"/><circle class="c16" cx="375.9" cy="283.5" r="2.6"/>
<circle class="c38" cx="331.1" cy="279.8" r="2.6"/><circle class="c1" cx="411.7" cy="279.4" r="2.6"/><circle class="c37" cx="385.7" cy="280.0" r="2.6"/><circle class="c2" cx="400.1" cy="281.9" r="2.6"/><circle class="c10" cx="366.7" cy="287.4" r="2.6"/><circle class="c37" cx="379.4" cy="277.5" r="2.6"/>
<circle class="c17" cx="401.8" cy="279.9" r="2.6"/><circle class="c39" cx="375.8" cy="268.0" r="2.6"/><circle class="c15" cx="386.1" cy="282.6" r="2.6"/><circle class="c14" cx="374.0" cy="274.6" r="2.6"/><circle class="c22" cx="389.9" cy="274.8" r="2.6"/><circle class="c17" cx="372.6" cy="274.2" r="2.6"/>
<circle class="c17" cx="351.9" cy="275.8" r="2.6"/><circle class="c17" cx="339.5" cy="277.6" r="2.6"/><circle class="c8" cx="378.8" cy="281.7" r="2.6"/><circle class="c14" cx="383.2" cy="275.6" r="2.6"/><circle class="c24" cx="354.8" cy="277.8" r="2.6"/><circle class="c0" cx="448.9" cy="280.0" r="2.6"/>
<circle class="c15" cx="404.6" cy="281.4" r="2.6"/><circle class="c3" cx="364.9" cy="290.2" r="2.6"/><circle class="c1" cx="347.5" cy="284.0" r="2.6"/><circle class="c38" cx="368.6" cy="270.2" r="2.6"/><circle class="c39" cx="358.0" cy="286.8" r="2.6"/><circle class="c1" cx="372.3" cy="266.9" r="2.6"/>
<circle class="c0" cx="359.4" cy="272.0" r="2.6"/><circle class="c0" cx="415.4" cy="279.3" r="2.6"/><circle class="c38" cx="403.2" cy="278.3" r="2.6"/><circle class="c2" cx="421.1" cy="280.2" r="2.6"/><circle class="c16" cx="363.3" cy="274.9" r="2.6"/><circle class="c2" cx="465.7" cy="280.0" r="2.6"/>
<circle class="c24" cx="381.2" cy="285.1" r="2.6"/><circle class="c9" cx="357.1" cy="282.4" r="2.6"/><circle class="c5" cx="365.3" cy="277.6" r="2.6"/><circle class="c15" cx="387.2" cy="274.0" r="2.6"/><circle class="c0" cx="373.8" cy="269.8" r="2.6"/><circle class="c39" cx="381.7" cy="272.6" r="2.6"/>
<circle class="c16" cx="344.3" cy="283.2" r="2.6"/><circle class="c39" cx="387.6" cy="277.7" r="2.6"/><circle class="c17" cx="368.2" cy="290.2" r="2.6"/><circle class="c1" cx="383.5" cy="277.6" r="2.6"/><circle class="c36" cx="372.0" cy="284.2" r="2.6"/><circle class="c10" cx="342.9" cy="277.0" r="2.6"/>
<circle class="c39" cx="366.2" cy="271.4" r="2.6"/><circle class="c8" cx="394.2" cy="276.3" r="2.6"/><circle class="c35" cx="358.5" cy="280.3" r="2.6"/><circle class="c15" cx="339.7" cy="281.9" r="2.6"/><circle class="c25" cx="381.5" cy="283.4" r="2.6"/><circle class="c35" cx="366.9" cy="281.9" r="2.6"/>
<circle class="c24" cx="373.1" cy="292.8" r="2.6"/><circle class="c37" cx="361.7" cy="271.6" r="2.6"/><circle class="c39" cx="369.2" cy="267.6" r="2.6"/><circle class="c27" cx="397.0" cy="282.4" r="2.6"/><circle class="c0" cx="346.8" cy="279.0" r="2.6"/><circle class="c1" cx="399.4" cy="282.0" r="2.6"/>
<circle class="c16" cx="363.4" cy="280.3" r="2.6"/><circle class="c13" cx="369.4" cy="288.1" r="2.6"/><circle class="c25" cx="370.1" cy="274.0" r="2.6"/><circle class="c17" cx="360.2" cy="278.9" r="2.6"/><circle class="c38" cx="383.7" cy="284.4" r="2.6"/><circle class="c16" cx="383.6" cy="286.9" r="2.6"/>
<circle class="c13" cx="365.7" cy="275.3" r="2.6"/><circle class="c9" cx="359.4" cy="274.4" r="2.6"/><circle class="c37" cx="343.8" cy="276.8" r="2.6"/><circle class="c27" cx="393.0" cy="276.2" r="2.6"/><circle class="c39" cx="370.6" cy="269.9" r="2.6"/><circle class="c1" cx="365.3" cy="279.6" r="2.6"/>
<circle class="c37" cx="370.6" cy="292.5" r="2.6"/><circle class="c1" cx="415.5" cy="280.6" r="2.6"/><circle class="c26" cx="360.7" cy="288.3" r="2.6"/><circle class="c8" cx="394.6" cy="281.4" r="2.6"/><circle class="c15" cx="376.2" cy="276.8" r="2.6"/><circle class="c39" cx="357.3" cy="280.1" r="2.6"/>
<circle class="c38" cx="379.7" cy="283.0" r="2.6"/><circle class="c2" cx="381.0" cy="274.4" r="2.6"/><circle class="c39" cx="350.8" cy="279.9" r="2.6"/><circle class="c39" cx="340.9" cy="279.9" r="2.6"/><circle class="c38" cx="372.4" cy="278.4" r="2.6"/><circle class="c37" cx="409.7" cy="279.0" r="2.6"/>
<circle class="c25" cx="361.9" cy="273.2" r="2.6"/><circle class="c2" cx="413.4" cy="279.1" r="2.6"/><circle class="c15" cx="375.4" cy="279.1" r="2.6"/><circle class="c27" cx="367.7" cy="272.9" r="2.6"/><circle class="c1" cx="376.8" cy="272.7" r="2.6"/><circle class="c13" cx="381.8" cy="280.9" r="2.6"/>
<circle class="c39" cx="344.4" cy="278.5" r="2.6"/><circle class="c38" cx="347.7" cy="282.1" r="2.6"/><circle class="c39" cx="328.4" cy="280.0" r="2.6"/><circle class="c23" cx="390.7" cy="277.7" r="2.6"/><circle class="c39" cx="386.2" cy="284.7" r="2.6"/><circle class="c3" cx="376.9" cy="288.9" r="2.6"/>
<circle class="c16" cx="371.6" cy="276.0" r="2.6"/><circle class="c17" cx="381.0" cy="276.9" r="2.6"/><circle class="c0" cx="389.0" cy="278.5" r="2.6"/><circle class="c17" cx="373.0" cy="281.3" r="2.6"/><circle class="c26" cx="345.4" cy="280.9" r="2.6"/><circle class="c9" cx="361.4" cy="275.3" r="2.6"/>
<circle class="c39" cx="352.6" cy="275.6" r="2.6"/><circle class="c39" cx="363.2" cy="289.7" r="2.6"/><circle class="c16" cx="337.5" cy="278.3" r="2.6"/><circle class="c23" cx="343.0" cy="282.9" r="2.6"/><circle class="c27" cx="341.8" cy="278.9" r="2.6"/><circle class="c1" cx="366.9" cy="277.9" r="2.6"/>
<circle class="c16" cx="338.5" cy="281.6" r="2.6"/><circle class="c9" cx="350.9" cy="284.5" r="2.6"/><circle class="c14" cx="391.0" cy="280.0" r="2.6"/><circle class="c24" cx="369.4" cy="281.0" r="2.6"/><circle class="c0" cx="399.1" cy="279.6" r="2.6"/><circle class="c26" cx="359.9" cy="276.3" r="2.6"/>
<circle class="c15" cx="347.6" cy="277.8" r="2.6"/><circle class="c15" cx="373.6" cy="290.9" r="2.6"/><circle class="c17" cx="347.7" cy="280.1" r="2.6"/><circle class="c23" cx="375.8" cy="285.8" r="2.6"/><circle class="c25" cx="389.1" cy="281.4" r="2.6"/><circle class="c25" cx="377.3" cy="279.7" r="2.6"/>
<circle class="c2" cx="369.9" cy="290.4" r="2.6"/><circle class="c1" cx="349.5" cy="280.2" r="2.6"/><circle class="c1" cx="372.1" cy="279.7" r="2.6"/><circle class="c10" cx="378.4" cy="275.4" r="2.6"/><circle class="c1" cx="375.0" cy="283.3" r="2.6"/><circle class="c25" cx="362.2" cy="273.2" r="2.6"/>
<circle class="c13" cx="379.2" cy="280.2" r="2.6"/><circle class="c39" cx="349.8" cy="284.2" r="2.6"/><circle class="c2" cx="364.4" cy="276.2" r="2.6"/><circle class="c8" cx="363.5" cy="282.2" r="2.6"/><circle class="c6" cx="345.7" cy="276.2" r="2.6"/><circle class="c17" cx="368.4" cy="280.9" r="2.6"/>
<circle class="c39" cx="387.4" cy="275.5" r="2.6"/><circle class="c8" cx="364.4" cy="272.1" r="2.6"/><circle class="c2" cx="379.5" cy="272.1" r="2.6"/><circle class="c26" cx="340.0" cy="279.7" r="2.6"/><circle class="c24" cx="352.4" cy="277.4" r="2.6"/><circle class="c17" cx="384.2" cy="283.4" r="2.6"/>
<circle class="c26" cx="357.4" cy="284.4" r="2.6"/><circle class="c25" cx="367.8" cy="275.2" r="2.6"/><circle class="c14" cx="344.1" cy="280.7" r="2.6"/><circle class="c8" cx="376.2" cy="272.4" r="2.6"/><circle class="c1" cx="446.5" cy="280.0" r="2.6"/><circle class="c36" cx="365.7" cy="273.0" r="2.6"/>
<circle class="c1" cx="377.1" cy="287.1" r="2.6"/><circle class="c27" cx="341.5" cy="277.3" r="2.6"/><circle class="c2" cx="407.9" cy="279.0" r="2.6"/><circle class="c39" cx="378.9" cy="273.4" r="2.6"/><circle class="c26" cx="391.2" cy="277.9" r="2.6"/><circle class="c1" cx="467.9" cy="280.0" r="2.6"/>
<circle class="c1" cx="368.0" cy="276.3" r="2.6"/><circle class="c1" cx="454.7" cy="280.0" r="2.6"/><circle class="c0" cx="354.1" cy="279.6" r="2.6"/><circle class="c2" cx="431.0" cy="280.2" r="2.6"/><circle class="c2" cx="374.4" cy="285.3" r="2.6"/><circle class="c16" cx="401.6" cy="278.2" r="2.6"/>
<circle class="c1" cx="455.6" cy="280.0" r="2.6"/><circle class="c25" cx="378.9" cy="271.3" r="2.6"/><circle class="c38" cx="372.7" cy="288.4" r="2.6"/><circle class="c15" cx="393.9" cy="283.5" r="2.6"/><circle class="c0" cx="417.5" cy="280.7" r="2.6"/><circle class="c8" cx="371.2" cy="271.6" r="2.6"/>
<circle class="c1" cx="405.9" cy="278.7" r="2.6"/><circle class="c10" cx="368.6" cy="285.7" r="2.6"/><circle class="c0" cx="411.3" cy="279.1" r="2.6"/><circle class="c24" cx="385.9" cy="274.9" r="2.6"/><circle class="c38" cx="379.9" cy="278.8" r="2.6"/><circle class="c1" cx="368.2" cy="288.0" r="2.6"/>
<circle class="c0" cx="427.1" cy="280.2" r="2.6"/><circle class="c2" cx="437.8" cy="279.9" r="2.6"/><circle class="c38" cx="352.4" cy="284.4" r="2.6"/><circle class="c16" cx="385.7" cy="287.2" r="2.6"/><circle class="c18" cx="359.2" cy="283.4" r="2.6"/><circle class="c17" cx="369.8" cy="267.5" r="2.6"/>
<circle class="c39" cx="377.2" cy="281.9" r="2.6"/><circle class="c39" cx="396.0" cy="283.2" r="2.6"/><circle class="c2" cx="368.9" cy="283.4" r="2.6"/><circle class="c26" cx="337.0" cy="280.8" r="2.6"/><circle class="c14" cx="371.1" cy="286.2" r="2.6"/><circle class="c37" cx="372.3" cy="283.2" r="2.6"/>
<circle class="c39" cx="332.2" cy="279.8" r="2.6"/><circle class="c1" cx="463.4" cy="280.0" r="2.6"/><circle class="c1" cx="422.4" cy="279.8" r="2.6"/><circle class="c17" cx="363.6" cy="288.0" r="2.6"/><circle class="c0" cx="416.1" cy="279.1" r="2.6"/><circle class="c36" cx="384.8" cy="271.9" r="2.6"/>
<circle class="c39" cx="373.9" cy="272.2" r="2.6"/><circle class="c25" cx="350.3" cy="277.7" r="2.6"/><circle class="c1" cx="388.8" cy="283.3" r="2.6"/><circle class="c2" cx="373.3" cy="269.3" r="2.6"/><circle class="c38" cx="403.6" cy="280.8" r="2.6"/><circle class="c38" cx="416.4" cy="280.2" r="2.6"/>
<circle class="c24" cx="383.8" cy="325.9" r="2.6"/><circle class="c3" cx="368.1" cy="310.0" r="2.6"/><circle class="c24" cx="373.7" cy="308.9" r="2.6"/><circle class="c4" cx="369.6" cy="309.1" r="2.6"/><circle class="c0" cx="348.5" cy="318.8" r="2.6"/><circle class="c25" cx="353.3" cy="317.9" r="2.6"/>
<circle class="c26" cx="350.1" cy="319.9" r="2.6"/><circle class="c25" cx="355.3" cy="324.4" r="2.6"/><circle class="c22" cx="404.6" cy="324.3" r="2.6"/><circle class="c22" cx="399.9" cy="317.7" r="2.6"/><circle class="c16" cx="401.5" cy="319.3" r="2.6"/><circle class="c36" cx="377.7" cy="319.2" r="2.6"/>
<circle class="c24" cx="377.6" cy="310.2" r="2.6"/><circle class="c25" cx="391.5" cy="325.6" r="2.6"/><circle class="c11" cx="364.6" cy="313.4" r="2.6"/><circle class="c0" cx="347.9" cy="317.0" r="2.6"/><circle class="c16" cx="361.9" cy="320.4" r="2.6"/><circle class="c3" cx="345.7" cy="323.2" r="2.6"/>
<circle class="c23" cx="375.8" cy="310.7" r="2.6"/><circle class="c11" cx="361.7" cy="324.8" r="2.6"/><circle class="c23" cx="388.4" cy="311.8" r="2.6"/><circle class="c1" cx="361.8" cy="322.6" r="2.6"/><circle class="c17" cx="394.9" cy="311.6" r="2.6"/><circle class="c13" cx="380.8" cy="314.3" r="2.6"/>
<circle class="c37" cx="393.5" cy="319.8" r="2.6"/><circle class="c16" cx="402.5" cy="316.6" r="2.6"/><circle class="c39" cx="387.2" cy="328.7" r="2.6"/><circle class="c39" cx="391.5" cy="321.0" r="2.6"/><circle class="c24" cx="384.4" cy="324.0" r="2.6"/><circle class="c27" cx="359.2" cy="314.1" r="2.6"/>
<circle class="c1" cx="345.5" cy="312.5" r="2.6"/><circle class="c15" cx="385.6" cy="307.3" r="2.6"/><circle class="c23" cx="396.6" cy="328.1" r="2.6"/><circle class="c24" cx="398.3" cy="327.8" r="2.6"/><circle class="c23" cx="397.0" cy="312.1" r="2.6"/><circle class="c23" cx="400.2" cy="311.8" r="2.6"/>
<circle class="c23" cx="389.6" cy="315.6" r="2.6"/><circle class="c15" cx="380.1" cy="328.4" r="2.6"/><circle class="c16" cx="421.5" cy="318.8" r="2.6"/><circle class="c2" cx="342.7" cy="321.8" r="2.6"/><circle class="c24" cx="365.1" cy="315.8" r="2.6"/><circle class="c15" cx="371.4" cy="317.8" r="2.6"/>
<circle class="c14" cx="356.2" cy="315.6" r="2.6"/><circle class="c22" cx="394.8" cy="324.2" r="2.6"/><circle class="c24" cx="401.0" cy="319.0" r="2.6"/><circle class="c17" cx="404.5" cy="319.1" r="2.6"/><circle class="c28" cx="352.7" cy="324.3" r="2.6"/><circle class="c23" cx="384.4" cy="307.5" r="2.6"/>
<circle class="c2" cx="363.5" cy="313.5" r="2.6"/><circle class="c12" cx="377.1" cy="330.0" r="2.6"/><circle class="c38" cx="385.8" cy="326.4" r="2.6"/><circle class="c21" cx="395.8" cy="319.2" r="2.6"/><circle class="c13" cx="408.0" cy="322.4" r="2.6"/><circle class="c16" cx="369.9" cy="311.8" r="2.6"/>
<circle class="c26" cx="370.3" cy="314.6" r="2.6"/><circle class="c14" cx="404.3" cy="317.7" r="2.6"/><circle class="c16" cx="354.0" cy="314.1" r="2.6"/><circle class="c14" cx="390.5" cy="328.1" r="2.6"/><circle class="c38" cx="397.3" cy="313.3" r="2.6"/><circle class="c15" cx="387.9" cy="307.3" r="2.6"/>
<circle class="c23" cx="369.9" cy="316.3" r="2.6"/><circle class="c21" cx="382.5" cy="318.7" r="2.6"/><circle class="c6" cx="383.7" cy="310.1" r="2.6"/><circle class="c21" cx="407.3" cy="319.8" r="2.6"/><circle class="c14" cx="368.9" cy="316.5" r="2.6"/><circle class="c17" cx="386.7" cy="316.4" r="2.6"/>
<circle class="c4" cx="382.3" cy="310.0" r="2.6"/><circle class="c2" cx="340.4" cy="322.3" r="2.6"/><circle class="c14" cx="384.6" cy="312.3" r="2.6"/><circle class="c14" cx="364.2" cy="327.7" r="2.6"/><circle class="c2" cx="354.9" cy="316.2" r="2.6"/><circle class="c23" cx="387.4" cy="309.3" r="2.6"/>
<circle class="c24" cx="374.0" cy="324.7" r="2.6"/><circle class="c2" cx="386.0" cy="330.4" r="2.6"/><circle class="c0" cx="343.2" cy="320.4" r="2.6"/><circle class="c25" cx="386.8" cy="328.2" r="2.6"/><circle class="c2" cx="342.8" cy="317.8" r="2.6"/><circle class="c16" cx="415.4" cy="320.3" r="2.6"/>
<circle class="c38" cx="350.4" cy="314.0" r="2.6"/><circle class="c5" cx="376.2" cy="329.5" r="2.6"/><circle class="c24" cx="384.1" cy="316.4" r="2.6"/><circle class="c27" cx="362.5" cy="324.7" r="2.6"/><circle class="c16" cx="401.0" cy="321.6" r="2.6"/><circle class="c16" cx="372.9" cy="328.9" r="2.6"/>
<circle class="c22" cx="384.5" cy="326.4" r="2.6"/><circle class="c14" cx="393.3" cy="309.2" r="2.6"/><circle class="c14" cx="383.7" cy="323.4" r="2.6"/><circle class="c0" cx="373.4" cy="315.4" r="2.6"/><circle class="c16" cx="391.8" cy="310.6" r="2.6"/><circle class="c14" cx="406.5" cy="321.0" r="2.6"/>
<circle class="c13" cx="354.1" cy="326.1" r="2.6"/><circle class="c39" cx="392.9" cy="324.8" r="2.6"/><circle class="c13" cx="398.2" cy="322.6" r="2.6"/><circle class="c23" cx="392.6" cy="329.6" r="2.6"/><circle class="c23" cx="368.9" cy="318.7" r="2.6"/><circle class="c0" cx="354.9" cy="322.1" r="2.6"/>
<circle class="c3" cx="382.3" cy="317.1" r="2.6"/><circle class="c25" cx="349.9" cy="316.1" r="2.6"/><circle class="c16" cx="391.1" cy="307.4" r="2.6"/><circle class="c16" cx="371.6" cy="316.0" r="2.6"/><circle class="c13" cx="377.6" cy="327.8" r="2.6"/><circle class="c14" cx="396.0" cy="310.1" r="2.6"/>
<circle class="c28" cx="355.4" cy="322.5" r="2.6"/><circle class="c1" cx="371.2" cy="329.2" r="2.6"/><circle class="c15" cx="402.7" cy="312.8" r="2.6"/><circle class="c0" cx="346.4" cy="316.9" r="2.6"/><circle class="c3" cx="345.0" cy="325.4" r="2.6"/><circle class="c29" cx="351.9" cy="324.4" r="2.6"/>
<circle class="c24" cx="371.9" cy="320.5" r="2.6"/><circle class="c39" cx="393.5" cy="329.1" r="2.6"/><circle class="c39" cx="390.7" cy="323.7" r="2.6"/><circle class="c15" cx="403.9" cy="315.6" r="2.6"/><circle class="c39" cx="397.9" cy="310.7" r="2.6"/><circle class="c0" cx="346.4" cy="319.2" r="2.6"/>
<circle class="c17" cx="372.1" cy="326.4" r="2.6"/><circle class="c14" cx="373.3" cy="326.9" r="2.6"/><circle class="c18" cx="413.4" cy="317.5" r="2.6"/><circle class="c31" cx="347.1" cy="323.7" r="2.6"/><circle class="c16" cx="409.1" cy="320.2" r="2.6"/><circle class="c19" cx="399.9" cy="315.7" r="2.6"/>
<circle class="c36" cx="385.7" cy="311.8" r="2.6"/><circle class="c1" cx="347.0" cy="314.7" r="2.6"/><circle class="c15" cx="393.9" cy="322.2" r="2.6"/><circle class="c3" cx="341.4" cy="323.3" r="2.6"/><circle class="c14" cx="406.0" cy="314.8" r="2.6"/><circle class="c28" cx="342.9" cy="313.8" r="2.6"/>
<circle class="c3" cx="375.1" cy="329.4" r="2.6"/><circle class="c38" cx="357.0" cy="313.6" r="2.6"/><circle class="c14" cx="373.5" cy="313.4" r="2.6"/><circle class="c23" cx="365.3" cy="313.0" r="2.6"/><circle class="c24" cx="385.4" cy="321.3" r="2.6"/><circle class="c2" cx="340.9" cy="316.8" r="2.6"/>
<circle class="c14" cx="383.7" cy="328.0" r="2.6"/><circle class="c25" cx="371.7" cy="324.5" r="2.6"/><circle class="c18" cx="420.1" cy="318.5" r="2.6"/><circle class="c14" cx="374.0" cy="311.2" r="2.6"/><circle class="c25" cx="371.0" cy="313.9" r="2.6"/><circle class="c25" cx="388.7" cy="320.5" r="2.6"/>
<circle class="c38" cx="351.9" cy="311.8" r="2.6"/><circle class="c25" cx="383.4" cy="318.8" r="2.6"/><circle class="c24" cx="379.2" cy="321.4" r="2.6"/><circle class="c39" cx="395.5" cy="318.1" r="2.6"/><circle class="c14" cx="376.1" cy="312.5" r="2.6"/><circle class="c2" cx="376.2" cy="317.3" r="2.6"/>
<circle class="c11" cx="375.5" cy="308.2" r="2.6"/><circle class="c24" cx="381.5" cy="326.0" r="2.6"/><circle class="c2" cx="364.1" cy="322.6" r="2.6"/><circle class="c24" cx="374.4" cy="327.3" r="2.6"/><circle class="c3" cx="373.6" cy="320.4" r="2.6"/><circle class="c4" cx="350.6" cy="326.5" r="2.6"/>
<circle class="c27" cx="346.7" cy="326.3" r="2.6"/><circle class="c14" cx="399.7" cy="320.1" r="2.6"/><circle class="c0" cx="342.3" cy="323.9" r="2.6"/><circle class="c18" cx="412.3" cy="320.9" r="2.6"/><circle class="c38" cx="378.2" cy="323.6" r="2.6"/><circle class="c21" cx="398.4" cy="320.6" r="2.6"/>
<circle class="c0" cx="341.6" cy="314.9" r="2.6"/><circle class="c24" cx="368.6" cy="312.1" r="2.6"/><circle class="c16" cx="391.6" cy="318.9" r="2.6"/><circle class="c14" cx="356.7" cy="311.4" r="2.6"/><circle class="c22" cx="382.8" cy="330.6" r="2.6"/><circle class="c25" cx="370.8" cy="325.8" r="2.6"/>
<circle class="c23" cx="379.8" cy="312.6" r="2.6"/><circle class="c36" cx="359.3" cy="320.3" r="2.6"/><circle class="c14" cx="401.0" cy="326.4" r="2.6"/><circle class="c39" cx="390.3" cy="312.3" r="2.6"/><circle class="c26" cx="378.7" cy="319.3" r="2.6"/><circle class="c15" cx="376.0" cy="319.1" r="2.6"/>
<circle class="c15" cx="378.4" cy="328.3" r="2.6"/><circle class="c4" cx="378.2" cy="317.1" r="2.6"/><circle class="c24" cx="389.2" cy="327.0" r="2.6"/><circle class="c13" cx="357.4" cy="322.1" r="2.6"/><circle class="c2" cx="347.4" cy="321.4" r="2.6"/><circle class="c15" cx="352.4" cy="311.8" r="2.6"/>
<circle class="c23" cx="367.5" cy="326.0" r="2.6"/><circle class="c16" cx="410.8" cy="316.2" r="2.6"/><circle class="c26" cx="351.2" cy="322.1" r="2.6"/><circle class="c26" cx="366.9" cy="319.2" r="2.6"/><circle class="c1" cx="339.6" cy="317.6" r="2.6"/><circle class="c16" cx="417.9" cy="319.9" r="2.6"/>
<circle class="c16" cx="394.2" cy="322.0" r="2.6"/><circle class="c38" cx="365.7" cy="323.4" r="2.6"/><circle class="c13" cx="386.6" cy="324.1" r="2.6"/><circle class="c35" cx="365.7" cy="325.1" r="2.6"/><circle class="c17" cx="391.9" cy="312.9" r="2.6"/><circle class="c0" cx="353.5" cy="326.5" r="2.6"/>
<circle class="c15" cx="392.6" cy="314.9" r="2.6"/><circle class="c17" cx="407.9" cy="317.9" r="2.6"/><circle class="c16" cx="375.5" cy="323.1" r="2.6"/><circle class="c24" cx="388.7" cy="328.4" r="2.6"/><circle class="c0" cx="336.3" cy="317.2" r="2.6"/><circle class="c24" cx="377.4" cy="321.1" r="2.6"/>
<circle class="c3" cx="385.2" cy="330.6" r="2.6"/><circle class="c14" cx="402.0" cy="323.0" r="2.6"/><circle class="c18" cx="389.6" cy="307.1" r="2.6"/><circle class="c14" cx="403.9" cy="313.8" r="2.6"/><circle class="c15" cx="390.2" cy="330.1" r="2.6"/><circle class="c17" cx="396.0" cy="314.4" r="2.6"/>
<circle class="c24" cx="360.4" cy="321.9" r="2.6"/><circle class="c0" cx="343.7" cy="318.1" r="2.6"/><circle class="c16" cx="399.7" cy="324.6" r="2.6"/><circle class="c39" cx="400.1" cy="323.4" r="2.6"/><circle class="c37" cx="367.8" cy="327.9" r="2.6"/><circle class="c22" cx="388.0" cy="312.3" r="2.6"/>
<circle class="c25" cx="385.8" cy="319.1" r="2.6"/><circle class="c14" cx="356.9" cy="318.0" r="2.6"/><circle class="c0" cx="345.0" cy="321.1" r="2.6"/><circle class="c9" cx="347.9" cy="314.6" r="2.6"/><circle class="c15" cx="390.1" cy="317.0" r="2.6"/><circle class="c38" cx="372.7" cy="317.6" r="2.6"/>
<circle class="c1" cx="378.9" cy="317.0" r="2.6"/><circle class="c13" cx="355.0" cy="324.6" r="2.6"/><circle class="c2" cx="360.3" cy="316.3" r="2.6"/><circle class="c0" cx="356.3" cy="326.6" r="2.6"/><circle class="c0" cx="349.5" cy="322.0" r="2.6"/><circle class="c12" cx="376.3" cy="321.5" r="2.6"/>
<circle class="c26" cx="362.5" cy="327.3" r="2.6"/><circle class="c26" cx="364.0" cy="311.0" r="2.6"/><circle class="c22" cx="395.4" cy="314.0" r="2.6"/><circle class="c37" cx="392.8" cy="313.7" r="2.6"/><circle class="c13" cx="382.0" cy="330.6" r="2.6"/><circle class="c16" cx="418.6" cy="318.3" r="2.6"/>
<circle class="c23" cx="396.3" cy="325.9" r="2.6"/><circle class="c25" cx="381.0" cy="321.1" r="2.6"/><circle class="c24" cx="367.9" cy="316.9" r="2.6"/><circle class="c14" cx="396.6" cy="316.4" r="2.6"/><circle class="c23" cx="385.2" cy="328.5" r="2.6"/><circle class="c17" cx="409.5" cy="318.2" r="2.6"/>
<circle class="c39" cx="396.1" cy="323.5" r="2.6"/><circle class="c24" cx="374.2" cy="308.5" r="2.6"/><circle class="c37" cx="365.6" cy="310.3" r="2.6"/><circle class="c36" cx="350.3" cy="311.5" r="2.6"/><circle class="c15" cx="388.1" cy="314.6" r="2.6"/><circle class="c35" cx="386.1" cy="309.6" r="2.6"/>
<circle class="c0" cx="360.1" cy="317.9" r="2.6"/><circle class="c2" cx="357.2" cy="319.8" r="2.6"/><circle class="c14" cx="368.3" cy="327.9" r="2.6"/><circle class="c25" cx="354.3" cy="320.0" r="2.6"/><circle class="c1" cx="336.8" cy="320.8" r="2.6"/><circle class="c13" cx="383.6" cy="321.2" r="2.6"/>
<circle class="c20" cx="408.3" cy="315.4" r="2.6"/><circle class="c0" cx="360.3" cy="326.4" r="2.6"/><circle class="c17" cx="390.4" cy="325.9" r="2.6"/><circle class="c3" cx="364.0" cy="318.0" r="2.6"/><circle class="c22" cx="370.8" cy="328.8" r="2.6"/><circle class="c39" cx="388.6" cy="309.2" r="2.6"/>
<circle class="c13" cx="373.3" cy="322.3" r="2.6"/><circle class="c15" cx="403.4" cy="324.9" r="2.6"/><circle class="c2" cx="370.3" cy="318.7" r="2.6"/><circle class="c2" cx="359.9" cy="320.0" r="2.6"/><circle class="c16" cx="391.6" cy="308.4" r="2.6"/><circle class="c14" cx="367.2" cy="314.3" r="2.6"/>
<circle class="c37" cx="377.7" cy="314.8" r="2.6"/><circle class="c21" cx="391.2" cy="309.8" r="2.6"/><circle class="c25" cx="355.5" cy="318.4" r="2.6"/><circle class="c24" cx="364.5" cy="320.1" r="2.6"/><circle class="c12" cx="408.7" cy="316.2" r="2.6"/><circle class="c14" cx="409.9" cy="322.1" r="2.6"/>
<circle class="c16" cx="376.0" cy="314.9" r="2.6"/><circle class="c36" cx="360.3" cy="313.9" r="2.6"/><circle class="c15" cx="395.8" cy="321.7" r="2.6"/><circle class="c27" cx="351.7" cy="315.6" r="2.6"/><circle class="c17" cx="387.6" cy="316.6" r="2.6"/><circle class="c22" cx="388.7" cy="324.6" r="2.6"/>
<circle class="c24" cx="364.1" cy="324.9" r="2.6"/><circle class="c14" cx="351.3" cy="319.8" r="2.6"/><circle class="c22" cx="382.8" cy="316.5" r="2.6"/><circle class="c22" cx="375.7" cy="325.8" r="2.6"/><circle class="c1" cx="343.8" cy="315.6" r="2.6"/><circle class="c23" cx="369.3" cy="321.2" r="2.6"/>
<circle class="c24" cx="367.0" cy="310.6" r="2.6"/><circle class="c0" cx="337.7" cy="321.3" r="2.6"/><circle class="c13" cx="369.9" cy="321.6" r="2.6"/><circle class="c27" cx="354.7" cy="318.0" r="2.6"/><circle class="c2" cx="352.2" cy="316.3" r="2.6"/><circle class="c15" cx="387.2" cy="325.9" r="2.6"/>
<circle class="c17" cx="412.7" cy="318.7" r="2.6"/><circle class="c1" cx="344.8" cy="324.5" r="2.6"/><circle class="c21" cx="406.9" cy="323.0" r="2.6"/><circle class="c24" cx="367.7" cy="312.8" r="2.6"/><circle class="c15" cx="383.6" cy="314.6" r="2.6"/><circle class="c24" cx="380.9" cy="316.8" r="2.6"/>
<circle class="c0" cx="351.0" cy="326.5" r="2.6"/><circle class="c14" cx="352.5" cy="313.9" r="2.6"/><circle class="c14" cx="353.8" cy="311.5" r="2.6"/><circle class="c14" cx="387.3" cy="321.3" r="2.6"/><circle class="c26" cx="390.3" cy="318.9" r="2.6"/><circle class="c5" cx="382.3" cy="312.2" r="2.6"/>
<circle class="c2" cx="352.8" cy="321.8" r="2.6"/><circle class="c15" cx="379.9" cy="330.7" r="2.6"/><circle class="c14" cx="381.8" cy="321.0" r="2.6"/><circle class="c35" cx="362.8" cy="318.2" r="2.6"/><circle class="c27" cx="359.0" cy="324.0" r="2.6"/><circle class="c17" cx="405.3" cy="321.8" r="2.6"/>
<circle class="c36" cx="366.1" cy="327.7" r="2.6"/><circle class="c24" cx="387.8" cy="318.7" r="2.6"/><circle class="c2" cx="375.3" cy="317.6" r="2.6"/><circle class="c17" cx="384.3" cy="314.5" r="2.6"/><circle class="c15" cx="404.4" cy="316.9" r="2.6"/><circle class="c0" cx="341.3" cy="321.0" r="2.6"/>
<circle class="c23" cx="368.0" cy="321.1" r="2.6"/><circle class="c3" cx="344.7" cy="320.6" r="2.6"/><circle class="c15" cx="403.8" cy="322.8" r="2.6"/><circle class="c15" cx="400.1" cy="314.5" r="2.6"/><circle class="c14" cx="416.9" cy="320.3" r="2.6"/><circle class="c15" cx="415.8" cy="317.8" r="2.6"/>
<circle class="c26" cx="360.9" cy="313.4" r="2.6"/><circle class="c14" cx="386.1" cy="321.1" r="2.6"/><circle class="c39" cx="390.9" cy="321.0" r="2.6"/><circle class="c38" cx="383.0" cy="312.1" r="2.6"/><circle class="c17" cx="404.7" cy="314.3" r="2.6"/><circle class="c15" cx="400.7" cy="316.4" r="2.6"/>
<circle class="c38" cx="362.8" cy="315.8" r="2.6"/><circle class="c38" cx="381.0" cy="307.7" r="2.6"/><circle class="c3" cx="377.8" cy="308.1" r="2.6"/><circle class="c2" cx="356.7" cy="324.3" r="2.6"/><circle class="c11" cx="350.0" cy="317.6" r="2.6"/><circle class="c14" cx="395.5" cy="309.6" r="2.6"/>
<circle class="c21" cx="379.8" cy="318.7" r="2.6"/><circle class="c37" cx="380.9" cy="323.6" r="2.6"/><circle class="c1" cx="360.0" cy="311.8" r="2.6"/><circle class="c37" cx="377.2" cy="312.3" r="2.6"/><circle class="c23" cx="393.1" cy="317.7" r="2.6"/><circle class="c15" cx="389.1" cy="322.1" r="2.6"/>
<circle class="c15" cx="407.1" cy="318.7" r="2.6"/><circle class="c10" cx="388.9" cy="313.6" r="2.6"/><circle class="c12" cx="357.3" cy="326.7" r="2.6"/><circle class="c26" cx="381.9" cy="314.2" r="2.6"/><circle class="c13" cx="368.5" cy="314.8" r="2.6"/><circle class="c22" cx="363.7" cy="322.2" r="2.6"/>
<circle class="c27" cx="355.7" cy="314.1" r="2.6"/><circle class="c14" cx="382.5" cy="328.2" r="2.6"/><circle class="c23" cx="366.2" cy="315.1" r="2.6"/><circle class="c1" cx="342.1" cy="315.7" r="2.6"/><circle class="c24" cx="378.8" cy="323.4" r="2.6"/><circle class="c36" cx="358.7" cy="311.6" r="2.6"/>
<circle class="c15" cx="388.2" cy="330.8" r="2.6"/><circle class="c2" cx="361.7" cy="311.5" r="2.6"/><circle class="c17" cx="413.8" cy="320.6" r="2.6"/><circle class="c0" cx="346.6" cy="312.5" r="2.6"/><circle class="c3" cx="348.5" cy="321.9" r="2.6"/><circle class="c15" cx="373.4" cy="325.0" r="2.6"/>
<circle class="c25" cx="399.9" cy="326.7" r="2.6"/><circle class="c14" cx="389.3" cy="318.3" r="2.6"/><circle class="c39" cx="388.1" cy="323.4" r="2.6"/><circle class="c37" cx="379.6" cy="307.6" r="2.6"/><circle class="c16" cx="397.9" cy="325.0" r="2.6"/><circle class="c25" cx="358.9" cy="318.3" r="2.6"/>
<circle class="c10" cx="344.7" cy="322.3" r="2.6"/><circle class="c1" cx="337.8" cy="316.4" r="2.6"/><circle class="c26" cx="359.9" cy="324.6" r="2.6"/><circle class="c27" cx="360.9" cy="326.6" r="2.6"/><circle class="c13" cx="375.9" cy="327.4" r="2.6"/><circle class="c15" cx="397.7" cy="315.5" r="2.6"/>
<circle class="c35" cx="406.8" cy="317.3" r="2.6"/><circle class="c2" cx="345.1" cy="317.2" r="2.6"/><circle class="c13" cx="357.9" cy="315.9" r="2.6"/><circle class="c14" cx="370.1" cy="324.0" r="2.6"/><circle class="c23" cx="383.9" cy="307.3" r="2.6"/><circle class="c16" cx="380.1" cy="309.9" r="2.6"/>
<circle class="c25" cx="374.8" cy="315.6" r="2.6"/><circle class="c14" cx="412.0" cy="317.2" r="2.6"/><circle class="c14" cx="372.4" cy="308.9" r="2.6"/><circle class="c20" cx="399.5" cy="322.2" r="2.6"/><circle class="c13" cx="359.0" cy="322.5" r="2.6"/><circle class="c24" cx="378.5" cy="325.6" r="2.6"/>
<circle class="c37" cx="386.6" cy="314.3" r="2.6"/><circle class="c3" cx="379.0" cy="330.5" r="2.6"/><circle class="c15" cx="366.1" cy="317.1" r="2.6"/><circle class="c13" cx="411.4" cy="318.9" r="2.6"/><circle class="c15" cx="351.5" cy="314.2" r="2.6"/><circle class="c13" cx="380.6" cy="326.0" r="2.6"/>
<circle class="c24" cx="392.4" cy="317.2" r="2.6"/><circle class="c16" cx="373.3" cy="311.0" r="2.6"/><circle class="c14" cx="365.9" cy="319.4" r="2.6"/><circle class="c15" cx="374.3" cy="322.8" r="2.6"/><circle class="c1" cx="344.3" cy="313.2" r="2.6"/><circle class="c14" cx="378.7" cy="310.1" r="2.6"/>
<circle class="c23" cx="378.6" cy="312.4" r="2.6"/><circle class="c0" cx="345.5" cy="314.4" r="2.6"/><circle class="c35" cx="382.5" cy="323.7" r="2.6"/><circle class="c24" cx="395.0" cy="328.9" r="2.6"/><circle class="c16" cx="394.7" cy="326.5" r="2.6"/><circle class="c0" cx="348.5" cy="326.1" r="2.6"/>
<circle class="c0" cx="341.2" cy="318.8" r="2.6"/><circle class="c13" cx="402.6" cy="320.9" r="2.6"/><circle class="c25" cx="394.8" cy="319.8" r="2.6"/><circle class="c16" cx="369.3" cy="325.9" r="2.6"/><circle class="c16" cx="403.9" cy="320.3" r="2.6"/><circle class="c1" cx="374.1" cy="313.3" r="2.6"/>
<circle class="c16" cx="397.9" cy="318.1" r="2.6"/><circle class="c39" cx="371.3" cy="322.1" r="2.6"/><circle class="c16" cx="401.7" cy="325.6" r="2.6"/><circle class="c14" cx="369.3" cy="323.5" r="2.6"/><circle class="c0" cx="358.7" cy="316.2" r="2.6"/><circle class="c14" cx="355.9" cy="320.5" r="2.6"/>
<circle class="c39" cx="391.2" cy="314.3" r="2.6"/><circle class="c10" cx="348.7" cy="323.5" r="2.6"/><circle class="c18" cx="401.6" cy="314.5" r="2.6"/><circle class="c28" cx="361.8" cy="317.7" r="2.6"/><circle class="c21" cx="395.1" cy="315.6" r="2.6"/><circle class="c22" cx="399.4" cy="313.8" r="2.6"/>
<circle class="c0" cx="339.3" cy="315.3" r="2.6"/><circle class="c25" cx="384.3" cy="319.3" r="2.6"/><circle class="c25" cx="362.1" cy="316.0" r="2.6"/><circle class="c2" cx="350.4" cy="324.4" r="2.6"/><circle class="c1" cx="371.9" cy="311.5" r="2.6"/><circle class="c38" cx="393.1" cy="315.5" r="2.6"/>
<circle class="c10" cx="351.7" cy="318.3" r="2.6"/><circle class="c26" cx="363.2" cy="310.8" r="2.6"/><circle class="c16" cx="391.4" cy="327.4" r="2.6"/><circle class="c25" cx="385.4" cy="310.0" r="2.6"/><circle class="c1" cx="348.1" cy="312.0" r="2.6"/><circle class="c15" cx="410.7" cy="321.8" r="2.6"/>
<circle class="c13" cx="377.8" cy="325.4" r="2.6"/><circle class="c26" cx="355.9" cy="311.9" r="2.6"/><circle class="c0" cx="340.1" cy="320.5" r="2.6"/><circle class="c16" cx="391.7" cy="323.6" r="2.6"/><circle class="c15" cx="420.0" cy="319.6" r="2.6"/><circle class="c13" cx="366.2" cy="321.1" r="2.6"/>
<circle class="c38" cx="382.0" cy="307.7" r="2.6"/><circle class="c23" cx="389.0" cy="331.0" r="2.6"/><circle class="c23" cx="374.5" cy="320.1" r="2.6"/><circle class="c0" cx="338.9" cy="318.7" r="2.6"/><circle class="c15" cx="352.9" cy="320.4" r="2.6"/><circle class="c22" cx="393.0" cy="326.8" r="2.6"/>
<circle class="c2" cx="346.1" cy="319.1" r="2.6"/><circle class="c15" cx="378.7" cy="314.2" r="2.6"/><circle class="c12" cx="399.3" cy="311.2" r="2.6"/><circle class="c15" cx="416.3" cy="317.8" r="2.6"/><circle class="c27" cx="358.6" cy="326.4" r="2.6"/><circle class="c2" cx="363.4" cy="319.9" r="2.6"/>
<circle class="c15" cx="368.0" cy="323.6" r="2.6"/><circle class="c25" cx="394.1" cy="311.0" r="2.6"/><circle class="c2" cx="474.0" cy="358.2" r="2.6"/><circle class="c11" cx="384.4" cy="368.4" r="2.6"/><circle class="c19" cx="368.9" cy="356.3" r="2.6"/><circle class="c17" cx="383.8" cy="352.5" r="2.6"/>
<circle class="c1" cx="413.5" cy="356.0" r="2.6"/><circle class="c16" cx="378.4" cy="353.2" r="2.6"/><circle class="c16" cx="375.3" cy="361.1" r="2.6"/><circle class="c13" cx="388.1" cy="356.0" r="2.6"/><circle class="c2" cx="423.2" cy="359.4" r="2.6"/><circle class="c27" cx="345.7" cy="355.9" r="2.6"/>
<circle class="c0" cx="419.2" cy="356.0" r="2.6"/><circle class="c13" cx="386.1" cy="358.1" r="2.6"/><circle class="c39" cx="328.2" cy="358.1" r="2.6"/><circle class="c15" cx="389.9" cy="365.7" r="2.6"/><circle class="c23" cx="380.8" cy="355.8" r="2.6"/><circle class="c16" cx="398.4" cy="357.9" r="2.6"/>
<circle class="c0" cx="416.5" cy="358.3" r="2.6"/><circle class="c18" cx="385.2" cy="354.6" r="2.6"/><circle class="c0" cx="408.4" cy="359.2" r="2.6"/><circle class="c5" cx="393.4" cy="354.6" r="2.6"/><circle class="c38" cx="341.5" cy="356.1" r="2.6"/><circle class="c13" cx="395.2" cy="355.4" r="2.6"/>
<circle class="c29" cx="363.6" cy="356.6" r="2.6"/><circle class="c20" cx="384.3" cy="361.9" r="2.6"/><circle class="c38" cx="343.5" cy="356.5" r="2.6"/><circle class="c9" cx="430.3" cy="357.3" r="2.6"/><circle class="c27" cx="355.6" cy="359.8" r="2.6"/><circle class="c23" cx="383.8" cy="365.9" r="2.6"/>
<circle class="c14" cx="396.3" cy="360.0" r="2.6"/><circle class="c16" cx="386.0" cy="346.9" r="2.6"/><circle class="c22" cx="365.1" cy="359.7" r="2.6"/><circle class="c18" cx="376.0" cy="356.8" r="2.6"/><circle class="c11" cx="386.2" cy="369.3" r="2.6"/><circle class="c18" cx="386.1" cy="364.7" r="2.6"/>
<circle class="c15" cx="384.2" cy="356.8" r="2.6"/><circle class="c16" cx="395.6" cy="357.9" r="2.6"/><circle class="c17" cx="388.9" cy="351.0" r="2.6"/><circle class="c39" cx="352.7" cy="355.9" r="2.6"/><circle class="c18" cx="379.2" cy="353.5" r="2.6"/><circle class="c35" cx="357.4" cy="358.4" r="2.6"/>
<circle class="c16" cx="385.8" cy="370.4" r="2.6"/><circle class="c9" cx="427.5" cy="359.2" r="2.6"/><circle class="c15" cx="383.8" cy="354.9" r="2.6"/><circle class="c15" cx="384.9" cy="347.9" r="2.6"/><circle class="c18" cx="380.8" cy="360.6" r="2.6"/><circle class="c3" cx="417.3" cy="356.1" r="2.6"/>
<circle class="c34" cx="354.1" cy="360.7" r="2.6"/><circle class="c25" cx="357.7" cy="360.1" r="2.6"/><circle class="c11" cx="402.3" cy="356.9" r="2.6"/><circle class="c11" cx="391.9" cy="356.1" r="2.6"/><circle class="c10" cx="428.8" cy="358.9" r="2.6"/><circle class="c23" cx="389.9" cy="355.7" r="2.6"/>
<circle class="c39" cx="353.9" cy="358.2" r="2.6"/><circle class="c39" cx="329.5" cy="358.1" r="2.6"/><circle class="c38" cx="348.2" cy="357.9" r="2.6"/><circle class="c2" cx="407.9" cy="357.2" r="2.6"/><circle class="c10" cx="454.7" cy="358.2" r="2.6"/><circle class="c21" cx="368.4" cy="359.7" r="2.6"/>
<circle class="c26" cx="371.8" cy="355.9" r="2.6"/><circle class="c21" cx="385.9" cy="363.5" r="2.6"/><circle class="c26" cx="347.2" cy="360.1" r="2.6"/><circle class="c28" cx="345.4" cy="360.6" r="2.6"/><circle class="c15" cx="376.0" cy="354.4" r="2.6"/><circle class="c16" cx="378.9" cy="364.7" r="2.6"/>
<circle class="c14" cx="378.5" cy="361.1" r="2.6"/><circle class="c8" cx="432.8" cy="359.0" r="2.6"/><circle class="c11" cx="390.4" cy="361.2" r="2.6"/><circle class="c24" cx="374.6" cy="356.8" r="2.6"/><circle class="c16" cx="373.6" cy="358.4" r="2.6"/><circle class="c15" cx="381.8" cy="360.1" r="2.6"/>
<circle class="c4" cx="403.5" cy="357.2" r="2.6"/><circle class="c13" cx="393.5" cy="361.4" r="2.6"/><circle class="c25" cx="370.4" cy="358.0" r="2.6"/><circle class="c17" cx="390.5" cy="357.0" r="2.6"/><circle class="c2" cx="406.5" cy="357.5" r="2.6"/><circle class="c23" cx="382.0" cy="366.9" r="2.6"/>
<circle class="c17" cx="378.6" cy="363.0" r="2.6"/><circle class="c21" cx="381.9" cy="362.8" r="2.6"/><circle class="c24" cx="380.5" cy="362.9" r="2.6"/><circle class="c22" cx="380.7" cy="348.6" r="2.6"/><circle class="c21" cx="385.1" cy="352.7" r="2.6"/><circle class="c3" cx="419.2" cy="358.5" r="2.6"/>
<circle class="c21" cx="382.6" cy="369.5" r="2.6"/><circle class="c37" cx="333.2" cy="358.2" r="2.6"/><circle class="c32" cx="350.5" cy="357.9" r="2.6"/><circle class="c17" cx="375.6" cy="355.1" r="2.6"/><circle class="c39" cx="340.1" cy="359.8" r="2.6"/><circle class="c22" cx="387.9" cy="358.2" r="2.6"/>
<circle class="c37" cx="349.2" cy="356.1" r="2.6"/><circle class="c14" cx="392.6" cy="362.0" r="2.6"/><circle class="c0" cx="420.8" cy="356.6" r="2.6"/><circle class="c17" cx="393.3" cy="359.6" r="2.6"/><circle class="c12" cx="396.3" cy="358.0" r="2.6"/><circle class="c19" cx="372.8" cy="360.7" r="2.6"/>
<circle class="c19" cx="391.8" cy="360.1" r="2.6"/><circle class="c18" cx="381.2" cy="353.6" r="2.6"/><circle class="c39" cx="347.2" cy="356.1" r="2.6"/><circle class="c14" cx="382.6" cy="365.1" r="2.6"/><circle class="c39" cx="352.6" cy="360.6" r="2.6"/><circle class="c14" cx="380.4" cy="358.0" r="2.6"/>
<circle class="c13" cx="386.3" cy="362.7" r="2.6"/><circle class="c25" cx="363.5" cy="359.5" r="2.6"/><circle class="c16" cx="379.0" cy="355.8" r="2.6"/><circle class="c16" cx="381.7" cy="349.2" r="2.6"/><circle class="c14" cx="386.5" cy="349.2" r="2.6"/><circle class="c26" cx="369.5" cy="358.4" r="2.6"/>
<circle class="c0" cx="411.9" cy="359.7" r="2.6"/><circle class="c14" cx="393.2" cy="354.1" r="2.6"/><circle class="c0" cx="405.7" cy="359.0" r="2.6"/><circle class="c18" cx="387.0" cy="351.5" r="2.6"/><circle class="c4" cx="470.5" cy="358.2" r="2.6"/><circle class="c19" cx="373.7" cy="360.6" r="2.6"/>
<circle class="c9" cx="437.0" cy="357.5" r="2.6"/><circle class="c28" cx="349.1" cy="360.2" r="2.6"/><circle class="c32" cx="360.0" cy="356.9" r="2.6"/><circle class="c38" cx="351.0" cy="355.8" r="2.6"/><circle class="c2" cx="411.8" cy="356.7" r="2.6"/><circle class="c12" cx="388.8" cy="351.0" r="2.6"/>
<circle class="c17" cx="379.5" cy="350.9" r="2.6"/><circle class="c6" cx="400.0" cy="356.4" r="2.6"/><circle class="c28" cx="362.6" cy="356.9" r="2.6"/><circle class="c39" cx="336.0" cy="358.4" r="2.6"/><circle class="c15" cx="382.6" cy="358.3" r="2.6"/><circle class="c1" cx="478.0" cy="358.2" r="2.6"/>
<circle class="c16" cx="381.7" cy="356.0" r="2.6"/><circle class="c26" cx="367.3" cy="356.5" r="2.6"/><circle class="c35" cx="357.5" cy="356.3" r="2.6"/><circle class="c1" cx="447.0" cy="358.2" r="2.6"/><circle class="c18" cx="391.0" cy="363.6" r="2.6"/><circle class="c21" cx="355.2" cy="357.8" r="2.6"/>
<circle class="c14" cx="379.1" cy="360.4" r="2.6"/><circle class="c9" cx="463.3" cy="358.2" r="2.6"/><circle class="c0" cx="415.2" cy="358.5" r="2.6"/><circle class="c15" cx="389.8" cy="353.3" r="2.6"/><circle class="c11" cx="440.8" cy="358.1" r="2.6"/><circle class="c22" cx="387.0" cy="360.3" r="2.6"/>
<circle class="c17" cx="387.6" cy="360.8" r="2.6"/><circle class="c12" cx="395.0" cy="360.6" r="2.6"/><circle class="c16" cx="387.9" cy="363.0" r="2.6"/><circle class="c16" cx="384.7" cy="349.9" r="2.6"/><circle class="c22" cx="371.0" cy="359.9" r="2.6"/><circle class="c15" cx="377.6" cy="357.2" r="2.6"/>
<circle class="c26" cx="352.2" cy="358.0" r="2.6"/><circle class="c16" cx="385.1" cy="361.9" r="2.6"/><circle class="c15" cx="398.4" cy="359.9" r="2.6"/><circle class="c2" cx="419.7" cy="358.3" r="2.6"/><circle class="c13" cx="389.6" cy="362.6" r="2.6"/><circle class="c18" cx="388.2" cy="348.8" r="2.6"/>
<circle class="c2" cx="424.7" cy="357.2" r="2.6"/><circle class="c0" cx="416.6" cy="360.7" r="2.6"/><circle class="c38" cx="341.9" cy="358.3" r="2.6"/><circle class="c32" cx="360.5" cy="359.5" r="2.6"/><circle class="c11" cx="384.4" cy="345.4" r="2.6"/><circle class="c11" cx="378.8" cy="358.4" r="2.6"/>
<circle class="c8" cx="435.5" cy="358.8" r="2.6"/><circle class="c37" cx="344.3" cy="360.5" r="2.6"/><circle class="c14" cx="402.8" cy="359.3" r="2.6"/><circle class="c18" cx="366.4" cy="356.7" r="2.6"/><circle class="c1" cx="418.3" cy="360.5" r="2.6"/><circle class="c18" cx="387.3" cy="367.0" r="2.6"/>
<circle class="c8" cx="437.8" cy="358.7" r="2.6"/><circle class="c12" cx="383.2" cy="370.6" r="2.6"/><circle class="c6" cx="425.5" cy="357.3" r="2.6"/><circle class="c15" cx="401.9" cy="359.6" r="2.6"/><circle class="c9" cx="428.5" cy="357.4" r="2.6"/><circle class="c39" cx="351.8" cy="356.1" r="2.6"/>
<circle class="c14" cx="385.1" cy="366.4" r="2.6"/><circle class="c38" cx="339.3" cy="357.3" r="2.6"/><circle class="c20" cx="373.0" cy="355.3" r="2.6"/><circle class="c19" cx="391.6" cy="352.7" r="2.6"/><circle class="c19" cx="378.4" cy="354.7" r="2.6"/><circle class="c15" cx="380.7" cy="351.2" r="2.6"/>
<circle class="c10" cx="389.8" cy="358.2" r="2.6"/><circle class="c24" cx="389.9" cy="360.4" r="2.6"/><circle class="c24" cx="344.1" cy="355.9" r="2.6"/><circle class="c29" cx="346.2" cy="358.5" r="2.6"/><circle class="c16" cx="396.7" cy="355.8" r="2.6"/><circle class="c10" cx="458.9" cy="358.2" r="2.6"/>
<circle class="c17" cx="388.8" cy="353.3" r="2.6"/><circle class="c20" cx="378.9" cy="362.7" r="2.6"/><circle class="c21" cx="369.0" cy="359.6" r="2.6"/><circle class="c15" cx="399.2" cy="359.6" r="2.6"/><circle class="c3" cx="412.8" cy="360.1" r="2.6"/><circle class="c20" cx="378.5" cy="359.2" r="2.6"/>
<circle class="c39" cx="331.8" cy="358.1" r="2.6"/><circle class="c11" cx="432.2" cy="357.5" r="2.6"/><circle class="c4" cx="426.1" cy="359.2" r="2.6"/><circle class="c25" cx="365.9" cy="359.5" r="2.6"/><circle class="c38" cx="337.6" cy="358.1" r="2.6"/><circle class="c14" cx="394.1" cy="356.9" r="2.6"/>
<circle class="c20" cx="388.7" cy="367.2" r="2.6"/><circle class="c10" cx="421.8" cy="359.8" r="2.6"/><circle class="c5" cx="409.7" cy="359.2" r="2.6"/><circle class="c33" cx="349.4" cy="357.9" r="2.6"/><circle class="c11" cx="410.1" cy="356.9" r="2.6"/><circle class="c38" cx="341.8" cy="359.8" r="2.6"/>
<circle class="c0" cx="414.0" cy="360.5" r="2.6"/><circle class="c4" cx="439.2" cy="358.2" r="2.6"/><circle class="c33" cx="358.8" cy="356.8" r="2.6"/><circle class="c21" cx="391.4" cy="359.1" r="2.6"/><circle class="c38" cx="334.2" cy="357.9" r="2.6"/><circle class="c24" cx="381.1" cy="367.2" r="2.6"/>
<circle class="c27" cx="353.9" cy="360.4" r="2.6"/><circle class="c38" cx="350.3" cy="360.3" r="2.6"/><circle class="c1" cx="422.9" cy="357.0" r="2.6"/><circle class="c1" cx="420.7" cy="356.4" r="2.6"/><circle class="c13" cx="400.6" cy="356.7" r="2.6"/><circle class="c17" cx="376.7" cy="359.7" r="2.6"/>
<circle class="c34" cx="355.8" cy="355.9" r="2.6"/><circle class="c20" cx="382.8" cy="346.8" r="2.6"/><circle class="c3" cx="403.5" cy="359.2" r="2.6"/><circle class="c1" cx="414.1" cy="356.0" r="2.6"/><circle class="c16" cx="398.1" cy="356.1" r="2.6"/><circle class="c20" cx="376.9" cy="362.4" r="2.6"/>
<circle class="c21" cx="382.1" cy="351.5" r="2.6"/><circle class="c16" cx="383.7" cy="347.8" r="2.6"/><circle class="c33" cx="356.1" cy="358.3" r="2.6"/><circle class="c27" cx="372.2" cy="358.4" r="2.6"/><circle class="c21" cx="359.1" cy="359.5" r="2.6"/><circle class="c24" cx="383.2" cy="350.1" r="2.6"/>
<circle class="c10" cx="436.2" cy="357.4" r="2.6"/><circle class="c39" cx="339.6" cy="356.7" r="2.6"/><circle class="c2" cx="416.1" cy="355.8" r="2.6"/><circle class="c20" cx="375.0" cy="359.5" r="2.6"/><circle class="c13" cx="405.3" cy="357.4" r="2.6"/><circle class="c14" cx="385.4" cy="359.4" r="2.6"/>
<circle class="c24" cx="387.9" cy="364.7" r="2.6"/><circle class="c1" cx="420.6" cy="359.5" r="2.6"/><circle class="c39" cx="343.1" cy="359.9" r="2.6"/><circle class="c39" cx="342.6" cy="357.8" r="2.6"/><circle class="c4" cx="390.9" cy="354.6" r="2.6"/><circle class="c1" cx="416.1" cy="360.5" r="2.6"/>
<circle class="c28" cx="365.0" cy="356.7" r="2.6"/><circle class="c22" cx="371.1" cy="356.3" r="2.6"/><circle class="c6" cx="406.8" cy="358.8" r="2.6"/><circle class="c13" cx="383.7" cy="359.4" r="2.6"/><circle class="c0" cx="424.5" cy="359.1" r="2.6"/><circle class="c16" cx="381.3" cy="364.6" r="2.6"/>
<circle class="c21" cx="382.5" cy="353.4" r="2.6"/><circle class="c31" cx="345.0" cy="358.3" r="2.6"/><circle class="c22" cx="385.7" cy="368.6" r="2.6"/><circle class="c10" cx="430.7" cy="358.8" r="2.6"/><circle class="c1" cx="414.4" cy="357.8" r="2.6"/><circle class="c17" cx="385.7" cy="357.0" r="2.6"/>
<circle class="c34" cx="355.0" cy="356.3" r="2.6"/><circle class="c26" cx="362.2" cy="359.4" r="2.6"/><circle class="c16" cx="391.9" cy="358.5" r="2.6"/><circle class="c7" cx="444.1" cy="358.1" r="2.6"/><circle class="c15" cx="384.7" cy="345.8" r="2.6"/><circle class="c12" cx="386.8" cy="353.7" r="2.6"/>
<circle class="c2" cx="427.5" cy="357.2" r="2.6"/><circle class="c34" cx="338.2" cy="359.3" r="2.6"/><circle class="c0" cx="413.0" cy="358.4" r="2.6"/><circle class="c20" cx="386.0" cy="356.3" r="2.6"/><circle class="c17" cx="383.2" cy="363.7" r="2.6"/><circle class="c2" cx="381.8" cy="406.7" r="2.6"/>
<circle class="c14" cx="383.6" cy="386.7" r="2.6"/><circle class="c2" cx="401.8" cy="398.6" r="2.6"/><circle class="c4" cx="379.1" cy="392.8" r="2.6"/><circle class="c8" cx="379.3" cy="401.9" r="2.6"/><circle class="c1" cx="382.2" cy="394.7" r="2.6"/><circle class="c22" cx="396.1" cy="404.4" r="2.6"/>
<circle class="c34" cx="356.3" cy="400.6" r="2.6"/><circle class="c27" cx="393.4" cy="409.5" r="2.6"/><circle class="c28" cx="358.1" cy="400.6" r="2.6"/><circle class="c38" cx="349.6" cy="397.6" r="2.6"/><circle class="c32" cx="348.5" cy="395.1" r="2.6"/><circle class="c28" cx="383.0" cy="393.5" r="2.6"/>
<circle class="c39" cx="360.0" cy="398.2" r="2.6"/><circle class="c1" cx="383.4" cy="405.0" r="2.6"/><circle class="c17" cx="401.5" cy="393.3" r="2.6"/><circle class="c36" cx="363.1" cy="399.8" r="2.6"/><circle class="c7" cx="393.8" cy="385.3" r="2.6"/><circle class="c12" cx="383.5" cy="398.1" r="2.6"/>
<circle class="c4" cx="388.9" cy="399.2" r="2.6"/><circle class="c12" cx="400.3" cy="394.8" r="2.6"/><circle class="c3" cx="391.8" cy="389.5" r="2.6"/><circle class="c12" cx="391.9" cy="398.8" r="2.6"/><circle class="c2" cx="390.4" cy="407.5" r="2.6"/><circle class="c24" cx="375.9" cy="400.9" r="2.6"/>
<circle class="c17" cx="422.0" cy="397.3" r="2.6"/><circle class="c4" cx="395.8" cy="388.0" r="2.6"/><circle class="c28" cx="395.4" cy="403.5" r="2.6"/><circle class="c31" cx="347.9" cy="399.5" r="2.6"/><circle class="c14" cx="373.3" cy="397.0" r="2.6"/><circle class="c12" cx="382.1" cy="404.6" r="2.6"/>
<circle class="c39" cx="353.4" cy="396.4" r="2.6"/><circle class="c27" cx="386.6" cy="409.4" r="2.6"/><circle class="c4" cx="385.2" cy="406.2" r="2.6"/><circle class="c23" cx="365.4" cy="399.4" r="2.6"/><circle class="c15" cx="376.1" cy="398.8" r="2.6"/><circle class="c39" cx="341.5" cy="397.4" r="2.6"/>
<circle class="c1" cx="387.9" cy="389.4" r="2.6"/><circle class="c31" cx="356.7" cy="394.5" r="2.6"/><circle class="c37" cx="335.3" cy="397.2" r="2.6"/><circle class="c18" cx="413.2" cy="398.1" r="2.6"/><circle class="c7" cx="394.7" cy="390.9" r="2.6"/><circle class="c0" cx="397.8" cy="399.8" r="2.6"/>
<circle class="c28" cx="393.7" cy="407.4" r="2.6"/><circle class="c29" cx="391.8" cy="407.4" r="2.6"/><circle class="c13" cx="392.8" cy="387.8" r="2.6"/><circle class="c28" cx="391.7" cy="400.9" r="2.6"/><circle class="c26" cx="386.1" cy="387.8" r="2.6"/><circle class="c28" cx="395.2" cy="401.4" r="2.6"/>
<circle class="c16" cx="389.6" cy="407.8" r="2.6"/><circle class="c16" cx="372.5" cy="399.0" r="2.6"/><circle class="c4" cx="380.8" cy="389.3" r="2.6"/><circle class="c36" cx="369.7" cy="395.9" r="2.6"/><circle class="c0" cx="391.0" cy="391.1" r="2.6"/><circle class="c15" cx="404.2" cy="395.9" r="2.6"/>
<circle class="c21" cx="408.6" cy="397.5" r="2.6"/><circle class="c13" cx="385.6" cy="404.8" r="2.6"/><circle class="c39" cx="344.9" cy="398.4" r="2.6"/><circle class="c30" cx="372.0" cy="399.0" r="2.6"/><circle class="c4" cx="399.0" cy="398.5" r="2.6"/><circle class="c12" cx="392.5" cy="391.3" r="2.6"/>
<circle class="c18" cx="416.6" cy="397.6" r="2.6"/><circle class="c13" cx="393.5" cy="395.9" r="2.6"/><circle class="c24" cx="364.0" cy="399.0" r="2.6"/><circle class="c2" cx="380.0" cy="393.9" r="2.6"/><circle class="c13" cx="394.6" cy="388.6" r="2.6"/><circle class="c0" cx="381.2" cy="392.8" r="2.6"/>
<circle class="c19" cx="407.4" cy="395.7" r="2.6"/><circle class="c2" cx="385.5" cy="391.5" r="2.6"/><circle class="c1" cx="399.0" cy="391.6" r="2.6"/><circle class="c0" cx="384.7" cy="404.1" r="2.6"/><circle class="c15" cx="402.9" cy="394.7" r="2.6"/><circle class="c28" cx="364.2" cy="397.1" r="2.6"/>
<circle class="c34" cx="358.7" cy="398.1" r="2.6"/><circle class="c33" cx="361.3" cy="400.4" r="2.6"/><circle class="c27" cx="378.3" cy="396.9" r="2.6"/><circle class="c15" cx="395.1" cy="394.7" r="2.6"/><circle class="c3" cx="389.6" cy="403.5" r="2.6"/><circle class="c15" cx="406.8" cy="399.0" r="2.6"/>
<circle class="c1" cx="387.9" cy="391.8" r="2.6"/><circle class="c28" cx="388.1" cy="400.8" r="2.6"/><circle class="c38" cx="349.5" cy="394.7" r="2.6"/><circle class="c37" cx="344.6" cy="396.2" r="2.6"/><circle class="c30" cx="385.8" cy="398.5" r="2.6"/><circle class="c0" cx="387.5" cy="387.3" r="2.6"/>
<circle class="c15" cx="394.2" cy="397.2" r="2.6"/><circle class="c14" cx="406.8" cy="395.1" r="2.6"/><circle class="c27" cx="391.2" cy="401.1" r="2.6"/><circle class="c15" cx="411.9" cy="396.1" r="2.6"/><circle class="c26" cx="353.7" cy="398.4" r="2.6"/><circle class="c22" cx="378.0" cy="392.5" r="2.6"/>
<circle class="c39" cx="345.9" cy="396.1" r="2.6"/><circle class="c2" cx="378.6" cy="399.4" r="2.6"/><circle class="c34" cx="342.1" cy="397.4" r="2.6"/><circle class="c12" cx="394.3" cy="405.6" r="2.6"/><circle class="c39" cx="353.0" cy="394.5" r="2.6"/><circle class="c2" cx="386.3" cy="385.0" r="2.6"/>
<circle class="c16" cx="396.7" cy="392.5" r="2.6"/><circle class="c16" cx="396.7" cy="406.6" r="2.6"/><circle class="c4" cx="385.5" cy="407.0" r="2.6"/><circle class="c39" cx="339.2" cy="397.4" r="2.6"/><circle class="c28" cx="357.0" cy="396.1" r="2.6"/><circle class="c37" cx="334.5" cy="397.2" r="2.6"/>
<circle class="c15" cx="400.7" cy="392.9" r="2.6"/><circle class="c0" cx="385.3" cy="388.1" r="2.6"/><circle class="c1" cx="396.4" cy="401.5" r="2.6"/><circle class="c39" cx="354.2" cy="400.5" r="2.6"/><circle class="c39" cx="352.3" cy="398.2" r="2.6"/><circle class="c27" cx="389.4" cy="405.5" r="2.6"/>
<circle class="c35" cx="338.3" cy="397.1" r="2.6"/><circle class="c15" cx="400.1" cy="399.3" r="2.6"/><circle class="c19" cx="419.6" cy="397.2" r="2.6"/><circle class="c13" cx="390.2" cy="398.3" r="2.6"/><circle class="c27" cx="379.1" cy="390.7" r="2.6"/><circle class="c16" cx="400.6" cy="401.9" r="2.6"/>
<circle class="c38" cx="360.2" cy="400.5" r="2.6"/><circle class="c8" cx="393.4" cy="404.7" r="2.6"/><circle class="c15" cx="410.3" cy="398.6" r="2.6"/><circle class="c15" cx="390.7" cy="396.5" r="2.6"/><circle class="c9" cx="383.1" cy="403.2" r="2.6"/><circle class="c7" cx="383.1" cy="389.5" r="2.6"/>
<circle class="c27" cx="391.5" cy="384.5" r="2.6"/><circle class="c39" cx="355.4" cy="396.3" r="2.6"/><circle class="c27" cx="387.4" cy="384.5" r="2.6"/><circle class="c14" cx="391.1" cy="384.5" r="2.6"/><circle class="c38" cx="347.6" cy="395.3" r="2.6"/><circle class="c13" cx="393.6" cy="389.8" r="2.6"/>
<circle class="c39" cx="331.8" cy="397.2" r="2.6"/><circle class="c27" cx="395.1" cy="399.1" r="2.6"/><circle class="c32" cx="371.0" cy="395.5" r="2.6"/><circle class="c28" cx="392.0" cy="396.1" r="2.6"/><circle class="c26" cx="390.6" cy="410.1" r="2.6"/><circle class="c17" cx="381.2" cy="399.9" r="2.6"/>
<circle class="c16" cx="402.4" cy="400.8" r="2.6"/><circle class="c39" cx="353.9" cy="394.3" r="2.6"/><circle class="c8" cx="378.4" cy="394.9" r="2.6"/><circle class="c10" cx="391.0" cy="393.7" r="2.6"/><circle class="c27" cx="347.5" cy="399.3" r="2.6"/><circle class="c12" cx="395.5" cy="392.8" r="2.6"/>
<circle class="c14" cx="398.8" cy="400.7" r="2.6"/><circle class="c13" cx="385.7" cy="400.2" r="2.6"/><circle class="c13" cx="388.5" cy="395.4" r="2.6"/><circle class="c1" cx="395.8" cy="394.8" r="2.6"/><circle class="c0" cx="390.8" cy="386.6" r="2.6"/><circle class="c38" cx="344.6" cy="398.3" r="2.6"/>
<circle class="c27" cx="382.8" cy="400.4" r="2.6"/><circle class="c2" cx="387.7" cy="398.1" r="2.6"/><circle class="c29" cx="386.1" cy="393.9" r="2.6"/><circle class="c4" cx="391.9" cy="394.1" r="2.6"/><circle class="c3" cx="392.6" cy="403.2" r="2.6"/><circle class="c2" cx="386.3" cy="395.8" r="2.6"/>
<circle class="c34" cx="368.4" cy="398.7" r="2.6"/><circle class="c18" cx="408.3" cy="398.8" r="2.6"/><circle class="c26" cx="383.9" cy="396.4" r="2.6"/><circle class="c37" cx="359.7" cy="393.8" r="2.6"/><circle class="c27" cx="380.4" cy="402.8" r="2.6"/><circle class="c28" cx="389.9" cy="405.5" r="2.6"/>
<circle class="c17" cx="421.3" cy="397.2" r="2.6"/><circle class="c26" cx="394.0" cy="398.1" r="2.6"/><circle class="c15" cx="375.0" cy="400.2" r="2.6"/><circle class="c39" cx="351.1" cy="400.0" r="2.6"/><circle class="c13" cx="393.4" cy="393.7" r="2.6"/><circle class="c13" cx="385.0" cy="390.4" r="2.6"/>
<circle class="c29" cx="388.8" cy="384.6" r="2.6"/><circle class="c28" cx="366.5" cy="397.6" r="2.6"/><circle class="c19" cx="415.5" cy="397.7" r="2.6"/><circle class="c29" cx="364.5" cy="395.0" r="2.6"/><circle class="c28" cx="387.6" cy="394.1" r="2.6"/><circle class="c4" cx="389.4" cy="388.7" r="2.6"/>
<circle class="c22" cx="397.8" cy="404.6" r="2.6"/><circle class="c16" cx="404.1" cy="400.4" r="2.6"/><circle class="c29" cx="367.2" cy="399.0" r="2.6"/><circle class="c16" cx="389.0" cy="386.8" r="2.6"/><circle class="c34" cx="351.4" cy="397.0" r="2.6"/><circle class="c19" cx="404.3" cy="397.0" r="2.6"/>
<circle class="c16" cx="406.7" cy="397.1" r="2.6"/><circle class="c22" cx="394.7" cy="386.6" r="2.6"/><circle class="c38" cx="355.2" cy="394.0" r="2.6"/><circle class="c26" cx="375.4" cy="395.6" r="2.6"/><circle class="c13" cx="374.5" cy="394.9" r="2.6"/><circle class="c15" cx="418.1" cy="397.0" r="2.6"/>
<circle class="c39" cx="354.1" cy="396.5" r="2.6"/><circle class="c13" cx="382.7" cy="407.7" r="2.6"/><circle class="c26" cx="390.6" cy="389.1" r="2.6"/><circle class="c17" cx="424.4" cy="397.3" r="2.6"/><circle class="c34" cx="361.8" cy="397.6" r="2.6"/><circle class="c16" cx="373.3" cy="395.1" r="2.6"/>
<circle class="c36" cx="365.7" cy="395.4" r="2.6"/><circle class="c15" cx="396.4" cy="397.5" r="2.6"/><circle class="c15" cx="411.4" cy="395.8" r="2.6"/><circle class="c2" cx="378.0" cy="400.1" r="2.6"/><circle class="c14" cx="402.6" cy="395.8" r="2.6"/><circle class="c5" cx="392.4" cy="387.3" r="2.6"/>
<circle class="c31" cx="377.6" cy="396.4" r="2.6"/><circle class="c38" cx="358.7" cy="395.8" r="2.6"/><circle class="c1" cx="395.6" cy="390.6" r="2.6"/><circle class="c27" cx="381.0" cy="396.2" r="2.6"/><circle class="c32" cx="358.2" cy="394.5" r="2.6"/><circle class="c28" cx="385.1" cy="399.7" r="2.6"/>
<circle class="c34" cx="368.7" cy="395.7" r="2.6"/><circle class="c9" cx="393.0" cy="400.8" r="2.6"/><circle class="c33" cx="336.3" cy="397.2" r="2.6"/><circle class="c2" cx="381.3" cy="401.7" r="2.6"/><circle class="c14" cx="396.6" cy="399.7" r="2.6"/><circle class="c16" cx="384.9" cy="397.4" r="2.6"/>
<circle class="c32" cx="376.9" cy="398.2" r="2.6"/><circle class="c17" cx="394.5" cy="408.4" r="2.6"/><circle class="c16" cx="399.0" cy="393.6" r="2.6"/><circle class="c25" cx="382.4" cy="390.3" r="2.6"/><circle class="c35" cx="347.9" cy="397.4" r="2.6"/><circle class="c27" cx="389.2" cy="392.6" r="2.6"/>
<circle class="c27" cx="397.1" cy="397.2" r="2.6"/><circle class="c1" cx="388.9" cy="401.4" r="2.6"/><circle class="c19" cx="404.1" cy="397.8" r="2.6"/><circle class="c23" cx="398.7" cy="402.5" r="2.6"/><circle class="c1" cx="389.7" cy="397.0" r="2.6"/><circle class="c13" cx="379.0" cy="404.1" r="2.6"/>
<circle class="c33" cx="374.3" cy="397.6" r="2.6"/><circle class="c39" cx="349.8" cy="400.0" r="2.6"/><circle class="c30" cx="387.9" cy="409.7" r="2.6"/><circle class="c15" cx="379.8" cy="400.6" r="2.6"/><circle class="c16" cx="387.8" cy="407.7" r="2.6"/><circle class="c7" cx="384.5" cy="386.0" r="2.6"/>
<circle class="c16" cx="380.2" cy="391.3" r="2.6"/><circle class="c35" cx="366.7" cy="395.8" r="2.6"/><circle class="c33" cx="356.7" cy="398.1" r="2.6"/><circle class="c35" cx="363.6" cy="396.9" r="2.6"/><circle class="c26" cx="351.0" cy="394.5" r="2.6"/><circle class="c15" cx="380.2" cy="398.3" r="2.6"/>
<circle class="c17" cx="408.7" cy="398.6" r="2.6"/><circle class="c38" cx="352.6" cy="400.6" r="2.6"/><circle class="c27" cx="384.5" cy="394.6" r="2.6"/><circle class="c26" cx="387.6" cy="405.5" r="2.6"/><circle class="c14" cx="409.7" cy="395.9" r="2.6"/><circle class="c27" cx="389.3" cy="410.2" r="2.6"/>
<circle class="c29" cx="346.9" cy="396.9" r="2.6"/><circle class="c14" cx="397.7" cy="402.0" r="2.6"/><circle class="c14" cx="385.5" cy="389.9" r="2.6"/><circle class="c28" cx="391.7" cy="405.2" r="2.6"/><circle class="c15" cx="384.4" cy="409.0" r="2.6"/><circle class="c18" cx="405.5" cy="395.0" r="2.6"/>
<circle class="c18" cx="370.8" cy="398.6" r="2.6"/><circle class="c15" cx="404.4" cy="400.0" r="2.6"/><circle class="c22" cx="400.8" cy="397.1" r="2.6"/><circle class="c3" cx="387.0" cy="402.7" r="2.6"/><circle class="c13" cx="386.8" cy="402.6" r="2.6"/><circle class="c17" cx="413.1" cy="396.6" r="2.6"/>
<circle class="c16" cx="397.7" cy="394.7" r="2.6"/><circle class="c14" cx="398.0" cy="390.1" r="2.6"/><circle class="c27" cx="378.1" cy="402.3" r="2.6"/><circle class="c12" cx="389.3" cy="390.6" r="2.6"/><circle class="c29" cx="361.9" cy="394.2" r="2.6"/><circle class="c15" cx="384.5" cy="392.6" r="2.6"/>
<circle class="c0" cx="387.6" cy="396.0" r="2.6"/><circle class="c28" cx="392.5" cy="409.6" r="2.6"/><circle class="c34" cx="356.9" cy="400.0" r="2.6"/><circle class="c15" cx="376.5" cy="393.5" r="2.6"/><circle class="c23" cx="360.1" cy="396.1" r="2.6"/><circle class="c35" cx="362.9" cy="394.7" r="2.6"/>
<circle class="c13" cx="382.1" cy="387.9" r="2.6"/><circle class="c1" cx="385.2" cy="401.7" r="2.6"/><circle class="c1" cx="397.5" cy="392.7" r="2.6"/><circle class="c14" cx="379.7" cy="405.5" r="2.6"/><circle class="c12" cx="382.0" cy="397.6" r="2.6"/><circle class="c17" cx="415.2" cy="396.5" r="2.6"/>
<circle class="c13" cx="399.2" cy="396.2" r="2.6"/><circle class="c25" cx="390.9" cy="403.1" r="2.6"/><circle class="c2" cx="394.1" cy="402.9" r="2.6"/><circle class="c18" cx="412.1" cy="398.2" r="2.6"/><circle class="c14" cx="377.4" cy="394.4" r="2.6"/><circle class="c25" cx="382.9" cy="391.4" r="2.6"/>
<circle class="c38" cx="355.0" cy="398.1" r="2.6"/><circle class="c0" cx="393.2" cy="391.9" r="2.6"/><circle class="c6" cx="400.7" cy="436.4" r="2.6"/><circle class="c18" cx="383.5" cy="448.2" r="2.6"/><circle class="c16" cx="375.9" cy="440.3" r="2.6"/><circle class="c17" cx="386.1" cy="428.4" r="2.6"/>
<circle class="c26" cx="402.2" cy="438.0" r="2.6"/><circle class="c23" cx="392.2" cy="434.1" r="2.6"/><circle class="c25" cx="384.7" cy="433.3" r="2.6"/><circle class="c16" cx="392.6" cy="435.0" r="2.6"/><circle class="c37" cx="366.2" cy="434.3" r="2.6"/><circle class="c5" cx="403.5" cy="436.4" r="2.6"/>
<circle class="c38" cx="381.3" cy="440.8" r="2.6"/><circle class="c37" cx="378.7" cy="437.8" r="2.6"/><circle class="c33" cx="409.2" cy="435.7" r="2.6"/><circle class="c16" cx="401.5" cy="434.7" r="2.6"/><circle class="c22" cx="395.9" cy="433.2" r="2.6"/><circle class="c34" cx="405.6" cy="437.1" r="2.6"/>
<circle class="c25" cx="386.7" cy="434.4" r="2.6"/><circle class="c26" cx="382.8" cy="431.1" r="2.6"/><circle class="c25" cx="373.0" cy="428.9" r="2.6"/><circle class="c16" cx="362.2" cy="435.6" r="2.6"/><circle class="c39" cx="378.4" cy="439.3" r="2.6"/><circle class="c23" cx="389.9" cy="443.5" r="2.6"/>
<circle class="c16" cx="380.7" cy="426.0" r="2.6"/><circle class="c39" cx="384.9" cy="430.7" r="2.6"/><circle class="c17" cx="393.1" cy="431.2" r="2.6"/><circle class="c33" cx="406.2" cy="435.4" r="2.6"/><circle class="c18" cx="393.1" cy="443.6" r="2.6"/><circle class="c38" cx="388.0" cy="429.0" r="2.6"/>
<circle class="c3" cx="367.7" cy="439.6" r="2.6"/><circle class="c37" cx="388.2" cy="432.6" r="2.6"/><circle class="c3" cx="364.0" cy="432.4" r="2.6"/><circle class="c0" cx="359.3" cy="438.2" r="2.6"/><circle class="c35" cx="374.3" cy="444.5" r="2.6"/><circle class="c26" cx="383.1" cy="439.3" r="2.6"/>
<circle class="c32" cx="410.0" cy="437.0" r="2.6"/><circle class="c26" cx="378.8" cy="430.7" r="2.6"/><circle class="c16" cx="393.5" cy="439.6" r="2.6"/><circle class="c36" cx="373.0" cy="443.9" r="2.6"/><circle class="c3" cx="388.3" cy="447.0" r="2.6"/><circle class="c2" cx="357.9" cy="434.8" r="2.6"/>
<circle class="c1" cx="363.6" cy="440.0" r="2.6"/><circle class="c38" cx="382.8" cy="445.8" r="2.6"/><circle class="c2" cx="377.6" cy="443.2" r="2.6"/><circle class="c3" cx="389.4" cy="435.3" r="2.6"/><circle class="c37" cx="385.9" cy="430.9" r="2.6"/><circle class="c16" cx="387.9" cy="440.7" r="2.6"/>
<circle class="c17" cx="388.9" cy="442.5" r="2.6"/><circle class="c18" cx="382.0" cy="425.5" r="2.6"/><circle class="c17" cx="371.3" cy="431.8" r="2.6"/><circle class="c0" cx="365.7" cy="436.1" r="2.6"/><circle class="c13" cx="391.4" cy="445.1" r="2.6"/><circle class="c17" cx="389.4" cy="444.2" r="2.6"/>
<circle class="c2" cx="371.4" cy="429.8" r="2.6"/><circle class="c15" cx="378.0" cy="433.4" r="2.6"/><circle class="c3" cx="347.7" cy="436.6" r="2.6"/><circle class="c18" cx="392.0" cy="442.5" r="2.6"/><circle class="c34" cx="403.9" cy="437.5" r="2.6"/><circle class="c36" cx="409.6" cy="437.0" r="2.6"/>
<circle class="c26" cx="365.3" cy="440.8" r="2.6"/><circle class="c25" cx="371.0" cy="433.9" r="2.6"/><circle class="c5" cx="382.1" cy="429.9" r="2.6"/><circle class="c15" cx="387.6" cy="431.5" r="2.6"/><circle class="c36" cx="372.9" cy="433.0" r="2.6"/><circle class="c34" cx="407.4" cy="435.6" r="2.6"/>
<circle class="c5" cx="384.7" cy="444.3" r="2.6"/><circle class="c2" cx="359.3" cy="434.1" r="2.6"/><circle class="c14" cx="388.7" cy="437.6" r="2.6"/><circle class="c17" cx="373.6" cy="439.6" r="2.6"/><circle class="c34" cx="367.3" cy="435.7" r="2.6"/><circle class="c15" cx="392.0" cy="427.5" r="2.6"/>
<circle class="c33" cx="416.2" cy="437.0" r="2.6"/><circle class="c3" cx="381.5" cy="445.5" r="2.6"/><circle class="c2" cx="343.4" cy="436.4" r="2.6"/><circle class="c36" cx="387.9" cy="447.7" r="2.6"/><circle class="c37" cx="385.8" cy="439.6" r="2.6"/><circle class="c33" cx="361.0" cy="436.5" r="2.6"/>
<circle class="c1" cx="369.1" cy="437.4" r="2.6"/><circle class="c17" cx="377.1" cy="427.4" r="2.6"/><circle class="c18" cx="374.4" cy="442.1" r="2.6"/><circle class="c17" cx="383.5" cy="437.2" r="2.6"/><circle class="c24" cx="375.2" cy="443.1" r="2.6"/><circle class="c25" cx="379.8" cy="432.8" r="2.6"/>
<circle class="c36" cx="414.9" cy="437.1" r="2.6"/><circle class="c15" cx="388.9" cy="427.9" r="2.6"/><circle class="c37" cx="382.2" cy="434.4" r="2.6"/><circle class="c2" cx="358.7" cy="438.0" r="2.6"/><circle class="c15" cx="397.7" cy="439.8" r="2.6"/><circle class="c36" cx="372.3" cy="439.9" r="2.6"/>
<circle class="c27" cx="377.1" cy="438.8" r="2.6"/><circle class="c28" cx="394.6" cy="443.1" r="2.6"/><circle class="c36" cx="418.9" cy="436.3" r="2.6"/><circle class="c2" cx="370.1" cy="440.9" r="2.6"/><circle class="c4" cx="372.2" cy="430.9" r="2.6"/><circle class="c38" cx="374.3" cy="428.4" r="2.6"/>
<circle class="c17" cx="386.5" cy="446.3" r="2.6"/><circle class="c18" cx="380.9" cy="438.4" r="2.6"/><circle class="c16" cx="396.1" cy="437.1" r="2.6"/><circle class="c26" cx="385.3" cy="432.9" r="2.6"/><circle class="c25" cx="350.3" cy="436.2" r="2.6"/><circle class="c17" cx="390.3" cy="426.9" r="2.6"/>
<circle class="c0" cx="378.5" cy="442.1" r="2.6"/><circle class="c37" cx="385.7" cy="442.2" r="2.6"/><circle class="c15" cx="395.0" cy="433.9" r="2.6"/><circle class="c36" cx="376.7" cy="434.4" r="2.6"/><circle class="c18" cx="405.1" cy="437.4" r="2.6"/><circle class="c25" cx="386.6" cy="437.4" r="2.6"/>
<circle class="c25" cx="385.8" cy="424.1" r="2.6"/><circle class="c38" cx="393.4" cy="433.1" r="2.6"/><circle class="c17" cx="375.9" cy="428.0" r="2.6"/><circle class="c34" cx="383.0" cy="424.4" r="2.6"/><circle class="c0" cx="362.4" cy="439.3" r="2.6"/><circle class="c1" cx="354.6" cy="435.2" r="2.6"/>
<circle class="c26" cx="384.2" cy="441.7" r="2.6"/><circle class="c13" cx="395.0" cy="431.8" r="2.6"/><circle class="c15" cx="390.1" cy="429.1" r="2.6"/><circle class="c39" cx="413.4" cy="437.2" r="2.6"/><circle class="c25" cx="366.7" cy="437.2" r="2.6"/><circle class="c37" cx="415.1" cy="435.5" r="2.6"/>
<circle class="c0" cx="376.0" cy="430.3" r="2.6"/><circle class="c37" cx="377.5" cy="429.2" r="2.6"/><circle class="c36" cx="410.1" cy="435.8" r="2.6"/><circle class="c17" cx="372.5" cy="441.6" r="2.6"/><circle class="c33" cx="360.4" cy="436.7" r="2.6"/><circle class="c24" cx="384.8" cy="423.9" r="2.6"/>
<circle class="c25" cx="368.7" cy="439.7" r="2.6"/><circle class="c16" cx="385.1" cy="446.2" r="2.6"/><circle class="c2" cx="367.0" cy="431.2" r="2.6"/><circle class="c18" cx="382.2" cy="436.5" r="2.6"/><circle class="c15" cx="397.0" cy="435.0" r="2.6"/><circle class="c25" cx="392.1" cy="430.0" r="2.6"/>
<circle class="c14" cx="383.4" cy="426.5" r="2.6"/><circle class="c37" cx="375.8" cy="438.5" r="2.6"/><circle class="c0" cx="381.4" cy="431.6" r="2.6"/><circle class="c6" cx="400.8" cy="434.7" r="2.6"/><circle class="c37" cx="370.3" cy="436.2" r="2.6"/><circle class="c0" cx="345.0" cy="436.5" r="2.6"/>
<circle class="c1" cx="367.5" cy="433.3" r="2.6"/><circle class="c3" cx="362.4" cy="437.5" r="2.6"/><circle class="c32" cx="412.9" cy="435.6" r="2.6"/><circle class="c25" cx="378.0" cy="446.1" r="2.6"/><circle class="c2" cx="400.0" cy="438.7" r="2.6"/><circle class="c37" cx="387.3" cy="427.3" r="2.6"/>
<circle class="c25" cx="386.9" cy="436.0" r="2.6"/><circle class="c26" cx="379.6" cy="437.2" r="2.6"/><circle class="c25" cx="390.7" cy="438.6" r="2.6"/><circle class="c0" cx="364.5" cy="437.3" r="2.6"/><circle class="c3" cx="392.9" cy="442.0" r="2.6"/><circle class="c1" cx="396.1" cy="431.5" r="2.6"/>
<circle class="c36" cx="407.6" cy="436.9" r="2.6"/><circle class="c4" cx="374.1" cy="434.8" r="2.6"/><circle class="c38" cx="386.4" cy="435.4" r="2.6"/><circle class="c24" cx="387.0" cy="438.4" r="2.6"/><circle class="c25" cx="380.7" cy="440.1" r="2.6"/><circle class="c35" cx="412.3" cy="435.5" r="2.6"/>
<circle class="c27" cx="379.3" cy="426.5" r="2.6"/><circle class="c25" cx="369.8" cy="432.2" r="2.6"/><circle class="c26" cx="384.3" cy="428.7" r="2.6"/><circle class="c25" cx="394.0" cy="440.7" r="2.6"/><circle class="c37" cx="371.5" cy="438.9" r="2.6"/><circle class="c5" cx="397.7" cy="432.4" r="2.6"/>
<circle class="c24" cx="362.2" cy="433.0" r="2.6"/><circle class="c25" cx="369.3" cy="429.8" r="2.6"/><circle class="c37" cx="380.6" cy="430.6" r="2.6"/><circle class="c35" cx="374.1" cy="430.3" r="2.6"/><circle class="c4" cx="379.3" cy="428.3" r="2.6"/><circle class="c3" cx="361.5" cy="439.1" r="2.6"/>
<circle class="c26" cx="386.7" cy="445.4" r="2.6"/><circle class="c25" cx="376.6" cy="440.7" r="2.6"/><circle class="c35" cx="366.2" cy="438.7" r="2.6"/><circle class="c23" cx="375.9" cy="434.1" r="2.6"/><circle class="c37" cx="371.7" cy="441.1" r="2.6"/><circle class="c26" cx="373.1" cy="437.2" r="2.6"/>
<circle class="c15" cx="355.1" cy="435.0" r="2.6"/><circle class="c6" cx="390.2" cy="445.7" r="2.6"/><circle class="c35" cx="356.6" cy="434.8" r="2.6"/><circle class="c27" cx="395.0" cy="436.0" r="2.6"/><circle class="c17" cx="371.1" cy="443.5" r="2.6"/><circle class="c27" cx="382.3" cy="435.2" r="2.6"/>
<circle class="c16" cx="390.0" cy="436.1" r="2.6"/><circle class="c2" cx="376.2" cy="444.7" r="2.6"/><circle class="c23" cx="364.3" cy="435.2" r="2.6"/><circle class="c37" cx="375.8" cy="432.0" r="2.6"/><circle class="c38" cx="369.5" cy="434.0" r="2.6"/><circle class="c0" cx="366.7" cy="441.1" r="2.6"/>
<circle class="c35" cx="421.0" cy="436.1" r="2.6"/><circle class="c5" cx="396.4" cy="435.2" r="2.6"/><circle class="c18" cx="392.0" cy="438.5" r="2.6"/><circle class="c25" cx="376.3" cy="436.3" r="2.6"/><circle class="c37" cx="384.4" cy="439.6" r="2.6"/><circle class="c1" cx="353.2" cy="435.5" r="2.6"/>
<circle class="c23" cx="389.7" cy="433.9" r="2.6"/><circle class="c25" cx="397.0" cy="437.9" r="2.6"/><circle class="c38" cx="384.4" cy="425.8" r="2.6"/><circle class="c16" cx="379.6" cy="447.2" r="2.6"/><circle class="c27" cx="389.8" cy="441.3" r="2.6"/><circle class="c16" cx="387.7" cy="443.5" r="2.6"/>
<circle class="c27" cx="379.7" cy="435.2" r="2.6"/><circle class="c37" cx="386.4" cy="425.9" r="2.6"/><circle class="c17" cx="377.2" cy="445.7" r="2.6"/><circle class="c20" cx="399.5" cy="435.6" r="2.6"/><circle class="c4" cx="399.0" cy="433.9" r="2.6"/><circle class="c36" cx="381.5" cy="447.5" r="2.6"/>
<circle class="c17" cx="368.0" cy="434.9" r="2.6"/><circle class="c0" cx="354.3" cy="437.4" r="2.6"/><circle class="c27" cx="368.2" cy="430.5" r="2.6"/><circle class="c23" cx="382.6" cy="433.1" r="2.6"/><circle class="c26" cx="386.7" cy="424.6" r="2.6"/><circle class="c15" cx="382.0" cy="427.6" r="2.6"/>
<circle class="c17" cx="383.4" cy="428.7" r="2.6"/><circle class="c28" cx="352.7" cy="437.3" r="2.6"/><circle class="c25" cx="395.5" cy="441.7" r="2.6"/><circle class="c18" cx="381.9" cy="442.9" r="2.6"/><circle class="c18" cx="379.3" cy="434.9" r="2.6"/><circle class="c38" cx="393.0" cy="437.8" r="2.6"/>
<circle class="c1" cx="342.5" cy="436.4" r="2.6"/><circle class="c1" cx="361.4" cy="434.0" r="2.6"/><circle class="c19" cx="396.7" cy="439.5" r="2.6"/><circle class="c34" cx="417.7" cy="435.6" r="2.6"/><circle class="c3" cx="369.5" cy="443.0" r="2.6"/><circle class="c24" cx="368.6" cy="442.1" r="2.6"/>
<circle class="c25" cx="392.1" cy="431.8" r="2.6"/><circle class="c36" cx="388.4" cy="425.6" r="2.6"/><circle class="c26" cx="385.3" cy="444.5" r="2.6"/><circle class="c27" cx="379.7" cy="428.1" r="2.6"/><circle class="c25" cx="379.6" cy="444.5" r="2.6"/><circle class="c15" cx="391.9" cy="436.4" r="2.6"/>
<circle class="c28" cx="378.6" cy="444.2" r="2.6"/><circle class="c25" cx="393.4" cy="429.0" r="2.6"/><circle class="c24" cx="382.4" cy="441.9" r="2.6"/><circle class="c24" cx="390.7" cy="431.6" r="2.6"/><circle class="c36" cx="365.1" cy="431.9" r="2.6"/><circle class="c25" cx="374.8" cy="433.1" r="2.6"/>
<circle class="c16" cx="385.3" cy="449.2" r="2.6"/><circle class="c37" cx="374.6" cy="437.7" r="2.6"/><circle class="c25" cx="372.2" cy="435.1" r="2.6"/><circle class="c28" cx="388.4" cy="430.2" r="2.6"/><circle class="c18" cx="379.5" cy="442.2" r="2.6"/><circle class="c0" cx="355.4" cy="437.8" r="2.6"/>
<circle class="c26" cx="385.0" cy="448.7" r="2.6"/><circle class="c25" cx="369.8" cy="438.7" r="2.6"/><circle class="c37" cx="384.1" cy="437.8" r="2.6"/><circle class="c15" cx="371.6" cy="436.1" r="2.6"/><circle class="c1" cx="347.0" cy="436.4" r="2.6"/><circle class="c37" cx="388.9" cy="439.8" r="2.6"/>
<circle class="c19" cx="402.8" cy="435.1" r="2.6"/><circle class="c36" cx="418.4" cy="437.0" r="2.6"/><circle class="c4" cx="394.5" cy="429.7" r="2.6"/><circle class="c2" cx="377.4" cy="432.0" r="2.6"/><circle class="c17" cx="399.0" cy="437.2" r="2.6"/><circle class="c26" cx="376.7" cy="436.6" r="2.6"/>
<circle class="c39" cx="412.0" cy="436.9" r="2.6"/><circle class="c2" cx="394.2" cy="438.5" r="2.6"/><circle class="c0" cx="357.1" cy="437.8" r="2.6"/><circle class="c0" cx="351.6" cy="436.2" r="2.6"/><circle class="c27" cx="384.9" cy="434.9" r="2.6"/><circle class="c26" cx="368.2" cy="432.6" r="2.6"/>
<circle class="c36" cx="415.7" cy="435.8" r="2.6"/><circle class="c24" cx="392.1" cy="440.5" r="2.6"/><circle class="c26" cx="405.2" cy="435.4" r="2.6"/><circle class="c39" cx="382.8" cy="443.8" r="2.6"/><circle class="c7" cx="399.0" cy="439.2" r="2.6"/>
</g>
<line x1="136.2" x2="600.0" y1="476.15" y2="476.15" stroke="#2e2e2e" stroke-width="1.25"/>
<line x1="139.5" x2="139.5" y1="476" y2="481" stroke="#333" stroke-width="1.1"/>
<line x1="200.6" x2="200.6" y1="476" y2="481" stroke="#333" stroke-width="1.1"/>
<line x1="261.7" x2="261.7" y1="476" y2="481" stroke="#333" stroke-width="1.1"/>
<line x1="322.8" x2="322.8" y1="476" y2="481" stroke="#333" stroke-width="1.1"/>
<line x1="383.9" x2="383.9" y1="476" y2="481" stroke="#333" stroke-width="1.1"/>
<line x1="445.0" x2="445.0" y1="476" y2="481" stroke="#333" stroke-width="1.1"/>
<line x1="506.1" x2="506.1" y1="476" y2="481" stroke="#333" stroke-width="1.1"/>
<line x1="567.2" x2="567.2" y1="476" y2="481" stroke="#333" stroke-width="1.1"/>
<text x="129.32" y="495.9" font-size="14" fill="#333" textLength="19.68" lengthAdjust="spacingAndGlyphs">−8</text>
<text x="190.89" y="495.9" font-size="14" fill="#333" textLength="19.43" lengthAdjust="spacingAndGlyphs">−6</text>
<text x="252.23" y="495.9" font-size="14" fill="#333" textLength="18.76" lengthAdjust="spacingAndGlyphs">−4</text>
<text x="313.25" y="495.9" font-size="14" fill="#333" textLength="18.96" lengthAdjust="spacingAndGlyphs">−2</text>
<text x="378.94" y="495.9" font-size="14" fill="#333" textLength="8.75" lengthAdjust="spacingAndGlyphs">0</text>
<text x="439.93" y="495.9" font-size="14" fill="#333" textLength="9.23" lengthAdjust="spacingAndGlyphs">2</text>
<text x="502.15" y="495.9" font-size="14" fill="#333" textLength="9.17" lengthAdjust="spacingAndGlyphs">4</text>
<text x="562.75" y="495.9" font-size="14" fill="#333" textLength="9.60" lengthAdjust="spacingAndGlyphs">6</text>
<text x="209.33" y="517.2" font-size="16.4" fill="#151515" textLength="44.72" lengthAdjust="spacingAndGlyphs">SHAP</text>
<text x="260.14" y="517.2" font-size="16.4" fill="#151515" textLength="44.95" lengthAdjust="spacingAndGlyphs">value</text>
<text x="311.10" y="517.2" font-size="16.4" fill="#151515" textLength="64.21" lengthAdjust="spacingAndGlyphs">(impact</text>
<text x="380.62" y="517.2" font-size="16.4" fill="#151515" textLength="22.36" lengthAdjust="spacingAndGlyphs">on</text>
<text x="406.43" y="517.2" font-size="16.4" fill="#151515" textLength="51.76" lengthAdjust="spacingAndGlyphs">model</text>
<text x="463.61" y="517.2" font-size="16.4" fill="#151515" textLength="61.81" lengthAdjust="spacingAndGlyphs">output)</text>
<text x="65.31" y="52.8" font-size="16.4" fill="#333" textLength="41.01" lengthAdjust="spacingAndGlyphs">NDSI</text>
<text x="0.36" y="91.7" font-size="16.4" fill="#333" textLength="106.09" lengthAdjust="spacingAndGlyphs">NDWI_Green</text>
<text x="58.97" y="130.8" font-size="16.4" fill="#333" textLength="46.36" lengthAdjust="spacingAndGlyphs">Slope</text>
<text x="27.96" y="170.3" font-size="16.4" fill="#333" textLength="78.00" lengthAdjust="spacingAndGlyphs">Elevation</text>
<text x="77.85" y="209.3" font-size="16.4" fill="#333" textLength="28.74" lengthAdjust="spacingAndGlyphs">NIR</text>
<text x="63.20" y="248.2" font-size="16.4" fill="#333" textLength="42.93" lengthAdjust="spacingAndGlyphs">NDGI</text>
<text x="49.37" y="287.3" font-size="16.4" fill="#333" textLength="55.67" lengthAdjust="spacingAndGlyphs">Aspect</text>
<text x="13.98" y="326.2" font-size="16.4" fill="#333" textLength="91.66" lengthAdjust="spacingAndGlyphs">NDWI_Blue</text>
<text x="64.93" y="364.9" font-size="16.4" fill="#333" textLength="41.18" lengthAdjust="spacingAndGlyphs">NDVI</text>
<text x="72.30" y="403.9" font-size="16.4" fill="#333" textLength="32.83" lengthAdjust="spacingAndGlyphs">AVV</text>
<text x="71.70" y="443.8" font-size="16.4" fill="#333" textLength="34.09" lengthAdjust="spacingAndGlyphs">AVH</text>
<text x="637.98" y="13.1" font-size="14" fill="#151515" textLength="32.48" lengthAdjust="spacingAndGlyphs">High</text>
<text x="638.34" y="482.0" font-size="14" fill="#151515" textLength="26.73" lengthAdjust="spacingAndGlyphs">Low</text>
<rect x="628.1" y="6.4" width="5.9" height="469.4" fill="url(#cb)"/>
<text transform="translate(683.4,295.4) rotate(-90)" font-size="16.2" fill="#151515" textLength="104.2" lengthAdjust="spacingAndGlyphs">Feature value</text>
</g>
</svg>
</body></html>
